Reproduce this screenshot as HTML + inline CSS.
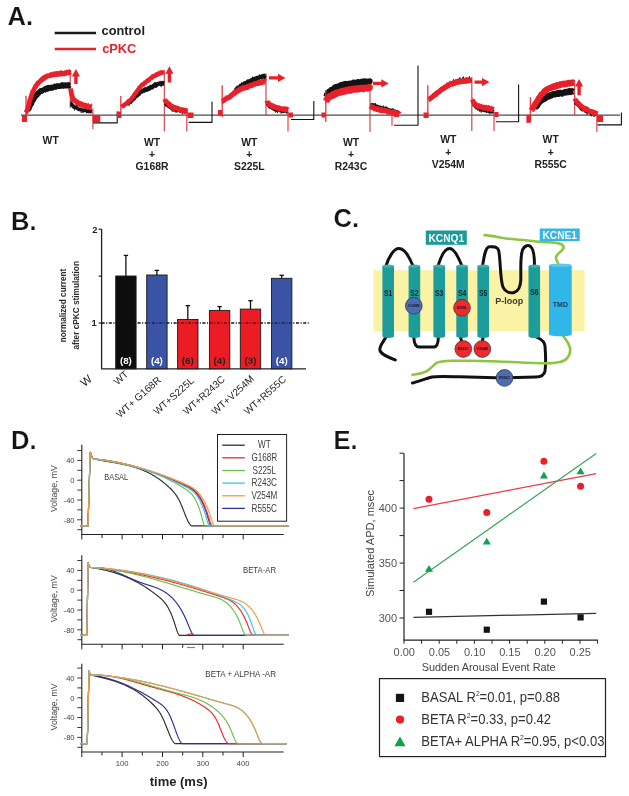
<!DOCTYPE html>
<html><head><meta charset="utf-8"><style>
html,body{margin:0;padding:0;background:#fff;width:629px;height:796px;overflow:hidden}
svg{display:block;filter:blur(0.3px)}
text{font-family:"Liberation Sans",sans-serif}
</style></head><body>
<svg width="629" height="796" viewBox="0 0 629 796">
<rect width="629" height="796" fill="#fff"/>
<g id="A">
<text x="7.6" y="25" font-size="25.5" font-weight="bold" fill="#141414" stroke="#fff" stroke-width="0.22">A.</text>
<line x1="54.7" y1="33" x2="96" y2="33" stroke="#1a1a1a" stroke-width="2.6"/>
<line x1="54.7" y1="49" x2="96" y2="49" stroke="#e8202a" stroke-width="2.6"/>
<text x="101.6" y="35.0" font-size="12.8" font-weight="bold" fill="#222">control</text>
<text x="102.2" y="53.0" font-size="12.8" font-weight="bold" fill="#e8202a">cPKC</text>
<line x1="21" y1="115.2" x2="620" y2="115.2" stroke="#4a4a4a" stroke-width="1.3"/>
<path d="M93,122.9 H117.2 V111.5" fill="none" stroke="#111" stroke-width="1.1"/>
<line x1="70.3" y1="70" x2="70.3" y2="108" stroke="#c0303a" stroke-width="1.3" opacity="0.8"/>
<path d="M28.6,108.6 L28.9,108.9 L29.2,108.1 L29.6,106.6 L30.1,106.0 L30.6,104.9 L31.2,104.1 L31.7,103.2 L32.3,101.3 L32.8,100.2 L33.3,100.2 L33.8,98.9 L34.3,98.5 L34.8,96.8 L35.3,96.6 L35.8,96.3 L36.3,95.1 L36.7,95.4 L37.2,94.9 L37.6,93.3 L38.1,92.9 L38.5,93.1 L39.0,93.1 L39.5,92.1 L39.9,91.5 L40.4,91.5 L40.9,90.7 L41.3,90.7 L41.8,90.8 L42.3,90.6 L42.7,90.1 L43.2,89.9 L43.7,89.7 L44.2,89.7 L44.6,89.3 L45.1,88.8 L45.6,89.6 L46.0,89.0 L46.5,89.0 L47.0,88.2 L47.5,89.0 L48.0,88.7 L48.6,87.6 L49.0,87.8 L49.4,88.1 L49.8,88.0 L50.3,88.2 L50.7,87.5 L51.2,87.9 L51.6,87.6 L52.1,87.1 L52.5,87.3 L53.0,87.6 L53.5,87.5 L54.0,87.0 L54.5,87.0 L55.0,86.2 L55.4,86.4 L55.9,87.0 L56.3,86.5 L56.8,86.1 L57.3,86.4 L57.7,86.5 L58.2,86.4 L58.7,86.0 L59.2,86.0 L59.7,86.0 L60.1,86.2 L60.6,85.8 L61.1,85.6 L61.6,85.7 L62.0,85.0 L62.5,85.0 L62.9,85.7 L63.4,86.0 L64.0,85.5 L64.5,85.2 L65.1,84.9 L65.6,85.3 L66.2,85.9 L66.7,85.6 L67.2,85.3 L67.7,85.7 L68.1,84.9 L68.5,85.2 L68.9,85.8 L69.2,85.3 L69.5,85.2" fill="none" stroke="#141414" stroke-width="5.3" stroke-linejoin="round"/>
<path d="M28.6,107.3 L28.8,108.6 L29.1,105.7 L29.5,109.5 L29.8,104.7 L30.3,106.1 L30.7,107.8 L31.2,103.3 L31.6,106.2 L32.1,103.7 L32.6,101.5 L33.0,101.2 L33.5,100.1 L33.9,97.9 L34.3,101.6 L34.8,96.8 L35.2,100.1 L35.7,98.6 L36.1,92.4 L36.5,93.5 L36.9,94.5 L37.3,96.3 L37.7,91.6 L38.2,94.2 L38.6,92.1 L39.0,94.5 L39.4,95.1 L39.9,93.7 L40.3,89.6 L40.7,93.2 L41.1,90.8 L41.6,93.3 L42.0,90.6 L42.4,93.3 L42.8,93.7 L43.3,92.4 L43.7,92.2 L44.1,92.0 L44.5,90.3 L44.9,87.3 L45.3,92.6 L45.7,88.9 L46.0,85.7 L46.4,88.4 L46.8,88.1 L47.3,86.5 L47.7,91.5 L48.1,85.6 L48.6,90.8 L49.0,88.3 L49.4,85.7 L49.8,86.8 L50.2,87.4 L50.6,85.0 L51.0,89.3 L51.4,88.5 L51.8,90.7 L52.3,89.5 L52.7,89.2 L53.1,90.5 L53.6,90.0 L54.1,87.9 L54.5,87.2 L55.0,87.0 L55.4,88.9 L55.8,89.6 L56.2,88.8 L56.6,88.8 L57.0,83.2 L57.4,85.8 L57.9,83.5 L58.3,86.8 L58.7,86.7 L59.2,86.5 L59.6,88.4 L60.0,84.0 L60.5,87.4 L60.9,86.4 L61.3,83.8 L61.7,88.9 L62.1,82.6 L62.5,85.3 L62.9,85.7 L63.4,86.1 L63.8,88.7 L64.3,85.7 L64.8,88.0 L65.3,83.9 L65.8,85.2 L66.2,82.9 L66.7,86.2 L67.1,84.7 L67.6,87.2 L68.0,82.6 L68.3,85.0 L68.7,88.3 L69.0,81.9 L69.3,86.3 L69.5,85.2" fill="none" stroke="#141414" stroke-width="0.75" opacity="0.9"/>
<path d="M70.9,104.0 L71.2,104.4 L71.6,103.8 L72.1,104.3 L72.7,105.8 L73.3,106.3 L73.9,106.7 L74.5,106.8 L74.9,107.4 L75.4,107.7 L75.9,107.9 L76.3,107.6 L76.8,108.2 L77.3,108.3 L77.8,108.9 L78.3,109.4 L78.8,109.6 L79.3,109.3 L79.8,109.3 L80.2,109.2 L80.7,109.1 L81.1,109.2 L81.5,109.9 L82.0,109.8 L82.5,110.0 L83.0,110.7 L83.5,110.4 L84.1,110.6 L84.5,110.3 L85.0,110.1 L85.4,110.5 L85.9,110.4 L86.5,110.9 L87.0,111.5 L87.6,111.2 L88.1,110.7 L88.6,111.6 L89.2,111.6 L89.6,111.6 L90.1,111.8 L90.5,111.7 L90.9,111.8 L91.2,111.3 L91.5,111.5" fill="none" stroke="#141414" stroke-width="3.2" stroke-linejoin="round"/>
<path d="M70.9,106.8 L71.2,100.7 L71.5,105.7 L71.9,104.5 L72.4,108.1 L72.9,105.0 L73.4,109.0 L74.0,104.3 L74.5,110.4 L74.9,106.7 L75.3,105.3 L75.7,106.7 L76.2,108.8 L76.6,105.0 L77.1,107.6 L77.5,105.2 L78.0,105.8 L78.4,106.6 L78.9,107.2 L79.3,107.7 L79.7,111.2 L80.1,108.9 L80.5,112.1 L80.9,112.5 L81.3,112.6 L81.7,113.0 L82.2,110.6 L82.6,111.4 L83.1,112.9 L83.6,110.7 L84.1,108.1 L84.5,110.7 L84.8,110.8 L85.3,108.5 L85.7,108.0 L86.2,108.7 L86.6,112.2 L87.1,113.1 L87.6,112.1 L88.1,110.6 L88.6,107.9 L89.0,107.8 L89.5,112.3 L89.9,111.5 L90.3,111.1 L90.7,109.2 L91.0,108.9 L91.3,109.3 L91.5,111.5" fill="none" stroke="#141414" stroke-width="0.75" opacity="0.9"/>
<path d="M25.8,112.7 L26.1,112.4 L26.5,111.3 L27.1,110.5 L27.6,109.3 L28.1,107.2 L28.6,105.5 L29.0,104.6 L29.4,101.9 L29.9,99.9 L30.5,98.8 L30.9,97.0 L31.3,96.2 L31.7,94.5 L32.2,93.4 L32.7,91.6 L33.2,91.0 L33.7,90.1 L34.3,88.6 L34.7,88.2 L35.1,87.4 L35.6,85.9 L36.1,86.1 L36.6,85.2 L37.1,84.2 L37.6,83.2 L38.1,83.6 L38.6,82.5 L39.1,82.3 L39.5,81.9 L40.0,81.3 L40.5,81.0 L41.0,80.0 L41.5,80.1 L41.9,79.3 L42.4,79.6 L42.9,79.2 L43.3,78.0 L43.8,77.8 L44.2,77.7 L44.6,78.3 L45.0,77.4 L45.5,77.3 L45.9,76.6 L46.3,76.6 L46.7,76.2 L47.1,75.9 L47.5,76.0 L48.0,75.8 L48.6,76.0 L49.0,75.6 L49.4,75.8 L49.8,75.6 L50.2,75.7 L50.6,75.2 L51.1,74.5 L51.5,75.3 L52.0,75.3 L52.5,75.2 L53.0,74.7 L53.5,74.8 L54.0,74.1 L54.5,74.8 L55.0,74.4 L55.4,74.0 L55.9,73.6 L56.3,74.5 L56.8,74.6 L57.2,73.5 L57.7,74.3 L58.2,73.8 L58.7,73.4 L59.1,73.5 L59.6,74.0 L60.1,74.1 L60.6,73.0 L61.1,73.7 L61.5,72.9 L62.0,73.7 L62.5,73.2 L62.9,73.8 L63.4,73.8 L63.9,73.2 L64.5,73.7 L65.0,72.8 L65.6,72.4 L66.1,73.0 L66.7,72.2 L67.2,72.3 L67.7,72.5 L68.2,72.7 L68.6,72.1 L69.0,71.9 L69.4,72.8 L69.7,72.1 L70.0,72.3" fill="none" stroke="#e8202a" stroke-width="4.699999999999999" stroke-linejoin="round"/>
<path d="M25.8,113.8 L26.1,115.0 L26.5,111.2 L27.1,111.8 L27.6,112.1 L28.1,107.8 L28.6,107.7 L29.0,105.8 L29.4,104.6 L29.9,97.0 L30.5,96.0 L30.9,100.5 L31.2,97.7 L31.6,93.3 L32.0,95.5 L32.4,90.5 L32.8,90.7 L33.3,90.2 L33.8,87.7 L34.3,86.1 L34.7,88.0 L35.0,88.4 L35.4,85.5 L35.8,87.3 L36.2,88.8 L36.6,82.0 L37.1,82.9 L37.5,81.1 L37.9,84.5 L38.4,82.2 L38.8,81.9 L39.2,80.1 L39.6,83.3 L40.0,82.8 L40.4,80.2 L40.9,82.4 L41.3,78.0 L41.8,78.4 L42.2,82.3 L42.6,77.1 L43.1,76.2 L43.5,75.2 L43.9,79.3 L44.3,80.1 L44.6,74.7 L45.0,77.4 L45.4,76.5 L45.8,75.8 L46.2,74.9 L46.5,75.7 L46.9,73.8 L47.2,78.9 L47.6,73.8 L48.1,75.9 L48.6,76.5 L48.9,76.5 L49.3,75.1 L49.7,75.4 L50.1,78.1 L50.5,72.8 L50.9,72.9 L51.3,73.5 L51.8,76.4 L52.2,74.2 L52.7,73.9 L53.1,71.7 L53.6,72.0 L54.0,75.5 L54.5,72.5 L55.0,74.0 L55.4,72.5 L55.8,72.9 L56.2,72.0 L56.6,76.9 L57.0,74.9 L57.4,73.9 L57.8,72.1 L58.3,76.2 L58.7,74.2 L59.1,71.3 L59.6,71.5 L60.0,76.7 L60.4,72.4 L60.8,73.0 L61.3,70.8 L61.7,76.0 L62.1,71.7 L62.5,73.8 L62.9,74.8 L63.4,73.5 L63.8,72.3 L64.3,71.5 L64.8,74.4 L65.3,71.3 L65.8,73.7 L66.2,75.9 L66.7,75.6 L67.2,73.9 L67.6,73.3 L68.1,70.3 L68.5,74.7 L68.8,75.3 L69.2,71.4 L69.5,69.4 L69.8,72.6 L70.0,72.3" fill="none" stroke="#e8202a" stroke-width="0.75" opacity="0.9"/>
<path d="M70.6,88.7 L70.9,90.4 L71.4,93.5 L72.0,95.6 L72.4,96.7 L72.8,98.1 L73.3,99.6 L74.0,100.4 L74.4,100.7 L74.8,100.4 L75.2,101.1 L75.7,101.1 L76.2,101.3 L76.7,101.6 L77.3,102.0 L77.8,103.2 L78.3,103.4 L78.8,103.6 L79.3,103.9 L79.8,103.4 L80.2,103.8 L80.7,104.4 L81.1,104.7 L81.6,105.1 L82.0,105.3 L82.5,104.5 L83.0,105.3 L83.5,105.5 L84.1,105.5 L84.5,105.2 L85.0,105.7 L85.5,105.3 L86.0,106.5 L86.5,106.5 L87.1,106.2 L87.6,106.0 L88.2,106.9 L88.8,106.6 L89.3,107.0 L89.8,107.1 L90.3,106.8 L90.7,106.7 L91.1,107.0 L91.4,106.9 L91.7,107.0" fill="none" stroke="#e8202a" stroke-width="4.8" stroke-linejoin="round"/>
<path d="M70.6,91.8 L70.9,88.5 L71.4,94.0 L72.0,95.9 L72.3,100.1 L72.6,97.0 L72.9,98.2 L73.4,99.8 L74.0,99.2 L74.3,103.1 L74.6,103.2 L75.0,102.4 L75.4,98.1 L75.8,104.8 L76.3,102.1 L76.7,102.7 L77.1,102.6 L77.6,102.7 L78.0,105.7 L78.5,101.5 L78.9,100.8 L79.3,106.9 L79.7,102.1 L80.2,102.5 L80.6,103.7 L81.0,107.1 L81.4,103.7 L81.8,101.4 L82.2,103.3 L82.6,103.2 L83.1,101.9 L83.6,108.0 L84.1,107.1 L84.4,103.1 L84.8,103.9 L85.2,109.0 L85.6,107.2 L86.1,105.6 L86.6,106.6 L87.0,109.4 L87.5,104.5 L88.0,107.2 L88.4,103.1 L88.9,106.4 L89.3,104.8 L89.8,105.6 L90.2,106.0 L90.5,106.3 L90.9,109.5 L91.2,106.0 L91.5,103.7 L91.7,107.0" fill="none" stroke="#e8202a" stroke-width="0.75" opacity="0.9"/>
<line x1="26.0" y1="95.8" x2="26.0" y2="122" stroke="#e8202a" stroke-width="1.4" opacity="0.85"/>
<line x1="92.9" y1="108.6" x2="92.9" y2="129" stroke="#e8202a" stroke-width="1.3" opacity="0.8"/>
<rect x="92.7" y="115.3" width="7.6" height="6.7" fill="#e8202a"/>
<rect x="22" y="115" width="5" height="7" fill="#e8202a"/>
<path d="M74.2,84.0 V76.5 H71.80000000000001 L75.9,69.0 L80.0,76.5 H77.60000000000001 V84.0 Z" fill="#e8202a"/>
<path d="M188.7,122.4 H212 V101.6" fill="none" stroke="#111" stroke-width="1.1"/>
<line x1="164.4" y1="70" x2="164.4" y2="131.4" stroke="#c0303a" stroke-width="1.3" opacity="0.8"/>
<path d="M128.0,102.7 L128.3,103.3 L128.6,102.1 L129.0,102.5 L129.5,101.4 L130.0,101.2 L130.5,101.7 L131.0,100.3 L131.6,100.4 L132.1,99.8 L132.7,99.3 L133.2,99.0 L133.7,98.2 L134.1,98.6 L134.6,97.2 L135.1,96.9 L135.6,96.1 L136.1,95.9 L136.5,95.6 L137.0,95.7 L137.4,94.6 L137.9,93.8 L138.3,93.5 L138.8,94.0 L139.3,92.5 L139.8,92.8 L140.2,92.2 L140.7,92.2 L141.2,91.6 L141.7,91.7 L142.2,91.2 L142.6,91.2 L143.1,91.2 L143.6,90.6 L144.1,89.8 L144.6,89.5 L145.0,90.4 L145.5,89.7 L146.0,89.2 L146.5,89.9 L147.0,89.3 L147.4,89.3 L147.9,89.3 L148.4,88.3 L148.9,88.2 L149.4,88.6 L149.8,87.5 L150.3,88.0 L150.8,86.9 L151.3,87.4 L151.8,87.1 L152.2,87.2 L152.7,86.8 L153.2,86.2 L153.7,85.6 L154.1,85.4 L154.6,85.6 L155.0,85.4 L155.5,84.7 L156.0,85.5 L156.4,84.8 L156.9,84.9 L157.4,84.1 L157.9,84.0 L158.4,83.6 L158.9,83.9 L159.4,83.7 L159.9,83.7 L160.5,83.6 L161.0,84.0 L161.6,84.0 L162.1,83.1 L162.6,83.3 L163.0,82.9 L163.3,83.4 L163.6,83.2" fill="none" stroke="#141414" stroke-width="4.1" stroke-linejoin="round"/>
<path d="M128.0,103.5 L128.2,100.8 L128.5,103.6 L128.9,105.4 L129.2,98.9 L129.6,101.4 L130.1,100.4 L130.5,99.6 L131.0,103.3 L131.5,103.5 L131.9,102.0 L132.4,99.1 L132.9,101.8 L133.3,96.2 L133.7,98.5 L134.1,98.0 L134.6,94.9 L135.0,97.7 L135.5,96.0 L135.9,95.5 L136.3,93.2 L136.7,96.6 L137.1,92.5 L137.5,91.4 L138.0,96.7 L138.4,92.5 L138.8,94.2 L139.2,94.6 L139.7,94.5 L140.1,95.3 L140.5,89.8 L141.0,91.5 L141.4,89.1 L141.9,92.9 L142.3,89.3 L142.7,89.3 L143.2,89.0 L143.6,92.0 L144.0,90.2 L144.4,92.4 L144.8,90.6 L145.2,90.4 L145.6,90.8 L146.0,88.4 L146.4,88.7 L146.8,87.8 L147.2,87.1 L147.6,91.7 L148.0,89.5 L148.4,88.3 L148.8,89.2 L149.3,86.0 L149.7,90.6 L150.1,87.7 L150.6,86.1 L151.0,88.6 L151.5,87.0 L151.9,88.2 L152.3,84.1 L152.8,89.5 L153.2,88.8 L153.6,83.5 L154.0,85.9 L154.5,82.5 L154.9,82.4 L155.3,83.3 L155.7,82.2 L156.1,88.0 L156.5,84.7 L157.0,85.0 L157.4,85.9 L157.9,82.8 L158.3,84.1 L158.7,85.5 L159.2,84.7 L159.6,82.6 L160.1,80.8 L160.6,86.4 L161.0,86.9 L161.5,86.8 L161.9,81.0 L162.4,81.4 L162.7,81.3 L163.1,85.6 L163.4,82.7 L163.6,83.2" fill="none" stroke="#141414" stroke-width="0.75" opacity="0.9"/>
<path d="M165.0,103.0 L165.3,103.1 L165.6,103.1 L166.0,104.2 L166.4,103.6 L166.9,104.6 L167.3,105.4 L167.9,104.9 L168.4,105.9 L169.0,106.4 L169.5,106.2 L170.1,107.0 L170.6,107.8 L171.2,107.8 L171.7,108.5 L172.2,108.1 L172.7,108.4 L173.1,108.5 L173.6,109.1 L174.1,109.8 L174.5,109.5 L175.0,109.9 L175.5,109.5 L176.0,110.1 L176.5,109.4 L176.9,109.7 L177.4,110.3 L177.9,110.4 L178.3,110.1 L178.8,109.8 L179.2,110.1 L179.7,110.2 L180.2,110.3 L180.7,111.1 L181.2,110.4 L181.7,111.3 L182.3,111.4 L182.8,110.5 L183.3,110.9 L183.8,111.1 L184.3,110.6 L184.8,111.2 L185.2,111.8 L185.6,110.9 L185.9,111.5 L186.2,111.0 L186.5,111.5" fill="none" stroke="#141414" stroke-width="3.2" stroke-linejoin="round"/>
<path d="M165.0,101.1 L165.2,106.1 L165.5,106.4 L165.8,100.4 L166.2,106.3 L166.6,105.8 L167.0,105.9 L167.4,101.7 L167.9,107.7 L168.4,105.0 L168.9,108.3 L169.3,106.8 L169.8,108.7 L170.3,108.9 L170.8,106.6 L171.3,109.1 L171.8,111.4 L172.2,111.2 L172.6,111.5 L173.0,106.2 L173.4,110.0 L173.9,111.6 L174.3,108.0 L174.7,106.4 L175.1,111.3 L175.6,110.1 L176.0,112.9 L176.4,108.2 L176.8,107.2 L177.2,110.6 L177.7,112.5 L178.1,111.2 L178.5,107.6 L178.9,109.2 L179.3,107.9 L179.7,109.9 L180.1,112.5 L180.6,110.3 L181.0,111.0 L181.5,109.0 L182.0,111.0 L182.4,114.3 L182.9,110.3 L183.3,109.8 L183.8,112.5 L184.2,113.8 L184.6,108.2 L185.0,112.3 L185.4,112.0 L185.7,112.1 L186.0,111.5 L186.3,112.7 L186.5,111.5" fill="none" stroke="#141414" stroke-width="0.75" opacity="0.9"/>
<path d="M121.7,106.8 L122.0,106.4 L122.4,106.4 L122.8,105.6 L123.3,106.0 L123.9,105.6 L124.5,105.0 L124.9,104.1 L125.3,104.2 L125.8,103.7 L126.3,103.2 L126.8,103.7 L127.3,103.3 L127.8,101.8 L128.3,102.3 L128.8,101.6 L129.3,100.9 L129.8,100.3 L130.3,100.2 L130.7,99.4 L131.2,99.1 L131.7,98.5 L132.2,97.3 L132.7,97.5 L133.1,97.1 L133.6,96.5 L134.1,95.4 L134.6,94.1 L135.0,93.4 L135.5,92.9 L136.0,93.1 L136.4,91.7 L136.9,91.0 L137.4,91.0 L137.9,89.6 L138.3,89.3 L138.8,88.5 L139.3,87.5 L139.8,87.6 L140.2,87.4 L140.7,86.1 L141.2,85.7 L141.7,85.5 L142.2,84.6 L142.6,84.7 L143.1,84.6 L143.6,84.0 L144.1,83.4 L144.6,83.4 L145.0,82.2 L145.5,82.3 L146.0,81.7 L146.5,81.6 L147.0,80.6 L147.4,81.0 L147.9,79.9 L148.4,79.6 L148.9,80.0 L149.4,79.8 L149.8,78.9 L150.3,78.5 L150.8,78.0 L151.3,77.7 L151.8,77.7 L152.2,76.9 L152.7,76.5 L153.2,76.6 L153.7,76.0 L154.1,76.3 L154.6,76.3 L155.0,76.0 L155.5,75.4 L155.9,75.0 L156.4,74.9 L156.9,74.2 L157.4,74.8 L157.9,74.1 L158.3,73.9 L158.8,73.4 L159.3,73.6 L159.8,73.5 L160.4,73.1 L160.9,73.4 L161.4,72.9 L161.9,72.2 L162.4,72.3 L162.8,72.6 L163.2,72.0 L163.5,71.9 L163.8,71.7" fill="none" stroke="#e8202a" stroke-width="4.1" stroke-linejoin="round"/>
<path d="M121.7,105.4 L122.0,107.0 L122.4,104.7 L122.8,108.1 L123.3,105.4 L123.9,104.1 L124.5,107.5 L124.8,106.5 L125.2,106.7 L125.6,105.2 L126.0,101.6 L126.4,102.7 L126.8,101.4 L127.2,104.8 L127.6,99.1 L128.1,104.1 L128.5,99.5 L128.9,100.1 L129.3,101.9 L129.7,101.7 L130.2,100.2 L130.6,100.0 L131.0,99.7 L131.5,99.3 L131.9,95.4 L132.4,96.2 L132.8,93.7 L133.2,96.9 L133.7,94.5 L134.1,93.5 L134.5,93.2 L135.0,97.1 L135.4,91.0 L135.8,95.6 L136.2,95.0 L136.7,89.6 L137.1,93.2 L137.5,88.2 L137.9,90.7 L138.4,86.6 L138.8,87.4 L139.2,88.0 L139.7,86.8 L140.1,89.3 L140.5,87.7 L141.0,83.1 L141.4,86.2 L141.9,82.6 L142.3,82.8 L142.7,83.8 L143.2,82.9 L143.6,84.2 L144.0,86.7 L144.4,85.0 L144.8,83.1 L145.2,84.7 L145.6,79.9 L146.0,83.3 L146.4,84.7 L146.8,84.2 L147.2,81.0 L147.6,81.2 L148.0,79.5 L148.4,79.6 L148.8,83.0 L149.3,76.9 L149.7,81.5 L150.1,76.9 L150.6,78.8 L151.0,78.4 L151.5,74.7 L151.9,77.4 L152.3,73.9 L152.8,80.0 L153.2,79.7 L153.6,77.0 L154.0,78.0 L154.5,77.6 L154.9,73.8 L155.3,72.6 L155.7,74.5 L156.1,74.6 L156.5,74.9 L157.0,75.9 L157.4,76.3 L157.9,74.7 L158.3,70.7 L158.7,72.8 L159.2,74.6 L159.7,76.1 L160.2,70.0 L160.7,74.6 L161.1,72.7 L161.6,71.5 L162.1,75.0 L162.5,70.8 L162.9,70.3 L163.3,72.3 L163.6,72.8 L163.8,71.7" fill="none" stroke="#e8202a" stroke-width="0.75" opacity="0.9"/>
<path d="M164.8,98.9 L165.1,99.8 L165.6,101.3 L166.5,102.0 L166.8,102.3 L167.2,102.8 L167.6,102.7 L168.0,103.5 L168.5,104.1 L169.0,104.7 L169.5,104.3 L170.0,105.0 L170.6,105.1 L171.1,106.4 L171.6,106.6 L172.2,106.2 L172.6,107.5 L173.1,107.7 L173.5,107.5 L174.0,107.7 L174.4,107.3 L174.9,107.4 L175.4,108.2 L175.9,107.8 L176.4,108.1 L176.9,108.3 L177.3,108.2 L177.8,108.9 L178.3,109.0 L178.8,109.6 L179.2,109.4 L179.7,109.7 L180.2,109.6 L180.7,110.0 L181.2,109.9 L181.7,109.8 L182.3,110.7 L182.8,110.9 L183.3,110.8 L183.8,110.7 L184.3,110.3 L184.8,110.3 L185.2,110.5 L185.6,110.3 L185.9,111.2 L186.2,110.8 L186.5,111.0" fill="none" stroke="#e8202a" stroke-width="4.8" stroke-linejoin="round"/>
<path d="M164.8,99.0 L165.0,99.9 L165.3,102.3 L165.8,99.8 L166.5,100.8 L166.8,103.6 L167.1,102.5 L167.4,102.0 L167.8,102.6 L168.2,102.5 L168.6,101.7 L169.0,105.3 L169.4,107.4 L169.9,106.4 L170.3,106.4 L170.8,104.7 L171.3,105.7 L171.7,104.0 L172.2,108.3 L172.6,105.5 L173.0,105.7 L173.4,110.6 L173.8,106.4 L174.2,110.9 L174.6,108.6 L175.0,109.8 L175.4,109.0 L175.9,106.1 L176.3,109.9 L176.8,107.0 L177.2,108.1 L177.6,106.4 L178.0,106.0 L178.5,108.2 L178.9,106.0 L179.3,108.6 L179.7,111.9 L180.1,113.0 L180.6,109.2 L181.0,107.2 L181.5,108.9 L182.0,107.1 L182.4,108.3 L182.9,111.1 L183.3,111.2 L183.8,107.3 L184.2,110.5 L184.6,110.1 L185.0,110.0 L185.4,108.3 L185.7,110.1 L186.0,108.2 L186.3,112.2 L186.5,111.0" fill="none" stroke="#e8202a" stroke-width="0.75" opacity="0.9"/>
<line x1="120.8" y1="96" x2="120.8" y2="118" stroke="#e8202a" stroke-width="1.4" opacity="0.85"/>
<line x1="186.8" y1="110" x2="186.8" y2="131.5" stroke="#e8202a" stroke-width="1.3" opacity="0.8"/>
<rect x="117" y="111.5" width="4" height="6.5" fill="#e8202a"/>
<rect x="187.5" y="112.5" width="6" height="5.5" fill="#e8202a"/>
<path d="M167.70000000000002,82.4 V73.7 H165.3 L169.4,66.2 L173.5,73.7 H171.1 V82.4 Z" fill="#e8202a"/>
<path d="M291,119.5 H313.8 V101" fill="none" stroke="#111" stroke-width="1.1"/>
<line x1="266" y1="73.5" x2="266" y2="115" stroke="#c0303a" stroke-width="1.3" opacity="0.8"/>
<path d="M236.0,90.6 L236.3,89.2 L236.6,89.7 L237.0,88.7 L237.4,89.3 L237.9,87.7 L238.4,88.3 L239.0,87.6 L239.6,87.3 L240.2,87.0 L240.8,85.7 L241.2,85.5 L241.6,85.7 L242.0,85.0 L242.5,84.7 L242.9,84.4 L243.4,84.9 L243.8,84.6 L244.3,84.2 L244.8,83.3 L245.3,83.9 L245.8,83.1 L246.3,82.5 L246.8,82.5 L247.3,82.2 L247.9,81.5 L248.4,81.9 L248.8,81.4 L249.2,81.5 L249.7,81.7 L250.1,81.2 L250.6,80.7 L251.0,81.1 L251.5,81.0 L252.0,80.2 L252.4,80.6 L252.9,79.3 L253.4,79.2 L253.9,79.1 L254.3,79.8 L254.8,79.4 L255.3,79.2 L255.7,78.5 L256.2,78.6 L256.6,78.9 L257.1,77.8 L257.5,77.7 L257.9,77.5 L258.4,77.8 L259.0,78.0 L259.5,77.5 L260.1,77.2 L260.6,77.1 L261.2,76.6 L261.7,77.3 L262.2,76.5 L262.7,76.2 L263.2,76.2 L263.7,76.7 L264.1,75.9 L264.5,76.5 L264.8,75.8 L265.1,75.8 L265.4,75.8" fill="none" stroke="#141414" stroke-width="4.1" stroke-linejoin="round"/>
<path d="M236.0,89.4 L236.2,88.4 L236.5,91.9 L236.8,88.9 L237.1,89.2 L237.5,89.0 L237.9,87.2 L238.4,88.8 L238.8,90.2 L239.3,84.2 L239.8,87.1 L240.3,84.7 L240.8,87.1 L241.2,86.6 L241.5,82.5 L241.9,82.7 L242.3,85.3 L242.7,87.3 L243.1,86.6 L243.5,86.6 L243.9,81.7 L244.3,82.9 L244.7,84.2 L245.2,82.5 L245.6,81.3 L246.1,85.8 L246.5,83.6 L247.0,81.8 L247.5,82.1 L247.9,83.4 L248.4,83.6 L248.8,83.5 L249.2,80.3 L249.6,84.5 L250.0,82.9 L250.4,79.4 L250.8,78.5 L251.2,80.1 L251.6,78.8 L252.1,82.8 L252.5,76.7 L252.9,82.0 L253.4,77.4 L253.8,81.6 L254.2,78.9 L254.7,76.7 L255.1,82.3 L255.5,78.3 L255.9,82.0 L256.3,77.4 L256.7,76.6 L257.1,78.6 L257.5,76.1 L257.9,78.5 L258.4,79.2 L258.9,78.6 L259.4,74.2 L259.8,78.5 L260.3,75.6 L260.8,76.7 L261.3,79.4 L261.8,79.3 L262.2,74.2 L262.7,73.8 L263.1,78.1 L263.5,75.8 L263.9,77.6 L264.3,77.1 L264.6,79.4 L264.9,78.4 L265.2,79.2 L265.4,75.8" fill="none" stroke="#141414" stroke-width="0.75" opacity="0.9"/>
<path d="M267.0,103.8 L267.2,104.2 L267.5,104.3 L267.8,104.6 L268.2,104.8 L268.6,105.5 L269.0,105.3 L269.4,106.1 L269.9,105.8 L270.4,106.5 L270.9,106.9 L271.4,107.0 L272.0,108.1 L272.6,107.9 L273.2,108.8 L273.8,109.3 L274.4,108.7 L274.8,109.6 L275.2,109.6 L275.6,109.6 L276.0,108.9 L276.5,109.6 L277.0,109.9 L277.5,109.6 L278.0,109.6 L278.5,109.8 L279.0,109.9 L279.5,110.6 L280.1,110.2 L280.6,110.3 L281.1,110.7 L281.7,111.1 L282.2,110.4 L282.7,110.2 L283.2,111.4 L283.7,111.3 L284.2,111.3 L284.7,111.1 L285.1,110.8 L285.5,110.8 L285.9,111.0 L286.3,111.3 L286.7,110.8 L287.0,111.6 L287.3,111.7 L287.5,111.5" fill="none" stroke="#141414" stroke-width="3.2" stroke-linejoin="round"/>
<path d="M267.0,101.1 L267.2,103.7 L267.5,102.6 L267.7,104.2 L268.0,103.2 L268.4,107.6 L268.7,105.8 L269.1,107.4 L269.5,108.9 L269.9,106.3 L270.3,106.5 L270.8,104.5 L271.2,109.3 L271.7,104.7 L272.2,107.0 L272.8,106.0 L273.3,110.1 L273.8,108.5 L274.4,109.0 L274.7,109.3 L275.1,111.6 L275.5,112.6 L275.9,108.6 L276.3,112.1 L276.7,111.1 L277.1,111.1 L277.6,113.1 L278.0,108.0 L278.5,108.8 L279.0,110.0 L279.5,108.9 L280.0,108.9 L280.4,108.4 L280.9,113.3 L281.4,113.8 L281.9,113.2 L282.4,112.7 L282.8,110.1 L283.3,109.6 L283.7,110.3 L284.2,107.7 L284.6,108.5 L285.0,110.9 L285.4,110.6 L285.8,112.3 L286.1,111.7 L286.5,108.6 L286.8,113.7 L287.0,110.9 L287.3,111.3 L287.5,111.5" fill="none" stroke="#141414" stroke-width="0.75" opacity="0.9"/>
<path d="M222.6,100.8 L222.9,101.0 L223.2,101.0 L223.6,100.0 L224.1,100.3 L224.6,100.0 L225.1,99.6 L225.7,98.7 L226.2,98.3 L226.8,98.4 L227.3,98.5 L227.9,97.6 L228.4,97.6 L228.9,97.1 L229.3,97.4 L229.9,97.2 L230.4,96.1 L230.9,96.4 L231.4,94.9 L231.8,95.4 L232.3,95.1 L232.7,93.9 L233.2,94.1 L233.6,93.6 L234.1,93.7 L234.6,92.5 L235.0,92.6 L235.5,92.7 L236.0,92.1 L236.4,91.4 L236.9,90.9 L237.4,91.6 L237.9,90.8 L238.3,91.2 L238.8,89.9 L239.3,90.4 L239.8,90.1 L240.2,90.0 L240.7,88.7 L241.2,88.9 L241.7,88.2 L242.2,88.8 L242.6,88.1 L243.1,88.6 L243.6,87.7 L244.1,88.1 L244.6,88.0 L245.0,87.1 L245.5,87.4 L246.0,87.7 L246.5,87.1 L247.0,86.8 L247.4,86.5 L247.9,87.0 L248.4,86.1 L248.9,86.5 L249.4,86.2 L249.8,86.0 L250.3,85.3 L250.8,85.7 L251.3,85.9 L251.8,84.9 L252.2,84.8 L252.7,85.3 L253.2,84.7 L253.7,84.2 L254.1,83.7 L254.5,84.4 L255.0,83.8 L255.4,83.8 L255.8,83.4 L256.3,83.7 L256.8,83.7 L257.3,83.0 L257.9,82.6 L258.3,83.6 L258.8,83.4 L259.2,82.2 L259.8,82.7 L260.3,82.8 L260.8,82.3 L261.4,82.6 L261.9,82.8 L262.5,82.2 L263.0,81.9 L263.5,81.5 L264.0,81.5 L264.4,81.3 L264.8,81.2 L265.1,81.2 L265.4,81.5" fill="none" stroke="#e8202a" stroke-width="4.699999999999999" stroke-linejoin="round"/>
<path d="M222.6,97.9 L222.8,102.5 L223.1,103.7 L223.5,99.7 L223.8,103.1 L224.3,99.4 L224.7,100.5 L225.2,102.3 L225.7,97.1 L226.1,95.7 L226.6,96.4 L227.1,95.2 L227.6,97.6 L228.1,95.2 L228.5,94.8 L228.9,95.9 L229.3,96.3 L229.8,99.2 L230.3,93.0 L230.7,97.0 L231.2,98.3 L231.6,96.8 L232.0,92.6 L232.4,92.2 L232.8,93.3 L233.3,90.5 L233.7,96.7 L234.1,95.0 L234.5,95.0 L235.0,93.6 L235.4,95.6 L235.8,91.3 L236.2,88.7 L236.7,90.6 L237.1,90.8 L237.5,93.1 L237.9,87.4 L238.4,93.0 L238.8,89.3 L239.2,86.8 L239.7,90.5 L240.1,92.1 L240.5,90.1 L241.0,90.7 L241.4,88.5 L241.9,88.0 L242.3,85.2 L242.7,90.8 L243.2,88.6 L243.6,85.4 L244.0,85.6 L244.4,87.9 L244.8,88.8 L245.2,90.4 L245.6,86.8 L246.0,87.5 L246.4,88.4 L246.8,84.0 L247.2,90.0 L247.6,85.9 L248.0,89.9 L248.4,89.1 L248.8,88.6 L249.3,83.7 L249.7,85.7 L250.1,85.7 L250.6,84.4 L251.0,85.3 L251.5,83.9 L251.9,85.7 L252.3,86.4 L252.8,86.0 L253.2,86.7 L253.6,86.4 L254.0,83.4 L254.4,85.2 L254.8,85.9 L255.2,81.0 L255.6,84.9 L256.0,83.4 L256.4,81.1 L256.9,82.0 L257.4,85.1 L257.9,84.2 L258.3,83.3 L258.7,85.7 L259.1,83.5 L259.5,79.4 L260.0,83.6 L260.5,82.6 L261.0,84.4 L261.5,83.1 L261.9,84.0 L262.4,79.1 L262.9,83.3 L263.4,80.0 L263.8,79.5 L264.2,83.5 L264.6,83.8 L264.9,84.7 L265.2,80.5 L265.4,81.5" fill="none" stroke="#e8202a" stroke-width="0.75" opacity="0.9"/>
<path d="M267.0,100.6 L267.2,101.8 L267.6,102.3 L268.5,103.1 L268.8,103.7 L269.2,104.0 L269.6,104.3 L270.0,104.5 L270.5,104.6 L270.9,104.9 L271.4,105.7 L272.0,105.5 L272.5,106.2 L273.0,106.7 L273.5,107.0 L273.9,107.3 L274.4,106.7 L274.9,106.9 L275.3,107.6 L275.8,107.6 L276.2,107.3 L276.7,108.0 L277.1,108.3 L277.5,108.4 L278.0,107.7 L278.5,107.9 L279.0,107.7 L279.5,109.0 L280.0,108.2 L280.4,108.9 L280.9,108.7 L281.4,108.9 L281.9,108.9 L282.5,109.4 L283.0,109.2 L283.6,108.9 L284.1,108.8 L284.6,109.3 L285.2,109.9 L285.6,109.1 L286.1,109.8 L286.5,109.8 L286.9,109.3 L287.2,109.4 L287.5,109.8" fill="none" stroke="#e8202a" stroke-width="4.8" stroke-linejoin="round"/>
<path d="M267.0,102.6 L267.2,104.6 L267.6,104.2 L268.5,106.3 L268.8,101.1 L269.1,104.5 L269.5,103.8 L269.9,102.9 L270.3,107.2 L270.7,103.9 L271.2,108.5 L271.7,104.6 L272.1,106.2 L272.6,108.0 L273.1,108.3 L273.5,103.5 L274.0,108.4 L274.4,104.3 L274.8,106.1 L275.2,104.6 L275.6,108.2 L276.0,105.5 L276.3,105.6 L276.7,108.0 L277.1,107.4 L277.5,108.2 L277.9,108.2 L278.3,109.5 L278.7,110.9 L279.1,111.5 L279.5,109.0 L280.0,109.4 L280.4,109.2 L280.8,107.6 L281.2,110.7 L281.7,106.3 L282.2,111.9 L282.6,108.8 L283.1,110.8 L283.6,110.5 L284.1,106.4 L284.6,108.8 L285.0,108.6 L285.5,106.9 L285.9,111.2 L286.3,109.0 L286.7,110.8 L287.0,106.6 L287.3,112.7 L287.5,109.8" fill="none" stroke="#e8202a" stroke-width="0.75" opacity="0.9"/>
<line x1="222.2" y1="85.3" x2="222.2" y2="117" stroke="#e8202a" stroke-width="1.4" opacity="0.85"/>
<line x1="288" y1="112" x2="288" y2="131.5" stroke="#e8202a" stroke-width="1.3" opacity="0.8"/>
<rect x="217.9" y="109.9" width="4.3" height="5.5" fill="#e8202a"/>
<rect x="288.5" y="112.5" width="4.5" height="5" fill="#e8202a"/>
<path d="M268.9,76.2 H278.0 V73.80000000000001 L285.5,77.9 L278.0,82.0 V79.60000000000001 H268.9 Z" fill="#e8202a"/>
<path d="M394,125.2 H418 V65.6" fill="none" stroke="#111" stroke-width="1.1"/>
<line x1="370" y1="78" x2="370" y2="132" stroke="#c0303a" stroke-width="1.3" opacity="0.8"/>
<path d="M326.5,96.5 L326.8,95.0 L327.3,94.1 L327.9,94.4 L328.5,92.6 L328.9,92.0 L329.3,92.2 L329.8,91.3 L330.3,91.5 L331.0,90.2 L331.4,90.8 L331.8,89.8 L332.2,89.8 L332.6,89.9 L333.1,89.3 L333.6,89.3 L334.1,88.8 L334.6,87.7 L335.0,88.4 L335.5,87.8 L336.0,87.3 L336.4,86.9 L336.8,87.5 L337.2,87.0 L337.6,87.2 L337.9,86.9 L338.3,86.9 L338.7,86.3 L339.2,86.3 L339.8,86.0 L340.4,85.4 L341.2,86.0 L341.5,85.2 L341.9,85.7 L342.2,85.8 L342.6,85.4 L343.0,84.7 L343.4,85.4 L343.8,85.1 L344.3,84.5 L344.7,84.2 L345.2,84.7 L345.6,84.0 L346.1,85.0 L346.6,84.4 L347.0,84.3 L347.5,84.1 L348.0,84.3 L348.5,84.6 L349.0,83.8 L349.5,83.7 L350.0,83.9 L350.5,83.5 L351.0,83.8 L351.5,83.6 L352.0,83.4 L352.5,83.6 L353.0,83.4 L353.5,82.8 L354.0,83.8 L354.4,83.0 L354.9,83.0 L355.4,82.9 L355.8,83.5 L356.3,83.4 L356.8,82.8 L357.3,82.6 L357.8,82.2 L358.4,83.1 L358.9,82.2 L359.4,82.6 L359.9,82.3 L360.4,82.2 L360.9,82.2 L361.5,81.9 L362.0,81.7 L362.5,82.2 L363.0,82.5 L363.4,82.3 L363.9,81.7 L364.4,82.2 L364.8,81.4 L365.2,81.8 L365.7,82.2 L366.1,82.3 L366.4,81.7 L366.8,82.1 L367.1,81.7 L367.4,81.7 L367.7,81.7 L368.0,82.2 L369.5,81.7 L369.6,81.4 L369.5,81.4" fill="none" stroke="#141414" stroke-width="6.1" stroke-linejoin="round"/>
<path d="M326.5,93.1 L326.8,96.2 L327.1,98.3 L327.6,93.2 L328.0,93.9 L328.5,92.1 L328.9,94.2 L329.2,93.4 L329.6,92.4 L330.0,94.6 L330.4,92.3 L331.0,89.4 L331.3,89.4 L331.7,90.9 L332.1,91.1 L332.5,87.6 L332.9,91.3 L333.3,88.6 L333.8,90.6 L334.2,85.7 L334.7,87.0 L335.1,84.7 L335.6,87.2 L336.0,85.8 L336.4,86.3 L336.8,85.2 L337.1,89.3 L337.4,87.7 L337.8,85.6 L338.1,86.4 L338.5,84.2 L338.9,89.2 L339.4,88.8 L339.9,86.3 L340.5,83.3 L341.2,88.6 L341.5,83.5 L341.8,82.3 L342.1,84.7 L342.4,84.4 L342.8,87.5 L343.1,82.7 L343.5,82.0 L343.8,84.5 L344.2,81.7 L344.6,85.9 L345.0,84.6 L345.4,87.2 L345.8,87.5 L346.2,82.7 L346.6,86.4 L347.0,84.3 L347.5,87.3 L347.9,81.3 L348.3,83.8 L348.8,87.3 L349.2,80.9 L349.7,82.5 L350.1,82.5 L350.5,82.8 L351.0,87.0 L351.4,81.5 L351.9,85.7 L352.3,81.9 L352.7,85.9 L353.2,80.9 L353.6,80.5 L354.0,86.5 L354.4,79.8 L354.8,84.1 L355.2,81.0 L355.6,83.5 L356.0,81.7 L356.5,83.7 L356.9,84.0 L357.4,84.5 L357.8,80.1 L358.3,84.9 L358.7,80.8 L359.2,83.2 L359.7,84.6 L360.1,84.3 L360.6,82.6 L361.0,82.3 L361.5,79.9 L361.9,84.8 L362.4,82.8 L362.8,84.0 L363.2,85.3 L363.7,83.4 L364.1,80.7 L364.5,81.8 L364.9,79.7 L365.3,80.4 L365.6,84.3 L366.0,83.0 L366.3,79.5 L366.6,81.9 L367.0,81.1 L367.2,83.8 L367.5,83.9 L367.8,80.6 L368.0,78.8 L369.5,79.3 L369.6,81.8 L369.5,81.4" fill="none" stroke="#141414" stroke-width="0.75" opacity="0.9"/>
<path d="M371.0,105.0 L371.3,105.2 L371.7,105.2 L372.2,104.5 L372.7,105.3 L373.2,105.3 L373.8,105.6 L374.4,105.4 L375.0,105.6 L375.4,106.1 L375.8,105.9 L376.2,106.3 L376.6,105.9 L377.0,106.1 L377.5,107.0 L377.9,106.7 L378.4,107.0 L379.0,107.4 L379.5,107.1 L380.2,107.0 L380.6,108.0 L381.0,107.8 L381.4,108.0 L381.8,108.1 L382.2,108.7 L382.7,108.1 L383.2,108.7 L383.7,108.4 L384.1,108.8 L384.6,109.1 L385.1,108.8 L385.6,108.7 L386.2,109.3 L386.7,109.8 L387.2,109.8 L387.7,109.8 L388.1,110.1 L388.6,109.7 L389.1,109.9 L389.6,110.2 L390.0,110.9 L390.5,110.3 L391.0,110.3 L391.6,110.4 L392.1,110.5 L392.7,110.9 L393.2,111.4 L393.8,111.8 L394.3,111.4 L394.9,111.5 L395.4,111.5 L395.9,111.7 L396.3,112.4 L396.8,112.2 L397.2,111.9 L397.6,111.8 L397.9,112.7 L398.2,112.7 L398.5,112.5" fill="none" stroke="#141414" stroke-width="3.2" stroke-linejoin="round"/>
<path d="M371.0,103.0 L371.2,104.6 L371.5,105.1 L371.9,104.6 L372.3,105.6 L372.7,105.1 L373.1,105.4 L373.6,103.5 L374.1,103.0 L374.5,104.2 L375.0,107.9 L375.4,102.9 L375.7,105.2 L376.1,105.8 L376.5,106.8 L376.8,106.1 L377.2,109.1 L377.6,109.7 L378.1,107.4 L378.5,105.0 L379.1,109.7 L379.6,109.7 L380.2,107.3 L380.5,109.6 L380.9,110.3 L381.2,110.9 L381.6,106.1 L382.0,106.1 L382.4,110.2 L382.8,106.7 L383.2,106.9 L383.6,105.5 L384.0,110.5 L384.5,107.0 L384.9,106.7 L385.3,109.9 L385.8,106.4 L386.2,111.3 L386.7,106.7 L387.1,112.9 L387.5,107.3 L388.0,107.5 L388.4,109.8 L388.8,112.0 L389.2,110.2 L389.6,111.8 L390.0,108.7 L390.4,113.1 L390.9,108.7 L391.4,110.2 L391.8,113.0 L392.3,110.4 L392.8,108.2 L393.2,112.8 L393.7,108.6 L394.2,110.9 L394.6,110.6 L395.1,111.7 L395.5,109.4 L395.9,114.8 L396.3,114.1 L396.7,112.4 L397.1,110.8 L397.4,111.5 L397.7,110.7 L398.0,111.8 L398.3,112.4 L398.5,112.5" fill="none" stroke="#141414" stroke-width="0.75" opacity="0.9"/>
<path d="M326.0,101.3 L326.3,100.8 L326.8,99.2 L327.4,99.3 L328.0,97.6 L328.4,97.8 L328.9,96.8 L329.3,97.3 L329.8,96.2 L330.4,96.6 L331.0,96.3 L331.4,96.1 L331.8,95.5 L332.2,95.8 L332.7,95.7 L333.1,94.4 L333.6,94.6 L334.1,94.9 L334.6,94.4 L335.1,93.8 L335.5,93.5 L336.0,94.0 L336.4,92.8 L336.8,93.5 L337.2,93.4 L337.6,92.5 L337.9,92.5 L338.3,92.4 L338.7,92.5 L339.2,92.1 L339.8,92.6 L340.4,92.5 L341.2,91.6 L341.5,92.2 L341.9,91.1 L342.2,91.1 L342.6,91.7 L343.0,91.7 L343.4,91.7 L343.8,91.8 L344.3,91.5 L344.7,90.7 L345.2,91.2 L345.6,91.3 L346.1,90.2 L346.6,90.6 L347.0,90.1 L347.5,89.9 L348.0,90.2 L348.5,90.4 L349.0,90.6 L349.5,89.5 L350.0,89.9 L350.5,90.4 L351.0,90.0 L351.5,89.6 L352.0,89.2 L352.5,89.6 L353.0,89.1 L353.5,89.4 L354.0,89.4 L354.4,89.0 L354.9,89.4 L355.4,88.9 L355.8,88.9 L356.3,89.3 L356.8,88.6 L357.3,88.4 L357.8,88.9 L358.4,88.6 L358.9,89.1 L359.4,88.3 L359.9,88.4 L360.4,88.0 L360.9,88.4 L361.5,88.2 L362.0,88.4 L362.5,88.7 L363.0,87.8 L363.4,88.9 L363.9,88.5 L364.4,88.6 L364.8,88.3 L365.2,88.3 L365.7,88.1 L366.1,88.0 L366.4,87.8 L366.8,87.9 L367.1,87.8 L367.4,87.8 L367.7,88.5 L368.0,88.4 L369.5,88.1 L369.6,87.3 L369.5,87.9" fill="none" stroke="#e8202a" stroke-width="6.5" stroke-linejoin="round"/>
<path d="M326.0,103.4 L326.3,100.7 L326.6,97.3 L327.0,96.7 L327.5,97.3 L328.0,100.6 L328.4,100.6 L328.7,96.4 L329.1,96.7 L329.5,96.5 L330.0,99.5 L330.5,95.9 L331.0,94.7 L331.3,95.8 L331.7,92.2 L332.1,95.5 L332.5,92.6 L332.9,97.1 L333.4,94.3 L333.8,97.6 L334.2,93.7 L334.7,92.5 L335.1,97.2 L335.6,96.2 L336.0,90.1 L336.4,96.6 L336.8,95.6 L337.1,95.9 L337.4,93.4 L337.8,94.4 L338.1,94.1 L338.5,91.4 L338.9,89.1 L339.4,93.6 L339.9,95.2 L340.5,89.3 L341.2,93.1 L341.5,91.7 L341.8,91.0 L342.1,92.9 L342.4,92.2 L342.8,93.3 L343.1,90.9 L343.5,91.0 L343.8,92.0 L344.2,89.2 L344.6,93.8 L345.0,87.9 L345.4,93.1 L345.8,88.2 L346.2,88.3 L346.6,94.0 L347.0,91.6 L347.5,88.9 L347.9,91.6 L348.3,88.9 L348.8,91.6 L349.2,88.8 L349.7,89.1 L350.1,87.2 L350.5,90.2 L351.0,87.5 L351.4,89.8 L351.9,88.9 L352.3,90.9 L352.7,87.5 L353.2,90.9 L353.6,86.5 L354.0,91.8 L354.4,86.6 L354.8,89.0 L355.2,86.5 L355.6,91.3 L356.0,87.5 L356.5,86.4 L356.9,90.2 L357.4,90.9 L357.8,89.6 L358.3,89.6 L358.7,89.9 L359.2,91.5 L359.7,87.2 L360.1,85.7 L360.6,91.6 L361.0,89.7 L361.5,89.8 L361.9,90.9 L362.4,86.3 L362.8,89.4 L363.2,88.3 L363.7,91.6 L364.1,89.3 L364.5,88.7 L364.9,90.8 L365.3,89.8 L365.6,88.2 L366.0,89.8 L366.3,86.5 L366.6,88.5 L367.0,87.6 L367.2,88.6 L367.5,90.2 L367.8,90.9 L368.0,90.1 L369.5,89.1 L369.6,90.5 L369.5,87.9" fill="none" stroke="#e8202a" stroke-width="0.75" opacity="0.9"/>
<path d="M371.0,106.4 L371.3,107.2 L371.6,107.3 L372.0,106.7 L372.4,107.8 L372.9,107.8 L373.5,107.4 L374.2,108.8 L375.0,108.2 L375.3,108.4 L375.7,108.6 L376.0,108.9 L376.4,108.5 L376.8,109.2 L377.2,109.5 L377.6,109.2 L378.1,109.7 L378.5,109.6 L379.0,109.9 L379.4,109.3 L379.9,109.6 L380.4,109.9 L380.9,109.5 L381.4,110.7 L381.9,110.4 L382.4,109.9 L382.9,110.6 L383.4,110.5 L384.0,110.3 L384.5,110.4 L384.9,110.8 L385.3,110.5 L385.8,111.2 L386.2,111.2 L386.7,110.8 L387.2,111.8 L387.7,110.9 L388.2,111.2 L388.7,112.1 L389.2,111.5 L389.8,111.8 L390.3,112.1 L390.8,112.0 L391.3,112.2 L391.8,112.3 L392.4,112.4 L392.9,112.0 L393.3,113.0 L393.8,112.5 L394.3,112.3 L394.7,112.8 L395.1,113.4 L395.5,113.2 L395.9,113.1 L396.3,113.2 L396.6,112.9 L396.9,113.5 L397.2,113.2 L398.5,113.1 L398.9,113.3 L398.9,113.3 L399.0,113.8" fill="none" stroke="#e8202a" stroke-width="4.8" stroke-linejoin="round"/>
<path d="M371.0,106.2 L371.2,106.2 L371.5,103.7 L371.7,108.8 L372.0,108.3 L372.4,108.5 L372.8,107.4 L373.3,109.0 L373.8,110.6 L374.4,109.6 L375.0,107.5 L375.3,111.3 L375.6,107.4 L375.9,106.0 L376.3,107.2 L376.6,109.0 L377.0,111.5 L377.4,108.1 L377.8,110.4 L378.2,107.8 L378.6,106.3 L379.0,112.8 L379.4,110.2 L379.9,109.5 L380.3,111.1 L380.7,107.5 L381.2,112.6 L381.7,108.8 L382.1,113.4 L382.6,108.1 L383.1,110.2 L383.5,109.3 L384.0,111.5 L384.5,107.8 L384.9,107.9 L385.3,109.8 L385.6,108.0 L386.1,113.3 L386.5,108.6 L386.9,110.0 L387.4,111.6 L387.8,108.9 L388.3,114.7 L388.7,110.3 L389.2,112.2 L389.7,109.9 L390.2,110.2 L390.6,113.0 L391.1,113.6 L391.6,114.3 L392.0,115.4 L392.5,115.4 L392.9,112.2 L393.4,109.4 L393.8,110.4 L394.2,115.4 L394.6,116.1 L395.0,113.3 L395.4,109.7 L395.7,111.5 L396.1,114.8 L396.4,111.1 L396.7,111.7 L397.0,112.9 L397.2,114.8 L398.5,115.4 L398.9,113.1 L398.9,112.9 L399.0,113.8" fill="none" stroke="#e8202a" stroke-width="0.75" opacity="0.9"/>
<line x1="325.8" y1="90" x2="325.8" y2="122" stroke="#e8202a" stroke-width="1.4" opacity="0.85"/>
<line x1="392" y1="112" x2="392" y2="125.7" stroke="#e8202a" stroke-width="1.3" opacity="0.8"/>
<rect x="321.5" y="112.5" width="4" height="5" fill="#e8202a"/>
<rect x="394" y="112" width="5" height="5" fill="#e8202a"/>
<path d="M373,81.7 H381.3 V79.30000000000001 L388.8,83.4 L381.3,87.5 V85.10000000000001 H373 Z" fill="#e8202a"/>
<path d="M496,121.7 H518.6 V84.5" fill="none" stroke="#111" stroke-width="1.1"/>
<line x1="471.8" y1="77" x2="471.8" y2="131" stroke="#c0303a" stroke-width="1.3" opacity="0.8"/>
<path d="M440.0,90.1 L440.2,89.7 L440.5,90.1 L440.9,89.2 L441.2,89.2 L441.6,88.8 L442.1,88.6 L442.5,89.0 L443.0,87.7 L443.5,87.8 L444.0,87.2 L444.5,87.0 L445.0,87.5 L445.5,86.3 L446.1,86.4 L446.6,85.8 L447.1,85.9 L447.6,85.2 L448.2,84.6 L448.6,84.6 L449.1,84.4 L449.6,84.6 L450.0,84.1 L450.5,83.4 L451.0,83.7 L451.5,83.0 L452.0,83.1 L452.4,82.5 L452.9,82.5 L453.4,82.8 L453.8,82.3 L454.3,82.4 L454.8,82.2 L455.2,81.9 L455.6,81.8 L456.1,81.3 L456.5,81.5 L456.9,81.5 L457.4,80.6 L457.8,81.4 L458.2,80.6 L458.7,80.2 L459.2,80.1 L459.7,80.2 L460.1,79.8 L460.6,80.1 L461.1,80.0 L461.5,80.2 L462.0,80.0 L462.4,80.4 L462.8,80.1 L463.3,79.6 L463.7,80.2 L464.1,79.9 L464.6,80.2 L465.0,79.9 L465.5,80.1 L466.0,79.1 L466.6,79.2 L467.1,80.0 L467.6,78.8 L468.2,79.8 L468.7,79.8 L469.2,78.9 L469.6,78.8 L470.0,79.7 L470.4,79.8 L470.7,79.7 L471.0,79.2" fill="none" stroke="#141414" stroke-width="2.7" stroke-linejoin="round"/>
<path d="M440.0,87.6 L440.2,88.8 L440.5,87.4 L440.7,87.8 L441.1,90.7 L441.4,86.8 L441.7,87.9 L442.1,86.6 L442.5,91.7 L442.9,88.1 L443.4,86.6 L443.8,87.0 L444.3,89.6 L444.7,86.2 L445.2,88.9 L445.6,85.7 L446.1,84.6 L446.6,88.7 L447.0,82.5 L447.5,88.2 L448.0,84.0 L448.4,86.5 L448.8,84.3 L449.2,81.5 L449.6,81.2 L450.0,81.3 L450.5,81.2 L450.9,81.4 L451.3,81.8 L451.8,81.2 L452.2,84.3 L452.6,82.5 L453.1,80.4 L453.5,79.2 L453.9,83.4 L454.3,82.4 L454.7,84.8 L455.1,79.4 L455.5,79.7 L455.9,84.5 L456.3,79.8 L456.7,84.2 L457.1,84.5 L457.4,81.2 L457.8,82.4 L458.2,78.5 L458.6,83.0 L459.1,81.4 L459.5,80.6 L459.9,77.1 L460.3,81.5 L460.7,80.5 L461.1,79.2 L461.5,82.9 L461.9,83.2 L462.3,81.7 L462.7,77.3 L463.1,83.1 L463.5,76.5 L463.9,81.2 L464.2,81.2 L464.6,79.0 L465.0,79.2 L465.4,77.7 L465.9,78.6 L466.3,77.7 L466.8,81.1 L467.3,79.8 L467.7,81.1 L468.2,80.9 L468.6,79.1 L469.1,79.6 L469.5,76.2 L469.9,78.3 L470.2,79.6 L470.5,79.2 L470.8,82.5 L471.0,79.2" fill="none" stroke="#141414" stroke-width="0.75" opacity="0.9"/>
<path d="M472.5,103.0 L472.8,103.0 L473.0,102.9 L473.4,104.0 L473.7,103.8 L474.1,104.2 L474.5,104.8 L475.0,105.5 L475.5,106.4 L476.0,106.2 L476.5,107.3 L477.0,107.7 L477.6,107.3 L478.2,107.5 L478.8,107.9 L479.5,109.1 L480.1,109.1 L480.5,109.7 L480.9,109.9 L481.3,109.6 L481.8,109.6 L482.2,109.2 L482.7,109.3 L483.2,110.4 L483.7,110.3 L484.3,110.6 L484.8,110.5 L485.4,110.7 L485.9,110.8 L486.5,111.2 L487.0,110.4 L487.5,110.9 L488.1,110.8 L488.6,111.5 L489.1,111.7 L489.6,111.0 L490.1,110.9 L490.6,111.2 L491.1,111.3 L491.5,111.9 L491.9,111.6 L492.3,112.1 L492.6,111.6 L493.0,111.9 L493.2,111.6 L493.5,112.0" fill="none" stroke="#141414" stroke-width="3.2" stroke-linejoin="round"/>
<path d="M472.5,101.4 L472.7,103.5 L473.0,104.8 L473.2,106.8 L473.5,103.0 L473.8,104.4 L474.1,103.7 L474.5,105.2 L474.9,107.6 L475.3,109.0 L475.7,108.9 L476.1,109.4 L476.5,103.7 L477.0,105.4 L477.5,110.5 L478.0,108.3 L478.5,105.7 L479.0,109.3 L479.6,111.7 L480.1,107.2 L480.4,108.1 L480.8,107.0 L481.2,112.6 L481.5,107.5 L481.9,108.0 L482.4,106.9 L482.8,107.2 L483.2,106.7 L483.7,106.7 L484.2,110.4 L484.6,109.0 L485.1,109.5 L485.6,111.1 L486.1,109.4 L486.6,112.4 L487.0,109.1 L487.5,110.9 L488.0,110.1 L488.5,112.7 L488.9,110.8 L489.4,109.7 L489.8,114.3 L490.2,113.3 L490.7,110.4 L491.1,112.7 L491.4,111.6 L491.8,108.6 L492.1,109.8 L492.5,112.9 L492.8,108.5 L493.0,108.8 L493.3,110.4 L493.5,112.0" fill="none" stroke="#141414" stroke-width="0.75" opacity="0.9"/>
<path d="M428.6,99.5 L428.9,99.4 L429.2,99.4 L429.6,99.4 L430.1,98.4 L430.6,97.9 L431.2,97.6 L431.7,97.8 L432.3,96.6 L432.8,96.8 L433.3,96.3 L433.8,95.2 L434.3,95.3 L434.8,94.8 L435.3,94.4 L435.8,94.7 L436.3,93.2 L436.8,92.7 L437.2,93.5 L437.7,92.5 L438.2,91.9 L438.6,91.7 L439.1,91.3 L439.6,91.7 L440.0,90.4 L440.5,90.1 L441.0,90.2 L441.4,89.8 L441.9,89.9 L442.4,89.5 L442.9,88.6 L443.3,88.1 L443.8,88.5 L444.3,88.4 L444.8,86.9 L445.2,87.5 L445.7,87.3 L446.2,86.8 L446.7,86.0 L447.2,86.4 L447.6,86.1 L448.1,85.2 L448.6,85.5 L449.1,84.7 L449.6,84.3 L450.0,84.5 L450.5,84.3 L451.0,84.1 L451.5,84.3 L452.0,84.3 L452.4,84.3 L452.9,84.1 L453.4,84.0 L453.9,83.6 L454.4,82.8 L454.8,82.5 L455.3,82.9 L455.8,82.6 L456.3,82.6 L456.8,81.8 L457.2,81.8 L457.7,82.5 L458.2,82.0 L458.7,82.0 L459.1,81.2 L459.5,81.5 L459.9,82.0 L460.3,81.6 L460.8,81.9 L461.2,80.9 L461.7,81.1 L462.3,81.4 L462.9,80.9 L463.3,81.3 L463.7,81.0 L464.2,80.4 L464.7,80.4 L465.2,81.4 L465.7,80.3 L466.2,80.4 L466.8,80.5 L467.3,80.9 L467.9,81.1 L468.4,80.6 L468.9,80.6 L469.4,80.9 L469.8,80.3 L470.3,80.4 L470.6,80.7 L470.9,80.7 L471.2,80.5" fill="none" stroke="#e8202a" stroke-width="4.699999999999999" stroke-linejoin="round"/>
<path d="M428.6,100.1 L428.8,99.6 L429.1,100.1 L429.5,98.6 L429.8,101.3 L430.3,96.4 L430.7,98.0 L431.2,99.7 L431.6,98.3 L432.1,99.9 L432.6,95.3 L433.0,95.4 L433.5,94.6 L433.9,93.1 L434.3,92.4 L434.7,95.0 L435.2,93.2 L435.6,94.8 L436.0,97.1 L436.4,97.0 L436.8,95.2 L437.2,91.9 L437.5,91.9 L437.9,95.1 L438.3,90.3 L438.7,94.0 L439.1,89.8 L439.5,90.8 L440.0,91.2 L440.4,93.7 L440.8,91.8 L441.2,92.2 L441.7,88.6 L442.1,88.3 L442.5,91.5 L442.9,89.3 L443.4,89.9 L443.8,85.4 L444.2,84.9 L444.6,87.1 L445.0,86.0 L445.4,85.5 L445.8,89.0 L446.2,89.5 L446.6,84.5 L447.0,83.4 L447.4,83.8 L447.8,83.6 L448.2,87.0 L448.6,84.5 L449.0,88.3 L449.5,81.6 L449.9,84.9 L450.3,82.0 L450.8,86.7 L451.2,83.4 L451.7,82.3 L452.1,84.4 L452.5,86.2 L453.0,80.3 L453.4,81.6 L453.8,86.0 L454.2,82.6 L454.6,80.2 L455.0,85.8 L455.4,85.8 L455.8,82.1 L456.2,80.4 L456.6,79.1 L457.0,83.9 L457.4,84.0 L457.8,83.6 L458.2,83.2 L458.6,80.8 L459.0,80.2 L459.4,82.1 L459.8,83.5 L460.1,81.2 L460.5,81.5 L460.9,80.5 L461.4,83.4 L461.8,84.2 L462.3,79.5 L462.9,84.1 L463.2,83.1 L463.6,80.3 L464.0,79.2 L464.5,82.1 L464.9,81.1 L465.4,81.4 L465.9,84.1 L466.4,84.0 L466.9,82.1 L467.3,80.8 L467.8,78.4 L468.3,77.8 L468.8,82.8 L469.2,78.9 L469.6,81.8 L470.0,79.2 L470.4,78.6 L470.7,81.8 L471.0,78.3 L471.2,80.5" fill="none" stroke="#e8202a" stroke-width="0.75" opacity="0.9"/>
<path d="M472.5,99.5 L472.8,100.4 L473.3,101.7 L474.0,103.5 L474.4,103.4 L474.8,104.0 L475.2,103.7 L475.7,104.6 L476.2,105.4 L476.8,105.4 L477.3,106.2 L477.9,106.5 L478.3,106.0 L478.7,105.8 L479.2,106.8 L479.6,106.2 L480.1,106.2 L480.6,107.2 L481.0,107.5 L481.5,107.6 L482.0,107.8 L482.5,107.0 L483.0,107.0 L483.4,107.1 L483.9,108.2 L484.4,107.3 L484.8,107.4 L485.3,107.3 L485.8,107.4 L486.3,107.5 L486.8,107.9 L487.2,107.7 L487.7,108.0 L488.2,108.8 L488.6,107.9 L489.0,108.8 L489.5,108.8 L490.1,108.7 L490.6,108.8 L491.1,109.2 L491.6,109.1 L492.1,108.8 L492.5,109.0 L492.9,109.0 L493.2,109.3 L493.5,109.5" fill="none" stroke="#e8202a" stroke-width="4.8" stroke-linejoin="round"/>
<path d="M472.5,97.6 L472.8,100.7 L473.3,101.9 L474.0,106.2 L474.3,105.5 L474.7,105.7 L475.1,105.3 L475.5,102.1 L476.0,107.6 L476.4,104.7 L476.9,106.0 L477.4,103.0 L477.9,104.7 L478.3,108.5 L478.7,103.8 L479.1,103.7 L479.5,105.4 L479.9,105.7 L480.3,106.8 L480.8,106.9 L481.2,104.9 L481.6,103.8 L482.1,106.3 L482.5,106.1 L483.0,107.8 L483.4,108.0 L483.8,109.1 L484.2,107.3 L484.6,107.0 L485.0,108.8 L485.4,110.7 L485.8,109.0 L486.2,104.8 L486.7,106.7 L487.1,111.3 L487.5,111.3 L487.9,106.8 L488.3,106.3 L488.6,105.0 L489.0,105.8 L489.5,105.6 L490.0,111.9 L490.5,111.8 L490.9,107.7 L491.4,105.7 L491.8,111.9 L492.3,110.0 L492.6,112.0 L493.0,108.0 L493.3,111.9 L493.5,109.5" fill="none" stroke="#e8202a" stroke-width="0.75" opacity="0.9"/>
<line x1="427.8" y1="85.3" x2="427.8" y2="116.8" stroke="#e8202a" stroke-width="1.4" opacity="0.85"/>
<line x1="494" y1="112" x2="494" y2="131" stroke="#e8202a" stroke-width="1.3" opacity="0.8"/>
<rect x="423.5" y="112.5" width="5" height="5.5" fill="#e8202a"/>
<rect x="494.5" y="112" width="4" height="5" fill="#e8202a"/>
<path d="M474.5,80.39999999999999 H482.0 V78.0 L489.5,82.1 L482.0,86.19999999999999 V83.8 H474.5 Z" fill="#e8202a"/>
<path d="M597.4,124.9 H621.4 V112.5" fill="none" stroke="#111" stroke-width="1.1"/>
<line x1="574.6" y1="80.8" x2="574.6" y2="115" stroke="#c0303a" stroke-width="1.3" opacity="0.8"/>
<path d="M536.4,106.0 L536.7,106.4 L537.1,105.8 L537.5,105.0 L538.1,104.2 L538.7,103.5 L539.3,101.8 L539.7,102.2 L540.1,101.3 L540.6,101.5 L541.1,100.7 L541.6,100.5 L542.1,100.1 L542.6,99.7 L543.1,99.7 L543.6,99.5 L544.1,98.4 L544.6,98.7 L545.0,98.5 L545.5,97.6 L546.0,97.1 L546.5,97.3 L546.9,97.4 L547.4,96.9 L547.9,96.2 L548.3,96.7 L548.8,96.0 L549.3,96.4 L549.8,95.4 L550.2,95.7 L550.7,95.2 L551.2,95.7 L551.7,94.5 L552.2,95.2 L552.6,94.5 L553.1,94.3 L553.6,93.9 L554.1,94.2 L554.6,94.6 L555.0,94.5 L555.5,94.4 L556.0,93.9 L556.5,93.4 L557.0,93.6 L557.4,93.7 L557.9,93.2 L558.4,94.0 L558.9,92.8 L559.4,93.0 L559.8,92.9 L560.3,92.8 L560.8,92.6 L561.3,92.8 L561.8,92.9 L562.2,93.6 L562.7,93.0 L563.2,93.0 L563.7,92.6 L564.1,92.3 L564.6,92.7 L565.1,92.8 L565.5,91.9 L566.0,92.5 L566.4,91.8 L566.9,92.3 L567.4,91.8 L567.9,91.5 L568.4,91.4 L568.9,92.1 L569.5,91.8 L570.0,91.2 L570.6,92.1 L571.2,91.4 L571.7,91.3 L572.2,91.0 L572.6,91.3 L573.0,91.6 L573.3,91.5" fill="none" stroke="#141414" stroke-width="5.8999999999999995" stroke-linejoin="round"/>
<path d="M536.4,108.2 L536.6,102.7 L537.0,107.7 L537.3,103.6 L537.8,100.9 L538.2,100.7 L538.8,103.0 L539.3,103.3 L539.6,104.3 L540.0,103.9 L540.4,98.7 L540.8,103.6 L541.2,98.0 L541.6,102.6 L542.0,99.8 L542.4,100.3 L542.9,101.2 L543.3,97.2 L543.7,95.9 L544.1,101.2 L544.5,96.1 L545.0,96.6 L545.4,95.0 L545.8,96.9 L546.2,96.0 L546.7,97.0 L547.1,100.0 L547.5,96.7 L547.9,96.1 L548.4,98.2 L548.8,97.5 L549.2,94.0 L549.6,98.2 L550.0,97.7 L550.4,93.8 L550.8,95.5 L551.2,96.2 L551.6,94.1 L552.0,96.0 L552.4,95.5 L552.8,94.1 L553.2,96.3 L553.6,92.0 L554.0,95.6 L554.5,96.0 L554.9,95.1 L555.3,96.6 L555.8,95.9 L556.2,93.4 L556.7,90.6 L557.1,90.9 L557.5,90.2 L558.0,91.3 L558.4,95.3 L558.8,96.2 L559.2,95.5 L559.6,96.1 L560.0,93.5 L560.4,95.3 L560.8,94.2 L561.2,96.3 L561.6,90.1 L562.0,95.1 L562.4,91.9 L562.8,91.2 L563.2,95.0 L563.6,92.9 L564.1,94.6 L564.5,91.5 L564.9,91.7 L565.3,93.9 L565.7,93.5 L566.1,92.4 L566.6,92.4 L567.0,93.6 L567.4,93.4 L567.9,93.3 L568.3,93.7 L568.7,88.7 L569.2,94.7 L569.7,90.4 L570.2,93.9 L570.7,90.5 L571.1,93.4 L571.6,89.9 L572.0,90.6 L572.4,89.7 L572.8,90.1 L573.1,90.2 L573.3,91.5" fill="none" stroke="#141414" stroke-width="0.75" opacity="0.9"/>
<path d="M575.0,102.2 L575.3,101.8 L575.6,102.7 L575.9,103.3 L576.3,103.7 L576.7,103.8 L577.1,104.4 L577.6,104.6 L578.1,105.3 L578.6,105.3 L579.1,106.5 L579.7,107.0 L580.2,107.1 L580.7,107.7 L581.2,108.5 L581.7,108.6 L582.2,109.6 L582.6,109.9 L583.1,110.0 L583.6,109.4 L584.0,109.6 L584.5,110.1 L585.0,110.4 L585.4,111.0 L585.9,111.4 L586.4,111.3 L586.9,111.5 L587.3,111.6 L587.8,111.2 L588.2,111.9 L588.7,111.7 L589.1,112.1 L589.6,111.8 L590.0,112.7 L590.5,113.2 L591.0,112.3 L591.6,113.1 L592.1,112.5 L592.7,113.1 L593.2,113.0 L593.7,113.9 L594.2,113.8 L594.6,114.1 L595.1,113.4 L595.5,114.1 L595.8,114.1 L596.1,114.0 L596.4,114.0" fill="none" stroke="#141414" stroke-width="3.2" stroke-linejoin="round"/>
<path d="M575.0,99.6 L575.2,100.1 L575.5,104.8 L575.8,103.1 L576.1,101.7 L576.5,102.4 L576.8,104.2 L577.2,103.2 L577.7,106.3 L578.1,102.7 L578.6,104.8 L579.0,104.7 L579.5,108.4 L580.0,109.4 L580.4,107.6 L580.9,110.6 L581.3,105.4 L581.8,109.9 L582.2,107.3 L582.6,107.1 L583.0,109.9 L583.4,106.9 L583.8,106.8 L584.2,108.7 L584.7,111.1 L585.1,111.7 L585.5,112.9 L585.9,109.8 L586.4,112.2 L586.8,114.6 L587.2,114.6 L587.6,109.7 L588.0,110.8 L588.4,109.9 L588.8,112.7 L589.2,112.1 L589.6,112.9 L590.0,111.1 L590.5,115.6 L591.0,110.1 L591.5,116.3 L592.0,115.4 L592.5,114.9 L593.0,114.2 L593.5,116.6 L593.9,113.3 L594.4,116.7 L594.8,116.7 L595.2,110.8 L595.6,114.1 L595.9,111.3 L596.2,115.4 L596.4,114.0" fill="none" stroke="#141414" stroke-width="0.75" opacity="0.9"/>
<path d="M531.7,110.2 L532.0,109.4 L532.4,109.2 L532.8,107.6 L533.3,107.5 L533.9,106.2 L534.5,105.4 L534.9,104.3 L535.3,103.8 L535.8,102.9 L536.3,102.2 L536.8,101.8 L537.3,100.7 L537.8,100.5 L538.3,99.3 L538.8,98.1 L539.3,97.8 L539.8,97.1 L540.3,96.0 L540.7,95.8 L541.2,94.5 L541.7,94.4 L542.2,94.0 L542.7,93.6 L543.1,93.4 L543.6,92.5 L544.1,91.3 L544.6,91.4 L545.0,90.8 L545.5,91.0 L546.0,90.8 L546.5,89.5 L546.9,90.0 L547.4,89.2 L547.9,88.7 L548.3,88.8 L548.8,88.5 L549.3,88.1 L549.8,87.9 L550.2,87.9 L550.7,88.0 L551.2,87.2 L551.7,87.3 L552.2,87.0 L552.6,87.4 L553.1,86.7 L553.6,87.1 L554.1,86.1 L554.6,86.9 L555.0,86.2 L555.5,86.6 L556.0,86.2 L556.5,86.1 L557.0,85.0 L557.4,85.7 L557.9,85.3 L558.4,85.6 L558.9,85.1 L559.4,84.7 L559.8,85.3 L560.3,85.3 L560.8,84.3 L561.3,84.1 L561.8,84.4 L562.2,84.5 L562.7,83.9 L563.2,84.3 L563.7,84.2 L564.1,84.4 L564.6,83.5 L565.0,83.4 L565.5,83.8 L566.0,84.0 L566.4,83.7 L566.9,83.8 L567.4,83.2 L567.9,82.8 L568.4,83.6 L568.8,83.5 L569.4,82.7 L569.9,82.7 L570.5,83.4 L571.0,83.3 L571.5,82.7 L572.0,82.7 L572.5,82.9 L572.9,82.4 L573.2,82.7 L573.5,82.9" fill="none" stroke="#e8202a" stroke-width="5.8999999999999995" stroke-linejoin="round"/>
<path d="M531.7,109.3 L532.0,107.4 L532.4,111.6 L532.8,109.0 L533.3,107.4 L533.9,107.6 L534.5,107.7 L534.9,106.0 L535.3,101.6 L535.7,106.7 L536.1,100.1 L536.5,99.5 L537.0,99.0 L537.5,99.8 L537.9,100.9 L538.4,96.6 L538.9,96.0 L539.3,97.5 L539.7,99.6 L540.1,93.6 L540.5,98.8 L540.9,93.8 L541.3,97.6 L541.7,92.6 L542.1,96.9 L542.5,96.9 L542.9,96.4 L543.3,93.7 L543.7,95.4 L544.1,93.8 L544.5,88.3 L545.0,91.1 L545.4,89.9 L545.8,89.7 L546.2,90.2 L546.7,89.8 L547.1,88.8 L547.5,86.9 L547.9,88.6 L548.4,87.5 L548.8,91.0 L549.2,85.1 L549.6,85.7 L550.0,88.4 L550.4,85.1 L550.8,86.3 L551.2,89.0 L551.6,90.7 L552.0,86.4 L552.4,84.0 L552.8,86.8 L553.2,86.0 L553.6,85.6 L554.0,87.5 L554.5,85.7 L554.9,85.3 L555.3,87.4 L555.8,86.1 L556.2,86.3 L556.7,84.5 L557.1,85.3 L557.5,86.2 L558.0,88.4 L558.4,87.1 L558.8,87.9 L559.2,87.1 L559.6,81.7 L560.0,83.5 L560.4,82.9 L560.8,84.3 L561.2,86.4 L561.6,85.9 L562.0,81.5 L562.4,81.3 L562.8,83.0 L563.2,81.0 L563.6,84.5 L564.0,82.0 L564.5,87.3 L564.9,85.0 L565.3,85.5 L565.7,83.3 L566.1,83.5 L566.6,81.1 L567.0,82.7 L567.4,86.7 L567.9,86.5 L568.3,84.9 L568.7,84.5 L569.1,80.8 L569.6,86.6 L570.1,85.9 L570.5,81.8 L571.0,83.9 L571.4,81.6 L571.9,85.7 L572.3,81.5 L572.7,85.6 L573.0,85.8 L573.3,80.8 L573.5,82.9" fill="none" stroke="#e8202a" stroke-width="0.75" opacity="0.9"/>
<path d="M575.0,98.7 L575.2,99.4 L575.6,100.0 L576.5,101.4 L576.8,101.9 L577.2,102.5 L577.6,102.5 L578.0,103.1 L578.5,103.4 L579.0,104.6 L579.5,104.6 L580.0,105.8 L580.5,105.3 L581.1,105.7 L581.6,106.7 L582.2,107.1 L582.6,107.8 L583.0,108.2 L583.5,108.0 L583.9,108.0 L584.4,108.8 L584.9,108.7 L585.3,108.7 L585.8,109.0 L586.3,108.8 L586.8,109.9 L587.3,109.3 L587.7,109.7 L588.2,110.4 L588.7,110.6 L589.1,110.8 L589.6,111.0 L590.0,111.4 L590.5,111.8 L591.0,112.0 L591.6,111.5 L592.1,111.7 L592.7,111.7 L593.2,112.2 L593.7,112.1 L594.2,113.2 L594.6,113.1 L595.1,112.7 L595.5,113.4 L595.8,113.5 L596.1,112.9 L596.4,113.5" fill="none" stroke="#e8202a" stroke-width="4.8" stroke-linejoin="round"/>
<path d="M575.0,96.2 L575.2,100.3 L575.6,103.7 L576.5,99.1 L576.8,104.2 L577.1,99.8 L577.4,102.0 L577.8,105.6 L578.1,102.0 L578.5,105.1 L579.0,101.4 L579.4,107.2 L579.8,105.0 L580.3,102.2 L580.8,103.6 L581.2,106.2 L581.7,108.8 L582.2,107.6 L582.6,110.7 L582.9,104.9 L583.3,107.3 L583.7,105.3 L584.1,110.7 L584.6,110.2 L585.0,112.1 L585.4,105.6 L585.8,111.8 L586.3,107.0 L586.7,107.7 L587.1,107.0 L587.6,108.9 L588.0,112.1 L588.4,109.3 L588.8,110.9 L589.2,112.2 L589.6,113.1 L590.0,111.4 L590.5,111.5 L591.0,110.7 L591.5,113.3 L592.0,111.6 L592.5,115.2 L593.0,115.1 L593.5,111.0 L593.9,115.9 L594.4,115.6 L594.8,113.3 L595.2,115.8 L595.6,111.9 L595.9,113.4 L596.2,114.2 L596.4,113.5" fill="none" stroke="#e8202a" stroke-width="0.75" opacity="0.9"/>
<line x1="530.4" y1="97.2" x2="530.4" y2="121.8" stroke="#e8202a" stroke-width="1.4" opacity="0.85"/>
<line x1="596.8" y1="112" x2="596.8" y2="132" stroke="#e8202a" stroke-width="1.3" opacity="0.8"/>
<rect x="526.4" y="114.8" width="4.3" height="8" fill="#e8202a"/>
<rect x="597" y="115" width="6" height="7" fill="#e8202a"/>
<path d="M577.4,95.3 V86.6 H575.0 L579.1,79.1 L583.2,86.6 H580.8000000000001 V95.3 Z" fill="#e8202a"/>
<text x="50.7" y="143.5" font-size="10.4" font-weight="bold" fill="#222" text-anchor="middle">WT</text>
<text x="152" y="145.6" font-size="10.4" font-weight="bold" fill="#222" text-anchor="middle">WT</text>
<text x="152" y="157.9" font-size="10.4" font-weight="bold" fill="#222" text-anchor="middle">+</text>
<text x="152" y="170.29999999999998" font-size="10.4" font-weight="bold" fill="#222" text-anchor="middle">G168R</text>
<text x="249.3" y="145.6" font-size="10.4" font-weight="bold" fill="#222" text-anchor="middle">WT</text>
<text x="249.3" y="157.9" font-size="10.4" font-weight="bold" fill="#222" text-anchor="middle">+</text>
<text x="249.3" y="170.29999999999998" font-size="10.4" font-weight="bold" fill="#222" text-anchor="middle">S225L</text>
<text x="351" y="145.6" font-size="10.4" font-weight="bold" fill="#222" text-anchor="middle">WT</text>
<text x="351" y="157.9" font-size="10.4" font-weight="bold" fill="#222" text-anchor="middle">+</text>
<text x="351" y="170.29999999999998" font-size="10.4" font-weight="bold" fill="#222" text-anchor="middle">R243C</text>
<text x="448.3" y="143.2" font-size="10.4" font-weight="bold" fill="#222" text-anchor="middle">WT</text>
<text x="448.3" y="155.5" font-size="10.4" font-weight="bold" fill="#222" text-anchor="middle">+</text>
<text x="448.3" y="167.89999999999998" font-size="10.4" font-weight="bold" fill="#222" text-anchor="middle">V254M</text>
<text x="550.7" y="143.4" font-size="10.4" font-weight="bold" fill="#222" text-anchor="middle">WT</text>
<text x="550.7" y="155.70000000000002" font-size="10.4" font-weight="bold" fill="#222" text-anchor="middle">+</text>
<text x="550.7" y="168.1" font-size="10.4" font-weight="bold" fill="#222" text-anchor="middle">R555C</text>
</g>
<g id="B">
<text x="11" y="230" font-size="25.5" font-weight="bold" fill="#141414" stroke="#fff" stroke-width="0.22">B.</text>
<line x1="101.6" y1="229.2" x2="101.6" y2="368.8" stroke="#222" stroke-width="1.3"/>
<line x1="101.0" y1="368.8" x2="306" y2="368.8" stroke="#222" stroke-width="1.3"/>
<line x1="98.6" y1="229.2" x2="101.6" y2="229.2" stroke="#222" stroke-width="1.2"/>
<line x1="98.6" y1="276.1" x2="101.6" y2="276.1" stroke="#222" stroke-width="1.2"/>
<line x1="98.6" y1="323.0" x2="101.6" y2="323.0" stroke="#222" stroke-width="1.2"/>
<text x="97.4" y="232.5" font-size="9.4" font-weight="bold" fill="#222" text-anchor="end">2</text>
<text x="96.6" y="326.4" font-size="9.4" font-weight="bold" fill="#222" text-anchor="end">1</text>
<line x1="101.6" y1="323.0" x2="308.6" y2="323.0" stroke="#222" stroke-width="1" stroke-dasharray="3,1.6,1,1.6"/>
<line x1="125.9" y1="255.4" x2="125.9" y2="276.0" stroke="#111" stroke-width="1.3"/>
<line x1="123.7" y1="255.4" x2="128.1" y2="255.4" stroke="#111" stroke-width="1.3"/>
<rect x="115.7" y="276.0" width="20.4" height="92.80000000000001" fill="#0d0d0d" stroke="#1a1a1a" stroke-width="0.9"/>
<text x="125.9" y="363.6" font-size="9.8" font-weight="bold" fill="#fff" text-anchor="middle">(8)</text>
<line x1="156.9" y1="270.4" x2="156.9" y2="275.0" stroke="#111" stroke-width="1.3"/>
<line x1="154.70000000000002" y1="270.4" x2="159.1" y2="270.4" stroke="#111" stroke-width="1.3"/>
<rect x="146.70000000000002" y="275.0" width="20.4" height="93.80000000000001" fill="#3a53a4" stroke="#1a1a1a" stroke-width="0.9"/>
<text x="156.9" y="363.6" font-size="9.8" font-weight="bold" fill="#fff" text-anchor="middle">(4)</text>
<line x1="187.8" y1="305.6" x2="187.8" y2="319.5" stroke="#111" stroke-width="1.3"/>
<line x1="185.60000000000002" y1="305.6" x2="190.0" y2="305.6" stroke="#111" stroke-width="1.3"/>
<rect x="177.60000000000002" y="319.5" width="20.4" height="49.30000000000001" fill="#ec1c24" stroke="#1a1a1a" stroke-width="0.9"/>
<text x="187.8" y="363.6" font-size="9.8" font-weight="bold" fill="#222" text-anchor="middle">(6)</text>
<line x1="219.6" y1="306.6" x2="219.6" y2="310.4" stroke="#111" stroke-width="1.3"/>
<line x1="217.4" y1="306.6" x2="221.79999999999998" y2="306.6" stroke="#111" stroke-width="1.3"/>
<rect x="209.4" y="310.4" width="20.4" height="58.400000000000034" fill="#ec1c24" stroke="#1a1a1a" stroke-width="0.9"/>
<text x="219.6" y="363.6" font-size="9.8" font-weight="bold" fill="#222" text-anchor="middle">(4)</text>
<line x1="250.5" y1="300.7" x2="250.5" y2="309.1" stroke="#111" stroke-width="1.3"/>
<line x1="248.3" y1="300.7" x2="252.7" y2="300.7" stroke="#111" stroke-width="1.3"/>
<rect x="240.3" y="309.1" width="20.4" height="59.69999999999999" fill="#ec1c24" stroke="#1a1a1a" stroke-width="0.9"/>
<text x="250.5" y="363.6" font-size="9.8" font-weight="bold" fill="#222" text-anchor="middle">(3)</text>
<line x1="281.7" y1="275.3" x2="281.7" y2="278.3" stroke="#111" stroke-width="1.3"/>
<line x1="279.5" y1="275.3" x2="283.9" y2="275.3" stroke="#111" stroke-width="1.3"/>
<rect x="271.5" y="278.3" width="20.4" height="90.5" fill="#3a53a4" stroke="#1a1a1a" stroke-width="0.9"/>
<text x="281.7" y="363.6" font-size="9.8" font-weight="bold" fill="#fff" text-anchor="middle">(4)</text>
<line x1="101.6" y1="323.0" x2="308.6" y2="323.0" stroke="#111" stroke-width="1" stroke-dasharray="3,1.6,1,1.6"/>
<g transform="translate(66,305.5) rotate(-90)"><text x="0" y="0" font-size="9.3" font-weight="bold" fill="#2a2a2a" text-anchor="middle" textLength="73.5" lengthAdjust="spacingAndGlyphs">normalized current</text></g>
<g transform="translate(79.2,305.3) rotate(-90)"><text x="0" y="0" font-size="9.3" font-weight="bold" fill="#2a2a2a" text-anchor="middle" textLength="88.5" lengthAdjust="spacingAndGlyphs">after cPKC stimulation</text></g>
<text transform="translate(117.6,385.6) rotate(-42)" font-size="10" fill="#222">WT</text>
<text transform="translate(120.1,418.2) rotate(-42)" font-size="10" fill="#222">WT+ G168R</text>
<text transform="translate(157.3,415.3) rotate(-42)" font-size="10" fill="#222">WT+S225L</text>
<text transform="translate(186.7,415.3) rotate(-42)" font-size="10" fill="#222">WT+R243C</text>
<text transform="translate(215.3,415.3) rotate(-42)" font-size="10" fill="#222">WT+V254M</text>
<text transform="translate(247.8,415.3) rotate(-42)" font-size="10" fill="#222">WT+R555C</text>
<text transform="translate(84.6,387.3) rotate(-40)" font-size="11.6" fill="#222">W</text>
</g>
<g id="C">
<text x="333.5" y="226.7" font-size="25.5" font-weight="bold" fill="#141414" stroke="#fff" stroke-width="0.22">C.</text>
<rect x="373.4" y="270.3" width="211.2" height="61.1" fill="#faf2a4"/>
<path d="M386,266 C389,256 394,248.6 399,248.6 C404,248.6 409,256 413,266" fill="none" stroke="#111" stroke-width="3" stroke-linecap="round"/>
<path d="M438,266 C441,256 445,248.6 449.7,248.6 C454,248.6 458,256 462,266" fill="none" stroke="#111" stroke-width="3" stroke-linecap="round"/>
<path d="M482.5,266 C484,258 485,247 489.5,246.8 C493,246.6 497,246 498.5,250 C500.5,256 500,280 503,287 C505,292 510,293.5 514,292.5 C519,291 520.5,287 520.8,280 C521,270 520,257 522.5,250 C524.5,245 529,244.5 531,247 C534,250 534.5,258 534.5,266" fill="none" stroke="#111" stroke-width="3" stroke-linecap="round"/>
<path d="M386,337 C384,341 380,345 379.8,349.5 C379.8,354 388,357 395.3,360" fill="none" stroke="#111" stroke-width="3" stroke-linecap="round"/>
<path d="M413.8,337 C414,342 415,347 419,347 L434,347 C437.5,347 438.2,343 438.4,337" fill="none" stroke="#111" stroke-width="3" stroke-linecap="round"/>
<path d="M460.5,337 L462.5,345" fill="none" stroke="#111" stroke-width="3" stroke-linecap="round"/>
<path d="M483,337 L482.3,343" fill="none" stroke="#111" stroke-width="3" stroke-linecap="round"/>
<path d="M534.5,336 C537,338 544.5,339 545,346 C545.7,355 545.7,366 545,371 C544,376 540,377 536,377 L504.5,377.9 L460,376.8 C445,376.3 436,376 432,377 C425,379 418,381.5 412.5,383" fill="none" stroke="#111" stroke-width="3" stroke-linecap="round"/>
<path d="M484.5,235.1 C495,236 503,238.5 511.2,239 C525,240 540,242 549,242.3 C556,242.6 563,243 563.5,247 C564,251 557,253 556,257 C555.5,259 557,261 558,263" fill="none" stroke="#8dc63f" stroke-width="2.6" stroke-linecap="round"/>
<path d="M562.8,335.5 C566,340 570.2,344 570.2,350 C570.2,356 566,361 560,362 C555,363 550,363.4 546.8,363.4 C520,362.5 490,360.8 470,360.7 L452,360.8 C442,361 438,362 436.3,363 C433,366 430,369 427.7,370.6 C424,373 418,374 412.5,374.8" fill="none" stroke="#8dc63f" stroke-width="2.6" stroke-linecap="round"/>
<path d="M382.4,266.1 V336.3 A5.8,1.7 0 0 0 394.0,336.3 V266.1 Z" fill="#1c9c9a"/><ellipse cx="388.2" cy="266.1" rx="5.8" ry="1.7" fill="#3fb1ad"/>
<path d="M408.6,266.1 V336.3 A5.8,1.7 0 0 0 420.20000000000005,336.3 V266.1 Z" fill="#1c9c9a"/><ellipse cx="414.40000000000003" cy="266.1" rx="5.8" ry="1.7" fill="#3fb1ad"/>
<path d="M433.4,266.1 V336.3 A5.8,1.7 0 0 0 445.0,336.3 V266.1 Z" fill="#1c9c9a"/><ellipse cx="439.2" cy="266.1" rx="5.8" ry="1.7" fill="#3fb1ad"/>
<path d="M456.3,266.1 V336.3 A5.8,1.7 0 0 0 467.90000000000003,336.3 V266.1 Z" fill="#1c9c9a"/><ellipse cx="462.1" cy="266.1" rx="5.8" ry="1.7" fill="#3fb1ad"/>
<path d="M477.4,266.1 V336.3 A5.8,1.7 0 0 0 489.0,336.3 V266.1 Z" fill="#1c9c9a"/><ellipse cx="483.2" cy="266.1" rx="5.8" ry="1.7" fill="#3fb1ad"/>
<path d="M528.5,266.1 V336.3 A5.8,1.7 0 0 0 540.1,336.3 V266.1 Z" fill="#1c9c9a"/><ellipse cx="534.3" cy="266.1" rx="5.8" ry="1.7" fill="#3fb1ad"/>
<path d="M549,265.2 V334.5 A11.35,1.7 0 0 0 571.7,334.5 V265.2 Z" fill="#30b7e8"/><ellipse cx="560.35" cy="265.2" rx="11.35" ry="1.7" fill="#5cc8ee"/>
<text x="388.2" y="296" font-size="8.8" font-weight="bold" fill="#0f2828" text-anchor="middle" textLength="8.2" lengthAdjust="spacingAndGlyphs">S1</text>
<text x="414.40000000000003" y="296" font-size="8.8" font-weight="bold" fill="#0f2828" text-anchor="middle" textLength="8.2" lengthAdjust="spacingAndGlyphs">S2</text>
<text x="439.2" y="296" font-size="8.8" font-weight="bold" fill="#0f2828" text-anchor="middle" textLength="8.2" lengthAdjust="spacingAndGlyphs">S3</text>
<text x="462.1" y="296" font-size="8.8" font-weight="bold" fill="#0f2828" text-anchor="middle" textLength="8.2" lengthAdjust="spacingAndGlyphs">S4</text>
<text x="483.2" y="295.7" font-size="8.8" font-weight="bold" fill="#0f2828" text-anchor="middle" textLength="8.2" lengthAdjust="spacingAndGlyphs">S5</text>
<text x="534.3" y="294.6" font-size="8.8" font-weight="bold" fill="#0f2828" text-anchor="middle" textLength="8.2" lengthAdjust="spacingAndGlyphs">S6</text>
<text x="509.3" y="303.5" font-size="9" font-weight="bold" fill="#3a3a2a" text-anchor="middle">P-loop</text>
<text x="560.4" y="307.2" font-size="7" font-weight="bold" fill="#1d3a55" text-anchor="middle">TMD</text>
<circle cx="413.8" cy="305.8" r="8.4" fill="#4a6cb5" stroke="#333" stroke-width="0.7"/>
<text x="413.8" y="307.1" font-size="3.6" font-weight="bold" fill="#2a1010" text-anchor="middle">G168R</text>
<circle cx="462" cy="307.8" r="8.4" fill="#ee2a2f" stroke="#333" stroke-width="0.7"/>
<text x="462" y="309.1" font-size="3.6" font-weight="bold" fill="#2a1010" text-anchor="middle">S225L</text>
<circle cx="463.3" cy="349" r="8.4" fill="#ee2a2f" stroke="#333" stroke-width="0.7"/>
<text x="463.3" y="350.3" font-size="3.6" font-weight="bold" fill="#2a1010" text-anchor="middle">R243C</text>
<circle cx="482.3" cy="349" r="8.4" fill="#ee2a2f" stroke="#333" stroke-width="0.7"/>
<text x="482.3" y="350.3" font-size="3.6" font-weight="bold" fill="#2a1010" text-anchor="middle">V254M</text>
<circle cx="504.5" cy="377.9" r="8.4" fill="#4a6cb5" stroke="#333" stroke-width="0.7"/>
<text x="504.5" y="379.2" font-size="3.6" font-weight="bold" fill="#2a1010" text-anchor="middle">R555C</text>
<rect x="425.8" y="230.5" width="41" height="14.3" fill="#1d9a98"/>
<text x="446.3" y="241.8" font-size="10.2" font-weight="bold" fill="#fff" text-anchor="middle">KCNQ1</text>
<rect x="539.7" y="228.5" width="40" height="12.6" fill="#35b6e6"/>
<text x="559.7" y="238.9" font-size="10.2" font-weight="bold" fill="#fff" text-anchor="middle">KCNE1</text>
</g>
<g id="D">
<text x="11" y="449.1" font-size="25.5" font-weight="bold" fill="#141414" stroke="#fff" stroke-width="0.22">D.</text>
<line x1="81.8" y1="444.8" x2="81.8" y2="534.5" stroke="#222" stroke-width="1.1"/>
<line x1="81.3" y1="534.5" x2="283.7" y2="534.5" stroke="#222" stroke-width="1.1"/>
<line x1="77.3" y1="450.5" x2="81.8" y2="450.5" stroke="#222" stroke-width="0.9"/>
<line x1="77.3" y1="460.4" x2="81.8" y2="460.4" stroke="#222" stroke-width="0.9"/>
<text x="74.6" y="463.1" font-size="7.6" fill="#444" text-anchor="end">40</text>
<line x1="77.3" y1="470.3" x2="81.8" y2="470.3" stroke="#222" stroke-width="0.9"/>
<line x1="77.3" y1="480.2" x2="81.8" y2="480.2" stroke="#222" stroke-width="0.9"/>
<text x="74.6" y="482.9" font-size="7.6" fill="#444" text-anchor="end">0</text>
<line x1="77.3" y1="490.1" x2="81.8" y2="490.1" stroke="#222" stroke-width="0.9"/>
<line x1="77.3" y1="500.0" x2="81.8" y2="500.0" stroke="#222" stroke-width="0.9"/>
<text x="74.6" y="502.7" font-size="7.6" fill="#444" text-anchor="end">-40</text>
<line x1="77.3" y1="509.9" x2="81.8" y2="509.9" stroke="#222" stroke-width="0.9"/>
<line x1="77.3" y1="519.8" x2="81.8" y2="519.8" stroke="#222" stroke-width="0.9"/>
<text x="74.6" y="522.5" font-size="7.6" fill="#444" text-anchor="end">-80</text>
<line x1="77.3" y1="529.7" x2="81.8" y2="529.7" stroke="#222" stroke-width="0.9"/>
<line x1="81.8" y1="534.5" x2="81.8" y2="539.5" stroke="#222" stroke-width="1"/>
<line x1="102.0" y1="534.5" x2="102.0" y2="538.0" stroke="#222" stroke-width="1"/>
<line x1="122.1" y1="534.5" x2="122.1" y2="539.5" stroke="#222" stroke-width="1"/>
<line x1="142.3" y1="534.5" x2="142.3" y2="538.0" stroke="#222" stroke-width="1"/>
<line x1="162.5" y1="534.5" x2="162.5" y2="539.5" stroke="#222" stroke-width="1"/>
<line x1="182.7" y1="534.5" x2="182.7" y2="538.0" stroke="#222" stroke-width="1"/>
<line x1="202.8" y1="534.5" x2="202.8" y2="539.5" stroke="#222" stroke-width="1"/>
<line x1="223.0" y1="534.5" x2="223.0" y2="538.0" stroke="#222" stroke-width="1"/>
<line x1="243.2" y1="534.5" x2="243.2" y2="539.5" stroke="#222" stroke-width="1"/>
<text transform="translate(56.6,488.6) rotate(-90)" font-size="9" fill="#444" text-anchor="middle" textLength="47" lengthAdjust="spacingAndGlyphs">Voltage, mV</text>
<path d="M80.5,525.90 L88.0,525.90 L88.6,505.90 L90.2,452.30 L92.2,457.70 L93.4,458.90 L93.9,458.99 L94.4,459.10 L94.9,459.21 L95.4,459.31 L95.9,459.41 L96.4,459.51 L96.9,459.61 L97.4,459.71 L97.9,459.81 L98.4,459.90 L98.9,460.00 L99.4,460.09 L99.9,460.18 L100.4,460.28 L100.9,460.37 L101.4,460.46 L101.9,460.55 L102.4,460.64 L102.9,460.72 L103.4,460.81 L103.9,460.90 L104.4,460.98 L104.9,461.07 L105.4,461.15 L105.9,461.24 L106.4,461.32 L106.9,461.41 L107.4,461.49 L107.9,461.58 L108.4,461.66 L108.9,461.75 L109.4,461.83 L109.9,461.91 L110.4,462.00 L110.9,462.08 L111.4,462.17 L111.9,462.25 L112.4,462.34 L112.9,462.42 L113.4,462.51 L113.9,462.60 L114.4,462.68 L114.9,462.77 L115.4,462.86 L115.9,462.95 L116.4,463.04 L116.9,463.13 L117.4,463.22 L117.9,463.31 L118.4,463.41 L118.9,463.50 L119.4,463.60 L119.9,463.69 L120.4,463.79 L120.9,463.89 L121.4,463.99 L121.9,464.09 L122.4,464.19 L122.9,464.30 L123.4,464.40 L123.9,464.51 L124.4,464.62 L124.9,464.73 L125.4,464.84 L125.9,464.96 L126.4,465.07 L126.9,465.19 L127.4,465.31 L127.9,465.43 L128.4,465.55 L128.9,465.68 L129.4,465.81 L129.9,465.94 L130.4,466.07 L130.9,466.20 L131.4,466.34 L131.9,466.48 L132.4,466.62 L132.9,466.77 L133.4,466.91 L133.9,467.06 L134.4,467.21 L134.9,467.37 L135.4,467.53 L135.9,467.69 L136.4,467.85 L136.9,468.02 L137.4,468.18 L137.9,468.36 L138.4,468.53 L138.9,468.71 L139.4,468.89 L139.9,469.07 L140.4,469.26 L140.9,469.45 L141.4,469.65 L141.9,469.85 L142.4,470.05 L142.9,470.25 L143.4,470.46 L143.9,470.67 L144.4,470.89 L144.9,471.11 L145.4,471.33 L145.9,471.56 L146.4,471.79 L146.9,472.02 L147.4,472.26 L147.9,472.51 L148.4,472.75 L148.9,473.01 L149.4,473.26 L149.9,473.52 L150.4,473.79 L150.9,474.05 L151.4,474.33 L151.9,474.60 L152.4,474.89 L152.9,475.17 L153.4,475.46 L153.9,475.76 L154.4,476.06 L154.9,476.37 L155.4,476.68 L155.9,476.99 L156.4,477.31 L156.9,477.64 L157.4,477.97 L157.9,478.30 L158.4,478.65 L158.9,478.99 L159.4,479.34 L159.9,479.70 L160.4,480.06 L160.9,480.43 L161.4,480.80 L161.9,481.18 L162.4,481.56 L162.9,481.95 L163.4,482.35 L163.9,482.75 L164.4,483.16 L164.9,483.57 L165.4,483.99 L165.9,484.41 L166.4,484.84 L166.9,485.28 L167.4,485.72 L167.9,486.17 L168.4,486.63 L168.9,487.09 L169.4,487.56 L169.9,488.03 L170.4,488.51 L170.9,489.00 L171.4,489.50 L171.9,490.01 L172.4,490.54 L172.9,491.08 L173.4,491.65 L173.9,492.23 L174.4,492.84 L174.9,493.48 L175.4,494.14 L175.9,494.84 L176.4,495.56 L176.9,496.33 L177.4,497.13 L177.9,497.97 L178.4,498.85 L178.9,499.78 L179.4,500.75 L179.9,501.77 L180.4,502.85 L180.9,503.97 L181.4,505.14 L181.9,506.34 L182.4,507.57 L182.9,508.83 L183.4,510.10 L183.9,511.38 L184.4,512.66 L184.9,513.93 L185.4,515.19 L185.9,516.42 L186.4,517.63 L186.9,518.80 L187.4,519.91 L187.9,520.97 L188.4,521.96 L188.9,522.87 L189.4,523.68 L189.9,524.40 L190.4,525.00 L190.9,525.48 L191.4,525.83 L191.9,525.90 L289.0,525.90" fill="none" stroke="#2d2d2d" stroke-width="1.15" stroke-linejoin="round"/>
<path d="M80.5,525.90 L88.0,525.90 L88.6,505.90 L90.2,452.30 L92.2,457.70 L93.4,458.90 L93.9,458.95 L94.4,459.00 L94.9,459.04 L95.4,459.09 L95.9,459.15 L96.4,459.20 L96.9,459.25 L97.4,459.31 L97.9,459.36 L98.4,459.42 L98.9,459.48 L99.4,459.54 L99.9,459.60 L100.4,459.66 L100.9,459.72 L101.4,459.78 L101.9,459.85 L102.4,459.92 L102.9,459.98 L103.4,460.05 L103.9,460.12 L104.4,460.19 L104.9,460.26 L105.4,460.34 L105.9,460.41 L106.4,460.49 L106.9,460.56 L107.4,460.64 L107.9,460.72 L108.4,460.80 L108.9,460.88 L109.4,460.96 L109.9,461.05 L110.4,461.13 L110.9,461.22 L111.4,461.30 L111.9,461.39 L112.4,461.48 L112.9,461.57 L113.4,461.66 L113.9,461.75 L114.4,461.85 L114.9,461.94 L115.4,462.04 L115.9,462.13 L116.4,462.23 L116.9,462.33 L117.4,462.43 L117.9,462.53 L118.4,462.63 L118.9,462.74 L119.4,462.84 L119.9,462.95 L120.4,463.05 L120.9,463.16 L121.4,463.27 L121.9,463.38 L122.4,463.49 L122.9,463.60 L123.4,463.72 L123.9,463.83 L124.4,463.94 L124.9,464.06 L125.4,464.18 L125.9,464.30 L126.4,464.42 L126.9,464.54 L127.4,464.66 L127.9,464.78 L128.4,464.91 L128.9,465.03 L129.4,465.16 L129.9,465.28 L130.4,465.41 L130.9,465.54 L131.4,465.67 L131.9,465.80 L132.4,465.93 L132.9,466.07 L133.4,466.20 L133.9,466.34 L134.4,466.47 L134.9,466.61 L135.4,466.75 L135.9,466.89 L136.4,467.03 L136.9,467.17 L137.4,467.32 L137.9,467.46 L138.4,467.60 L138.9,467.75 L139.4,467.90 L139.9,468.05 L140.4,468.19 L140.9,468.34 L141.4,468.50 L141.9,468.65 L142.4,468.80 L142.9,468.95 L143.4,469.11 L143.9,469.27 L144.4,469.42 L144.9,469.58 L145.4,469.74 L145.9,469.90 L146.4,470.06 L146.9,470.22 L147.4,470.39 L147.9,470.55 L148.4,470.72 L148.9,470.88 L149.4,471.05 L149.9,471.22 L150.4,471.39 L150.9,471.56 L151.4,471.73 L151.9,471.90 L152.4,472.07 L152.9,472.25 L153.4,472.42 L153.9,472.60 L154.4,472.78 L154.9,472.95 L155.4,473.13 L155.9,473.31 L156.4,473.49 L156.9,473.68 L157.4,473.86 L157.9,474.04 L158.4,474.23 L158.9,474.41 L159.4,474.60 L159.9,474.79 L160.4,474.98 L160.9,475.17 L161.4,475.36 L161.9,475.55 L162.4,475.74 L162.9,475.94 L163.4,476.13 L163.9,476.33 L164.4,476.52 L164.9,476.72 L165.4,476.92 L165.9,477.12 L166.4,477.32 L166.9,477.52 L167.4,477.72 L167.9,477.92 L168.4,478.13 L168.9,478.33 L169.4,478.54 L169.9,478.75 L170.4,478.95 L170.9,479.16 L171.4,479.37 L171.9,479.58 L172.4,479.79 L172.9,480.01 L173.4,480.22 L173.9,480.43 L174.4,480.65 L174.9,480.86 L175.4,481.08 L175.9,481.30 L176.4,481.52 L176.9,481.74 L177.4,481.96 L177.9,482.18 L178.4,482.40 L178.9,482.63 L179.4,482.85 L179.9,483.08 L180.4,483.30 L180.9,483.53 L181.4,483.76 L181.9,483.98 L182.4,484.21 L182.9,484.44 L183.4,484.68 L183.9,484.91 L184.4,485.14 L184.9,485.38 L185.4,485.61 L185.9,485.85 L186.4,486.08 L186.9,486.32 L187.4,486.57 L187.9,486.81 L188.4,487.07 L188.9,487.33 L189.4,487.60 L189.9,487.89 L190.4,488.18 L190.9,488.49 L191.4,488.82 L191.9,489.16 L192.4,489.52 L192.9,489.90 L193.4,490.30 L193.9,490.72 L194.4,491.17 L194.9,491.64 L195.4,492.14 L195.9,492.67 L196.4,493.23 L196.9,493.81 L197.4,494.44 L197.9,495.09 L198.4,495.78 L198.9,496.51 L199.4,497.27 L199.9,498.08 L200.4,498.93 L200.9,499.82 L201.4,500.75 L201.9,501.73 L202.4,502.76 L202.9,503.83 L203.4,504.96 L203.9,506.13 L204.4,507.36 L204.9,508.64 L205.4,509.98 L205.9,511.38 L206.4,512.83 L206.9,514.35 L207.4,515.92 L207.9,517.56 L208.4,519.24 L208.9,520.90 L209.4,522.44 L209.9,523.81 L210.4,524.92 L210.9,525.70 L211.4,525.90 L211.7,525.90 L289.0,525.90" fill="none" stroke="#2e3192" stroke-width="1.15" stroke-linejoin="round"/>
<path d="M80.5,525.90 L88.0,525.90 L88.6,505.90 L90.2,452.30 L92.2,457.70 L93.4,458.90 L93.9,458.95 L94.4,458.99 L94.9,459.03 L95.4,459.07 L95.9,459.12 L96.4,459.17 L96.9,459.22 L97.4,459.27 L97.9,459.32 L98.4,459.37 L98.9,459.42 L99.4,459.48 L99.9,459.53 L100.4,459.59 L100.9,459.65 L101.4,459.71 L101.9,459.77 L102.4,459.84 L102.9,459.90 L103.4,459.97 L103.9,460.03 L104.4,460.10 L104.9,460.17 L105.4,460.24 L105.9,460.32 L106.4,460.39 L106.9,460.46 L107.4,460.54 L107.9,460.62 L108.4,460.70 L108.9,460.78 L109.4,460.86 L109.9,460.94 L110.4,461.02 L110.9,461.11 L111.4,461.19 L111.9,461.28 L112.4,461.37 L112.9,461.46 L113.4,461.55 L113.9,461.64 L114.4,461.74 L114.9,461.83 L115.4,461.93 L115.9,462.02 L116.4,462.12 L116.9,462.22 L117.4,462.32 L117.9,462.42 L118.4,462.53 L118.9,462.63 L119.4,462.74 L119.9,462.84 L120.4,462.95 L120.9,463.06 L121.4,463.17 L121.9,463.28 L122.4,463.39 L122.9,463.51 L123.4,463.62 L123.9,463.74 L124.4,463.85 L124.9,463.97 L125.4,464.09 L125.9,464.21 L126.4,464.33 L126.9,464.45 L127.4,464.58 L127.9,464.70 L128.4,464.83 L128.9,464.95 L129.4,465.08 L129.9,465.21 L130.4,465.34 L130.9,465.47 L131.4,465.60 L131.9,465.74 L132.4,465.87 L132.9,466.00 L133.4,466.14 L133.9,466.28 L134.4,466.42 L134.9,466.56 L135.4,466.70 L135.9,466.84 L136.4,466.98 L136.9,467.12 L137.4,467.27 L137.9,467.41 L138.4,467.56 L138.9,467.71 L139.4,467.85 L139.9,468.00 L140.4,468.15 L140.9,468.31 L141.4,468.46 L141.9,468.61 L142.4,468.76 L142.9,468.92 L143.4,469.08 L143.9,469.23 L144.4,469.39 L144.9,469.55 L145.4,469.71 L145.9,469.87 L146.4,470.03 L146.9,470.19 L147.4,470.36 L147.9,470.52 L148.4,470.69 L148.9,470.85 L149.4,471.02 L149.9,471.19 L150.4,471.36 L150.9,471.53 L151.4,471.70 L151.9,471.87 L152.4,472.04 L152.9,472.22 L153.4,472.39 L153.9,472.57 L154.4,472.74 L154.9,472.92 L155.4,473.10 L155.9,473.27 L156.4,473.45 L156.9,473.63 L157.4,473.82 L157.9,474.00 L158.4,474.18 L158.9,474.36 L159.4,474.55 L159.9,474.73 L160.4,474.92 L160.9,475.11 L161.4,475.29 L161.9,475.48 L162.4,475.67 L162.9,475.86 L163.4,476.05 L163.9,476.24 L164.4,476.43 L164.9,476.63 L165.4,476.82 L165.9,477.02 L166.4,477.21 L166.9,477.41 L167.4,477.60 L167.9,477.80 L168.4,478.00 L168.9,478.20 L169.4,478.40 L169.9,478.60 L170.4,478.80 L170.9,479.00 L171.4,479.20 L171.9,479.41 L172.4,479.61 L172.9,479.82 L173.4,480.02 L173.9,480.23 L174.4,480.43 L174.9,480.64 L175.4,480.85 L175.9,481.06 L176.4,481.27 L176.9,481.48 L177.4,481.69 L177.9,481.90 L178.4,482.11 L178.9,482.32 L179.4,482.54 L179.9,482.75 L180.4,482.96 L180.9,483.18 L181.4,483.40 L181.9,483.61 L182.4,483.83 L182.9,484.05 L183.4,484.26 L183.9,484.48 L184.4,484.70 L184.9,484.92 L185.4,485.14 L185.9,485.36 L186.4,485.59 L186.9,485.81 L187.4,486.04 L187.9,486.27 L188.4,486.51 L188.9,486.75 L189.4,487.01 L189.9,487.27 L190.4,487.55 L190.9,487.83 L191.4,488.14 L191.9,488.46 L192.4,488.79 L192.9,489.14 L193.4,489.52 L193.9,489.91 L194.4,490.33 L194.9,490.77 L195.4,491.24 L195.9,491.73 L196.4,492.25 L196.9,492.80 L197.4,493.38 L197.9,493.99 L198.4,494.64 L198.9,495.32 L199.4,496.03 L199.9,496.79 L200.4,497.58 L200.9,498.41 L201.4,499.29 L201.9,500.20 L202.4,501.17 L202.9,502.17 L203.4,503.23 L203.9,504.33 L204.4,505.48 L204.9,506.69 L205.4,507.94 L205.9,509.25 L206.4,510.62 L206.9,512.04 L207.4,513.52 L207.9,515.06 L208.4,516.66 L208.9,518.32 L209.4,519.99 L209.9,521.61 L210.4,523.08 L210.9,524.35 L211.4,525.31 L211.9,525.90 L212.4,525.90 L212.5,525.90 L289.0,525.90" fill="none" stroke="#ee2a2c" stroke-width="1.15" stroke-linejoin="round"/>
<path d="M80.5,525.90 L88.0,525.90 L88.6,505.90 L90.2,452.30 L92.2,457.70 L93.4,458.90 L93.9,458.97 L94.4,459.04 L94.9,459.12 L95.4,459.20 L95.9,459.28 L96.4,459.35 L96.9,459.43 L97.4,459.51 L97.9,459.59 L98.4,459.67 L98.9,459.74 L99.4,459.82 L99.9,459.90 L100.4,459.98 L100.9,460.06 L101.4,460.14 L101.9,460.22 L102.4,460.30 L102.9,460.39 L103.4,460.47 L103.9,460.55 L104.4,460.63 L104.9,460.71 L105.4,460.80 L105.9,460.88 L106.4,460.97 L106.9,461.05 L107.4,461.14 L107.9,461.22 L108.4,461.31 L108.9,461.39 L109.4,461.48 L109.9,461.57 L110.4,461.66 L110.9,461.75 L111.4,461.84 L111.9,461.93 L112.4,462.02 L112.9,462.11 L113.4,462.20 L113.9,462.29 L114.4,462.39 L114.9,462.48 L115.4,462.58 L115.9,462.67 L116.4,462.77 L116.9,462.86 L117.4,462.96 L117.9,463.06 L118.4,463.16 L118.9,463.26 L119.4,463.36 L119.9,463.46 L120.4,463.56 L120.9,463.67 L121.4,463.77 L121.9,463.88 L122.4,463.98 L122.9,464.09 L123.4,464.20 L123.9,464.31 L124.4,464.42 L124.9,464.53 L125.4,464.64 L125.9,464.75 L126.4,464.87 L126.9,464.98 L127.4,465.10 L127.9,465.21 L128.4,465.33 L128.9,465.45 L129.4,465.57 L129.9,465.69 L130.4,465.81 L130.9,465.94 L131.4,466.06 L131.9,466.19 L132.4,466.31 L132.9,466.44 L133.4,466.57 L133.9,466.70 L134.4,466.83 L134.9,466.96 L135.4,467.10 L135.9,467.23 L136.4,467.37 L136.9,467.51 L137.4,467.65 L137.9,467.79 L138.4,467.93 L138.9,468.07 L139.4,468.22 L139.9,468.36 L140.4,468.51 L140.9,468.66 L141.4,468.81 L141.9,468.96 L142.4,469.11 L142.9,469.27 L143.4,469.42 L143.9,469.58 L144.4,469.74 L144.9,469.90 L145.4,470.06 L145.9,470.22 L146.4,470.39 L146.9,470.56 L147.4,470.72 L147.9,470.89 L148.4,471.06 L148.9,471.24 L149.4,471.41 L149.9,471.59 L150.4,471.77 L150.9,471.94 L151.4,472.13 L151.9,472.31 L152.4,472.49 L152.9,472.68 L153.4,472.87 L153.9,473.06 L154.4,473.25 L154.9,473.44 L155.4,473.64 L155.9,473.83 L156.4,474.03 L156.9,474.23 L157.4,474.43 L157.9,474.64 L158.4,474.84 L158.9,475.05 L159.4,475.26 L159.9,475.47 L160.4,475.69 L160.9,475.90 L161.4,476.12 L161.9,476.34 L162.4,476.56 L162.9,476.79 L163.4,477.01 L163.9,477.24 L164.4,477.47 L164.9,477.70 L165.4,477.93 L165.9,478.17 L166.4,478.41 L166.9,478.65 L167.4,478.89 L167.9,479.13 L168.4,479.38 L168.9,479.63 L169.4,479.88 L169.9,480.13 L170.4,480.39 L170.9,480.64 L171.4,480.90 L171.9,481.16 L172.4,481.43 L172.9,481.69 L173.4,481.96 L173.9,482.23 L174.4,482.51 L174.9,482.78 L175.4,483.06 L175.9,483.34 L176.4,483.62 L176.9,483.91 L177.4,484.19 L177.9,484.48 L178.4,484.77 L178.9,485.07 L179.4,485.37 L179.9,485.66 L180.4,485.97 L180.9,486.27 L181.4,486.58 L181.9,486.89 L182.4,487.20 L182.9,487.51 L183.4,487.83 L183.9,488.15 L184.4,488.47 L184.9,488.80 L185.4,489.12 L185.9,489.45 L186.4,489.79 L186.9,490.12 L187.4,490.47 L187.9,490.83 L188.4,491.20 L188.9,491.59 L189.4,492.00 L189.9,492.44 L190.4,492.90 L190.9,493.39 L191.4,493.91 L191.9,494.47 L192.4,495.06 L192.9,495.70 L193.4,496.38 L193.9,497.11 L194.4,497.89 L194.9,498.72 L195.4,499.61 L195.9,500.55 L196.4,501.56 L196.9,502.63 L197.4,503.77 L197.9,504.98 L198.4,506.27 L198.9,507.63 L199.4,509.07 L199.9,510.60 L200.4,512.21 L200.9,513.90 L201.4,515.69 L201.9,517.56 L202.4,519.44 L202.9,521.24 L203.4,522.88 L203.9,524.28 L204.4,525.33 L204.9,525.90 L205.4,525.90 L289.0,525.90" fill="none" stroke="#6dbf4b" stroke-width="1.15" stroke-linejoin="round"/>
<path d="M80.5,525.90 L88.0,525.90 L88.6,505.90 L90.2,452.30 L92.2,457.70 L93.4,458.90 L93.9,458.95 L94.4,459.00 L94.9,459.04 L95.4,459.09 L95.9,459.14 L96.4,459.20 L96.9,459.25 L97.4,459.30 L97.9,459.36 L98.4,459.41 L98.9,459.47 L99.4,459.53 L99.9,459.59 L100.4,459.65 L100.9,459.71 L101.4,459.78 L101.9,459.84 L102.4,459.91 L102.9,459.98 L103.4,460.05 L103.9,460.12 L104.4,460.19 L104.9,460.26 L105.4,460.33 L105.9,460.41 L106.4,460.48 L106.9,460.56 L107.4,460.64 L107.9,460.72 L108.4,460.80 L108.9,460.88 L109.4,460.97 L109.9,461.05 L110.4,461.14 L110.9,461.22 L111.4,461.31 L111.9,461.40 L112.4,461.49 L112.9,461.58 L113.4,461.68 L113.9,461.77 L114.4,461.86 L114.9,461.96 L115.4,462.06 L115.9,462.16 L116.4,462.26 L116.9,462.36 L117.4,462.46 L117.9,462.56 L118.4,462.67 L118.9,462.77 L119.4,462.88 L119.9,462.99 L120.4,463.10 L120.9,463.21 L121.4,463.32 L121.9,463.43 L122.4,463.55 L122.9,463.66 L123.4,463.78 L123.9,463.90 L124.4,464.02 L124.9,464.14 L125.4,464.26 L125.9,464.38 L126.4,464.50 L126.9,464.63 L127.4,464.75 L127.9,464.88 L128.4,465.01 L128.9,465.14 L129.4,465.27 L129.9,465.40 L130.4,465.53 L130.9,465.66 L131.4,465.80 L131.9,465.93 L132.4,466.07 L132.9,466.21 L133.4,466.35 L133.9,466.49 L134.4,466.63 L134.9,466.77 L135.4,466.92 L135.9,467.06 L136.4,467.21 L136.9,467.35 L137.4,467.50 L137.9,467.65 L138.4,467.80 L138.9,467.95 L139.4,468.11 L139.9,468.26 L140.4,468.41 L140.9,468.57 L141.4,468.73 L141.9,468.89 L142.4,469.05 L142.9,469.21 L143.4,469.37 L143.9,469.53 L144.4,469.69 L144.9,469.86 L145.4,470.02 L145.9,470.19 L146.4,470.36 L146.9,470.53 L147.4,470.70 L147.9,470.87 L148.4,471.04 L148.9,471.22 L149.4,471.39 L149.9,471.57 L150.4,471.74 L150.9,471.92 L151.4,472.10 L151.9,472.28 L152.4,472.46 L152.9,472.64 L153.4,472.83 L153.9,473.01 L154.4,473.20 L154.9,473.38 L155.4,473.57 L155.9,473.76 L156.4,473.95 L156.9,474.14 L157.4,474.33 L157.9,474.52 L158.4,474.72 L158.9,474.91 L159.4,475.11 L159.9,475.30 L160.4,475.50 L160.9,475.70 L161.4,475.90 L161.9,476.10 L162.4,476.30 L162.9,476.51 L163.4,476.71 L163.9,476.92 L164.4,477.12 L164.9,477.33 L165.4,477.54 L165.9,477.75 L166.4,477.96 L166.9,478.17 L167.4,478.38 L167.9,478.60 L168.4,478.81 L168.9,479.03 L169.4,479.24 L169.9,479.46 L170.4,479.68 L170.9,479.90 L171.4,480.12 L171.9,480.34 L172.4,480.57 L172.9,480.79 L173.4,481.01 L173.9,481.24 L174.4,481.47 L174.9,481.69 L175.4,481.92 L175.9,482.15 L176.4,482.38 L176.9,482.62 L177.4,482.85 L177.9,483.08 L178.4,483.32 L178.9,483.55 L179.4,483.79 L179.9,484.03 L180.4,484.27 L180.9,484.51 L181.4,484.75 L181.9,484.99 L182.4,485.23 L182.9,485.47 L183.4,485.72 L183.9,485.96 L184.4,486.21 L184.9,486.46 L185.4,486.71 L185.9,486.96 L186.4,487.21 L186.9,487.46 L187.4,487.72 L187.9,487.98 L188.4,488.26 L188.9,488.54 L189.4,488.83 L189.9,489.14 L190.4,489.46 L190.9,489.80 L191.4,490.16 L191.9,490.53 L192.4,490.93 L192.9,491.36 L193.4,491.81 L193.9,492.28 L194.4,492.79 L194.9,493.32 L195.4,493.89 L195.9,494.50 L196.4,495.14 L196.9,495.81 L197.4,496.53 L197.9,497.29 L198.4,498.09 L198.9,498.94 L199.4,499.83 L199.9,500.78 L200.4,501.77 L200.9,502.81 L201.4,503.91 L201.9,505.06 L202.4,506.27 L202.9,507.54 L203.4,508.88 L203.9,510.27 L204.4,511.73 L204.9,513.25 L205.4,514.84 L205.9,516.50 L206.4,518.21 L206.9,519.92 L207.4,521.54 L207.9,523.02 L208.4,524.29 L208.9,525.28 L209.4,525.90 L209.9,525.90 L210.2,525.90 L289.0,525.90" fill="none" stroke="#3fc0ee" stroke-width="1.15" stroke-linejoin="round"/>
<path d="M80.5,525.90 L88.0,525.90 L88.6,505.90 L90.2,452.30 L92.2,457.70 L93.4,458.90 L93.9,458.95 L94.4,459.00 L94.9,459.05 L95.4,459.10 L95.9,459.15 L96.4,459.21 L96.9,459.26 L97.4,459.31 L97.9,459.37 L98.4,459.43 L98.9,459.49 L99.4,459.55 L99.9,459.61 L100.4,459.67 L100.9,459.73 L101.4,459.79 L101.9,459.86 L102.4,459.93 L102.9,459.99 L103.4,460.06 L103.9,460.13 L104.4,460.20 L104.9,460.27 L105.4,460.34 L105.9,460.41 L106.4,460.49 L106.9,460.56 L107.4,460.64 L107.9,460.71 L108.4,460.79 L108.9,460.87 L109.4,460.95 L109.9,461.03 L110.4,461.11 L110.9,461.19 L111.4,461.28 L111.9,461.36 L112.4,461.45 L112.9,461.53 L113.4,461.62 L113.9,461.71 L114.4,461.80 L114.9,461.89 L115.4,461.98 L115.9,462.08 L116.4,462.17 L116.9,462.26 L117.4,462.36 L117.9,462.46 L118.4,462.55 L118.9,462.65 L119.4,462.75 L119.9,462.85 L120.4,462.95 L120.9,463.06 L121.4,463.16 L121.9,463.26 L122.4,463.37 L122.9,463.47 L123.4,463.58 L123.9,463.69 L124.4,463.80 L124.9,463.91 L125.4,464.02 L125.9,464.13 L126.4,464.25 L126.9,464.36 L127.4,464.48 L127.9,464.59 L128.4,464.71 L128.9,464.83 L129.4,464.95 L129.9,465.07 L130.4,465.19 L130.9,465.31 L131.4,465.43 L131.9,465.55 L132.4,465.68 L132.9,465.81 L133.4,465.93 L133.9,466.06 L134.4,466.19 L134.9,466.32 L135.4,466.45 L135.9,466.58 L136.4,466.71 L136.9,466.85 L137.4,466.98 L137.9,467.11 L138.4,467.25 L138.9,467.39 L139.4,467.53 L139.9,467.66 L140.4,467.80 L140.9,467.95 L141.4,468.09 L141.9,468.23 L142.4,468.37 L142.9,468.52 L143.4,468.66 L143.9,468.81 L144.4,468.96 L144.9,469.11 L145.4,469.26 L145.9,469.41 L146.4,469.56 L146.9,469.71 L147.4,469.86 L147.9,470.02 L148.4,470.17 L148.9,470.33 L149.4,470.49 L149.9,470.64 L150.4,470.80 L150.9,470.96 L151.4,471.12 L151.9,471.28 L152.4,471.45 L152.9,471.61 L153.4,471.77 L153.9,471.94 L154.4,472.10 L154.9,472.27 L155.4,472.44 L155.9,472.61 L156.4,472.78 L156.9,472.95 L157.4,473.12 L157.9,473.29 L158.4,473.47 L158.9,473.64 L159.4,473.82 L159.9,473.99 L160.4,474.17 L160.9,474.35 L161.4,474.53 L161.9,474.71 L162.4,474.89 L162.9,475.07 L163.4,475.25 L163.9,475.44 L164.4,475.62 L164.9,475.80 L165.4,475.99 L165.9,476.18 L166.4,476.37 L166.9,476.56 L167.4,476.74 L167.9,476.94 L168.4,477.13 L168.9,477.32 L169.4,477.51 L169.9,477.71 L170.4,477.90 L170.9,478.10 L171.4,478.30 L171.9,478.49 L172.4,478.69 L172.9,478.89 L173.4,479.09 L173.9,479.29 L174.4,479.50 L174.9,479.70 L175.4,479.90 L175.9,480.11 L176.4,480.31 L176.9,480.52 L177.4,480.73 L177.9,480.94 L178.4,481.15 L178.9,481.36 L179.4,481.57 L179.9,481.78 L180.4,481.99 L180.9,482.21 L181.4,482.42 L181.9,482.64 L182.4,482.85 L182.9,483.07 L183.4,483.29 L183.9,483.51 L184.4,483.73 L184.9,483.95 L185.4,484.17 L185.9,484.39 L186.4,484.62 L186.9,484.84 L187.4,485.07 L187.9,485.30 L188.4,485.54 L188.9,485.78 L189.4,486.03 L189.9,486.29 L190.4,486.55 L190.9,486.83 L191.4,487.11 L191.9,487.41 L192.4,487.72 L192.9,488.04 L193.4,488.38 L193.9,488.73 L194.4,489.10 L194.9,489.49 L195.4,489.89 L195.9,490.32 L196.4,490.76 L196.9,491.23 L197.4,491.72 L197.9,492.23 L198.4,492.77 L198.9,493.33 L199.4,493.92 L199.9,494.53 L200.4,495.17 L200.9,495.84 L201.4,496.55 L201.9,497.28 L202.4,498.04 L202.9,498.84 L203.4,499.67 L203.9,500.54 L204.4,501.44 L204.9,502.38 L205.4,503.36 L205.9,504.38 L206.4,505.45 L206.9,506.57 L207.4,507.73 L207.9,508.95 L208.4,510.23 L208.9,511.56 L209.4,512.96 L209.9,514.41 L210.4,515.94 L210.9,517.50 L211.4,519.06 L211.9,520.56 L212.4,521.97 L212.9,523.24 L213.4,524.33 L213.9,525.19 L214.4,525.77 L214.9,525.90 L215.4,525.90 L215.7,525.90 L289.0,525.90" fill="none" stroke="#f39a45" stroke-width="1.15" stroke-linejoin="round"/>
<text x="104.3" y="479.7" font-size="9" fill="#3a3a3a" textLength="23.8" lengthAdjust="spacingAndGlyphs">BASAL</text>
<line x1="81.8" y1="555.2" x2="81.8" y2="644.3" stroke="#222" stroke-width="1.1"/>
<line x1="81.3" y1="644.3" x2="283.7" y2="644.3" stroke="#222" stroke-width="1.1"/>
<line x1="77.3" y1="560.5" x2="81.8" y2="560.5" stroke="#222" stroke-width="0.9"/>
<line x1="77.3" y1="570.4" x2="81.8" y2="570.4" stroke="#222" stroke-width="0.9"/>
<text x="74.6" y="573.1" font-size="7.6" fill="#444" text-anchor="end">40</text>
<line x1="77.3" y1="580.3" x2="81.8" y2="580.3" stroke="#222" stroke-width="0.9"/>
<line x1="77.3" y1="590.2" x2="81.8" y2="590.2" stroke="#222" stroke-width="0.9"/>
<text x="74.6" y="592.9" font-size="7.6" fill="#444" text-anchor="end">0</text>
<line x1="77.3" y1="600.1" x2="81.8" y2="600.1" stroke="#222" stroke-width="0.9"/>
<line x1="77.3" y1="610.0" x2="81.8" y2="610.0" stroke="#222" stroke-width="0.9"/>
<text x="74.6" y="612.7" font-size="7.6" fill="#444" text-anchor="end">-40</text>
<line x1="77.3" y1="619.9" x2="81.8" y2="619.9" stroke="#222" stroke-width="0.9"/>
<line x1="77.3" y1="629.8" x2="81.8" y2="629.8" stroke="#222" stroke-width="0.9"/>
<text x="74.6" y="632.5" font-size="7.6" fill="#444" text-anchor="end">-80</text>
<line x1="77.3" y1="639.7" x2="81.8" y2="639.7" stroke="#222" stroke-width="0.9"/>
<line x1="81.8" y1="644.3" x2="81.8" y2="649.3" stroke="#222" stroke-width="1"/>
<line x1="102.0" y1="644.3" x2="102.0" y2="647.8" stroke="#222" stroke-width="1"/>
<line x1="122.1" y1="644.3" x2="122.1" y2="649.3" stroke="#222" stroke-width="1"/>
<line x1="142.3" y1="644.3" x2="142.3" y2="647.8" stroke="#222" stroke-width="1"/>
<line x1="162.5" y1="644.3" x2="162.5" y2="649.3" stroke="#222" stroke-width="1"/>
<line x1="182.7" y1="644.3" x2="182.7" y2="647.8" stroke="#222" stroke-width="1"/>
<line x1="202.8" y1="644.3" x2="202.8" y2="649.3" stroke="#222" stroke-width="1"/>
<line x1="223.0" y1="644.3" x2="223.0" y2="647.8" stroke="#222" stroke-width="1"/>
<line x1="243.2" y1="644.3" x2="243.2" y2="649.3" stroke="#222" stroke-width="1"/>
<text transform="translate(56.6,598.8) rotate(-90)" font-size="9" fill="#444" text-anchor="middle" textLength="47" lengthAdjust="spacingAndGlyphs">Voltage, mV</text>
<path d="M80.5,635.40 L86.6,635.40 L87.2,615.40 L88.1,563.10 L89.5,566.30 L90.7,567.50 L91.2,567.55 L91.7,567.62 L92.2,567.70 L92.7,567.77 L93.2,567.85 L93.7,567.93 L94.2,568.01 L94.7,568.09 L95.2,568.18 L95.7,568.26 L96.2,568.35 L96.7,568.44 L97.2,568.53 L97.7,568.62 L98.2,568.71 L98.7,568.81 L99.2,568.90 L99.7,569.00 L100.2,569.10 L100.7,569.20 L101.2,569.31 L101.7,569.41 L102.2,569.52 L102.7,569.63 L103.2,569.74 L103.7,569.85 L104.2,569.96 L104.7,570.08 L105.2,570.19 L105.7,570.31 L106.2,570.44 L106.7,570.56 L107.2,570.68 L107.7,570.81 L108.2,570.94 L108.7,571.07 L109.2,571.20 L109.7,571.34 L110.2,571.47 L110.7,571.61 L111.2,571.75 L111.7,571.89 L112.2,572.04 L112.7,572.18 L113.2,572.33 L113.7,572.48 L114.2,572.64 L114.7,572.79 L115.2,572.95 L115.7,573.11 L116.2,573.27 L116.7,573.43 L117.2,573.60 L117.7,573.77 L118.2,573.94 L118.7,574.11 L119.2,574.29 L119.7,574.47 L120.2,574.65 L120.7,574.83 L121.2,575.01 L121.7,575.20 L122.2,575.39 L122.7,575.58 L123.2,575.77 L123.7,575.97 L124.2,576.17 L124.7,576.37 L125.2,576.57 L125.7,576.78 L126.2,576.99 L126.7,577.20 L127.2,577.41 L127.7,577.63 L128.2,577.85 L128.7,578.07 L129.2,578.30 L129.7,578.52 L130.2,578.75 L130.7,578.99 L131.2,579.22 L131.7,579.46 L132.2,579.70 L132.7,579.94 L133.2,580.19 L133.7,580.44 L134.2,580.69 L134.7,580.94 L135.2,581.20 L135.7,581.46 L136.2,581.72 L136.7,581.99 L137.2,582.25 L137.7,582.53 L138.2,582.80 L138.7,583.08 L139.2,583.36 L139.7,583.64 L140.2,583.93 L140.7,584.22 L141.2,584.51 L141.7,584.80 L142.2,585.10 L142.7,585.40 L143.2,585.71 L143.7,586.01 L144.2,586.32 L144.7,586.64 L145.2,586.96 L145.7,587.28 L146.2,587.60 L146.7,587.92 L147.2,588.25 L147.7,588.59 L148.2,588.92 L148.7,589.26 L149.2,589.60 L149.7,589.95 L150.2,590.30 L150.7,590.65 L151.2,591.01 L151.7,591.37 L152.2,591.73 L152.7,592.10 L153.2,592.46 L153.7,592.84 L154.2,593.21 L154.7,593.59 L155.2,593.98 L155.7,594.36 L156.2,594.75 L156.7,595.15 L157.2,595.54 L157.7,595.94 L158.2,596.35 L158.7,596.76 L159.2,597.17 L159.7,597.59 L160.2,598.02 L160.7,598.47 L161.2,598.92 L161.7,599.39 L162.2,599.88 L162.7,600.39 L163.2,600.92 L163.7,601.47 L164.2,602.05 L164.7,602.66 L165.2,603.29 L165.7,603.96 L166.2,604.66 L166.7,605.40 L167.2,606.17 L167.7,606.98 L168.2,607.83 L168.7,608.73 L169.2,609.67 L169.7,610.66 L170.2,611.70 L170.7,612.79 L171.2,613.93 L171.7,615.13 L172.2,616.39 L172.7,617.70 L173.2,619.08 L173.7,620.51 L174.2,622.02 L174.7,623.59 L175.2,625.21 L175.7,626.84 L176.2,628.44 L176.7,629.97 L177.2,631.38 L177.7,632.64 L178.2,633.70 L178.7,634.53 L179.2,635.13 L179.7,635.40 L180.2,635.40 L180.7,635.40 L181.2,635.40 L181.4,635.40 L289.0,635.40" fill="none" stroke="#2d2d2d" stroke-width="1.15" stroke-linejoin="round"/>
<path d="M80.5,635.40 L86.6,635.40 L87.2,615.40 L88.1,563.10 L89.5,566.30 L90.7,567.50 L91.2,567.45 L91.7,567.45 L92.2,567.45 L92.7,567.45 L93.2,567.45 L93.7,567.45 L94.2,567.45 L94.7,567.45 L95.2,567.45 L95.7,567.45 L96.2,567.45 L96.7,567.45 L97.2,567.45 L97.7,567.45 L98.2,567.45 L98.7,567.45 L99.2,567.47 L99.7,567.52 L100.2,567.59 L100.7,567.65 L101.2,567.73 L101.7,567.81 L102.2,567.90 L102.7,567.99 L103.2,568.08 L103.7,568.18 L104.2,568.29 L104.7,568.40 L105.2,568.52 L105.7,568.64 L106.2,568.77 L106.7,568.90 L107.2,569.03 L107.7,569.17 L108.2,569.32 L108.7,569.46 L109.2,569.61 L109.7,569.77 L110.2,569.93 L110.7,570.09 L111.2,570.26 L111.7,570.43 L112.2,570.60 L112.7,570.78 L113.2,570.96 L113.7,571.14 L114.2,571.33 L114.7,571.52 L115.2,571.71 L115.7,571.90 L116.2,572.10 L116.7,572.30 L117.2,572.50 L117.7,572.70 L118.2,572.91 L118.7,573.11 L119.2,573.32 L119.7,573.53 L120.2,573.75 L120.7,573.96 L121.2,574.18 L121.7,574.39 L122.2,574.61 L122.7,574.83 L123.2,575.05 L123.7,575.27 L124.2,575.49 L124.7,575.72 L125.2,575.94 L125.7,576.16 L126.2,576.39 L126.7,576.61 L127.2,576.83 L127.7,577.06 L128.2,577.28 L128.7,577.51 L129.2,577.73 L129.7,577.95 L130.2,578.18 L130.7,578.40 L131.2,578.62 L131.7,578.84 L132.2,579.06 L132.7,579.28 L133.2,579.50 L133.7,579.71 L134.2,579.93 L134.7,580.14 L135.2,580.35 L135.7,580.56 L136.2,580.77 L136.7,580.98 L137.2,581.18 L137.7,581.39 L138.2,581.59 L138.7,581.78 L139.2,581.98 L139.7,582.17 L140.2,582.36 L140.7,582.55 L141.2,582.73 L141.7,582.91 L142.2,583.09 L142.7,583.27 L143.2,583.44 L143.7,583.61 L144.2,583.78 L144.7,583.94 L145.2,584.10 L145.7,584.26 L146.2,584.42 L146.7,584.58 L147.2,584.73 L147.7,584.89 L148.2,585.04 L148.7,585.20 L149.2,585.35 L149.7,585.51 L150.2,585.67 L150.7,585.83 L151.2,585.99 L151.7,586.15 L152.2,586.31 L152.7,586.48 L153.2,586.64 L153.7,586.82 L154.2,586.99 L154.7,587.17 L155.2,587.35 L155.7,587.54 L156.2,587.73 L156.7,587.92 L157.2,588.12 L157.7,588.33 L158.2,588.54 L158.7,588.76 L159.2,588.98 L159.7,589.21 L160.2,589.45 L160.7,589.69 L161.2,589.94 L161.7,590.20 L162.2,590.47 L162.7,590.75 L163.2,591.03 L163.7,591.32 L164.2,591.63 L164.7,591.94 L165.2,592.26 L165.7,592.59 L166.2,592.93 L166.7,593.29 L167.2,593.65 L167.7,594.03 L168.2,594.41 L168.7,594.81 L169.2,595.22 L169.7,595.64 L170.2,596.08 L170.7,596.53 L171.2,596.99 L171.7,597.47 L172.2,597.96 L172.7,598.47 L173.2,598.99 L173.7,599.53 L174.2,600.09 L174.7,600.66 L175.2,601.25 L175.7,601.86 L176.2,602.49 L176.7,603.14 L177.2,603.81 L177.7,604.50 L178.2,605.21 L178.7,605.94 L179.2,606.69 L179.7,607.47 L180.2,608.27 L180.7,609.10 L181.2,609.95 L181.7,610.83 L182.2,611.73 L182.7,612.66 L183.2,613.61 L183.7,614.60 L184.2,615.61 L184.7,616.65 L185.2,617.71 L185.7,618.81 L186.2,619.94 L186.7,621.10 L187.2,622.29 L187.7,623.50 L188.2,624.72 L188.7,625.95 L189.2,627.15 L189.7,628.34 L190.2,629.49 L190.7,630.59 L191.2,631.63 L191.7,632.60 L192.2,633.48 L192.7,634.28 L193.2,634.96 L193.7,635.40 L289.0,635.40" fill="none" stroke="#2e3192" stroke-width="1.15" stroke-linejoin="round"/>
<path d="M80.5,635.40 L86.6,635.40 L87.2,615.40 L88.1,563.10 L89.5,566.30 L90.7,567.50 L91.2,567.53 L91.7,567.56 L92.2,567.61 L92.7,567.65 L93.2,567.69 L93.7,567.73 L94.2,567.77 L94.7,567.82 L95.2,567.86 L95.7,567.90 L96.2,567.95 L96.7,568.00 L97.2,568.04 L97.7,568.09 L98.2,568.14 L98.7,568.19 L99.2,568.24 L99.7,568.29 L100.2,568.34 L100.7,568.39 L101.2,568.44 L101.7,568.50 L102.2,568.55 L102.7,568.61 L103.2,568.66 L103.7,568.72 L104.2,568.77 L104.7,568.83 L105.2,568.89 L105.7,568.95 L106.2,569.01 L106.7,569.06 L107.2,569.13 L107.7,569.19 L108.2,569.25 L108.7,569.31 L109.2,569.37 L109.7,569.44 L110.2,569.50 L110.7,569.57 L111.2,569.63 L111.7,569.70 L112.2,569.77 L112.7,569.83 L113.2,569.90 L113.7,569.97 L114.2,570.04 L114.7,570.11 L115.2,570.18 L115.7,570.25 L116.2,570.32 L116.7,570.40 L117.2,570.47 L117.7,570.54 L118.2,570.62 L118.7,570.69 L119.2,570.77 L119.7,570.84 L120.2,570.92 L120.7,571.00 L121.2,571.08 L121.7,571.16 L122.2,571.23 L122.7,571.31 L123.2,571.40 L123.7,571.48 L124.2,571.56 L124.7,571.64 L125.2,571.72 L125.7,571.81 L126.2,571.89 L126.7,571.98 L127.2,572.06 L127.7,572.15 L128.2,572.23 L128.7,572.32 L129.2,572.41 L129.7,572.50 L130.2,572.59 L130.7,572.68 L131.2,572.77 L131.7,572.86 L132.2,572.95 L132.7,573.04 L133.2,573.13 L133.7,573.22 L134.2,573.32 L134.7,573.41 L135.2,573.51 L135.7,573.60 L136.2,573.70 L136.7,573.79 L137.2,573.89 L137.7,573.99 L138.2,574.09 L138.7,574.19 L139.2,574.28 L139.7,574.38 L140.2,574.48 L140.7,574.58 L141.2,574.69 L141.7,574.79 L142.2,574.89 L142.7,574.99 L143.2,575.10 L143.7,575.20 L144.2,575.31 L144.7,575.41 L145.2,575.52 L145.7,575.62 L146.2,575.73 L146.7,575.84 L147.2,575.95 L147.7,576.05 L148.2,576.16 L148.7,576.27 L149.2,576.38 L149.7,576.49 L150.2,576.60 L150.7,576.71 L151.2,576.83 L151.7,576.94 L152.2,577.05 L152.7,577.17 L153.2,577.28 L153.7,577.39 L154.2,577.51 L154.7,577.63 L155.2,577.74 L155.7,577.86 L156.2,577.98 L156.7,578.09 L157.2,578.21 L157.7,578.33 L158.2,578.45 L158.7,578.57 L159.2,578.69 L159.7,578.81 L160.2,578.93 L160.7,579.05 L161.2,579.17 L161.7,579.30 L162.2,579.42 L162.7,579.54 L163.2,579.67 L163.7,579.79 L164.2,579.92 L164.7,580.04 L165.2,580.17 L165.7,580.30 L166.2,580.42 L166.7,580.55 L167.2,580.68 L167.7,580.81 L168.2,580.93 L168.7,581.06 L169.2,581.19 L169.7,581.32 L170.2,581.45 L170.7,581.59 L171.2,581.72 L171.7,581.85 L172.2,581.98 L172.7,582.11 L173.2,582.25 L173.7,582.38 L174.2,582.52 L174.7,582.65 L175.2,582.79 L175.7,582.92 L176.2,583.06 L176.7,583.19 L177.2,583.33 L177.7,583.47 L178.2,583.61 L178.7,583.74 L179.2,583.88 L179.7,584.02 L180.2,584.16 L180.7,584.30 L181.2,584.44 L181.7,584.58 L182.2,584.72 L182.7,584.87 L183.2,585.01 L183.7,585.15 L184.2,585.29 L184.7,585.44 L185.2,585.58 L185.7,585.72 L186.2,585.87 L186.7,586.01 L187.2,586.16 L187.7,586.30 L188.2,586.45 L188.7,586.60 L189.2,586.74 L189.7,586.89 L190.2,587.04 L190.7,587.19 L191.2,587.34 L191.7,587.48 L192.2,587.63 L192.7,587.78 L193.2,587.93 L193.7,588.08 L194.2,588.24 L194.7,588.39 L195.2,588.54 L195.7,588.69 L196.2,588.84 L196.7,589.00 L197.2,589.15 L197.7,589.30 L198.2,589.46 L198.7,589.61 L199.2,589.77 L199.7,589.92 L200.2,590.08 L200.7,590.23 L201.2,590.39 L201.7,590.54 L202.2,590.70 L202.7,590.86 L203.2,591.02 L203.7,591.17 L204.2,591.33 L204.7,591.49 L205.2,591.65 L205.7,591.81 L206.2,591.97 L206.7,592.13 L207.2,592.29 L207.7,592.45 L208.2,592.61 L208.7,592.77 L209.2,592.93 L209.7,593.10 L210.2,593.26 L210.7,593.42 L211.2,593.58 L211.7,593.75 L212.2,593.91 L212.7,594.08 L213.2,594.24 L213.7,594.41 L214.2,594.57 L214.7,594.74 L215.2,594.90 L215.7,595.07 L216.2,595.23 L216.7,595.40 L217.2,595.57 L217.7,595.73 L218.2,595.90 L218.7,596.07 L219.2,596.24 L219.7,596.41 L220.2,596.58 L220.7,596.75 L221.2,596.91 L221.7,597.08 L222.2,597.25 L222.7,597.42 L223.2,597.60 L223.7,597.77 L224.2,597.95 L224.7,598.12 L225.2,598.31 L225.7,598.50 L226.2,598.69 L226.7,598.89 L227.2,599.10 L227.7,599.32 L228.2,599.55 L228.7,599.79 L229.2,600.04 L229.7,600.30 L230.2,600.57 L230.7,600.86 L231.2,601.16 L231.7,601.48 L232.2,601.81 L232.7,602.16 L233.2,602.53 L233.7,602.92 L234.2,603.32 L234.7,603.75 L235.2,604.20 L235.7,604.67 L236.2,605.16 L236.7,605.68 L237.2,606.22 L237.7,606.79 L238.2,607.39 L238.7,608.01 L239.2,608.66 L239.7,609.33 L240.2,610.04 L240.7,610.78 L241.2,611.55 L241.7,612.35 L242.2,613.19 L242.7,614.05 L243.2,614.96 L243.7,615.90 L244.2,616.87 L244.7,617.89 L245.2,618.94 L245.7,620.03 L246.2,621.16 L246.7,622.33 L247.2,623.54 L247.7,624.80 L248.2,626.10 L248.7,627.42 L249.2,628.74 L249.7,630.02 L250.2,631.23 L250.7,632.36 L251.2,633.35 L251.7,634.19 L252.2,634.84 L252.7,635.28 L253.2,635.40 L253.7,635.40 L254.2,635.40 L254.6,635.40 L289.0,635.40" fill="none" stroke="#ee2a2c" stroke-width="1.15" stroke-linejoin="round"/>
<path d="M80.5,635.40 L86.6,635.40 L87.2,615.40 L88.1,563.10 L89.5,566.30 L90.7,567.50 L91.2,567.54 L91.7,567.57 L92.2,567.59 L92.7,567.62 L93.2,567.65 L93.7,567.68 L94.2,567.72 L94.7,567.75 L95.2,567.78 L95.7,567.82 L96.2,567.86 L96.7,567.90 L97.2,567.94 L97.7,567.98 L98.2,568.02 L98.7,568.07 L99.2,568.11 L99.7,568.16 L100.2,568.21 L100.7,568.26 L101.2,568.31 L101.7,568.36 L102.2,568.41 L102.7,568.47 L103.2,568.52 L103.7,568.58 L104.2,568.64 L104.7,568.70 L105.2,568.76 L105.7,568.82 L106.2,568.88 L106.7,568.95 L107.2,569.01 L107.7,569.08 L108.2,569.14 L108.7,569.21 L109.2,569.28 L109.7,569.35 L110.2,569.43 L110.7,569.50 L111.2,569.57 L111.7,569.65 L112.2,569.73 L112.7,569.80 L113.2,569.88 L113.7,569.96 L114.2,570.04 L114.7,570.12 L115.2,570.21 L115.7,570.29 L116.2,570.38 L116.7,570.46 L117.2,570.55 L117.7,570.64 L118.2,570.72 L118.7,570.81 L119.2,570.91 L119.7,571.00 L120.2,571.09 L120.7,571.18 L121.2,571.28 L121.7,571.37 L122.2,571.47 L122.7,571.57 L123.2,571.67 L123.7,571.77 L124.2,571.87 L124.7,571.97 L125.2,572.07 L125.7,572.17 L126.2,572.28 L126.7,572.38 L127.2,572.49 L127.7,572.59 L128.2,572.70 L128.7,572.81 L129.2,572.92 L129.7,573.03 L130.2,573.14 L130.7,573.25 L131.2,573.36 L131.7,573.47 L132.2,573.59 L132.7,573.70 L133.2,573.82 L133.7,573.93 L134.2,574.05 L134.7,574.17 L135.2,574.29 L135.7,574.40 L136.2,574.52 L136.7,574.64 L137.2,574.76 L137.7,574.89 L138.2,575.01 L138.7,575.13 L139.2,575.26 L139.7,575.38 L140.2,575.51 L140.7,575.63 L141.2,575.76 L141.7,575.88 L142.2,576.01 L142.7,576.14 L143.2,576.27 L143.7,576.40 L144.2,576.53 L144.7,576.66 L145.2,576.79 L145.7,576.92 L146.2,577.05 L146.7,577.19 L147.2,577.32 L147.7,577.45 L148.2,577.59 L148.7,577.72 L149.2,577.86 L149.7,577.99 L150.2,578.13 L150.7,578.27 L151.2,578.40 L151.7,578.54 L152.2,578.68 L152.7,578.82 L153.2,578.96 L153.7,579.10 L154.2,579.24 L154.7,579.38 L155.2,579.52 L155.7,579.66 L156.2,579.80 L156.7,579.95 L157.2,580.09 L157.7,580.23 L158.2,580.37 L158.7,580.52 L159.2,580.66 L159.7,580.81 L160.2,580.95 L160.7,581.10 L161.2,581.24 L161.7,581.39 L162.2,581.53 L162.7,581.68 L163.2,581.83 L163.7,581.97 L164.2,582.12 L164.7,582.27 L165.2,582.41 L165.7,582.56 L166.2,582.71 L166.7,582.86 L167.2,583.01 L167.7,583.16 L168.2,583.31 L168.7,583.45 L169.2,583.60 L169.7,583.75 L170.2,583.90 L170.7,584.05 L171.2,584.20 L171.7,584.35 L172.2,584.50 L172.7,584.66 L173.2,584.81 L173.7,584.96 L174.2,585.11 L174.7,585.26 L175.2,585.41 L175.7,585.56 L176.2,585.71 L176.7,585.86 L177.2,586.02 L177.7,586.17 L178.2,586.32 L178.7,586.47 L179.2,586.62 L179.7,586.77 L180.2,586.93 L180.7,587.08 L181.2,587.23 L181.7,587.38 L182.2,587.53 L182.7,587.69 L183.2,587.84 L183.7,587.99 L184.2,588.14 L184.7,588.29 L185.2,588.45 L185.7,588.60 L186.2,588.75 L186.7,588.90 L187.2,589.05 L187.7,589.20 L188.2,589.35 L188.7,589.51 L189.2,589.66 L189.7,589.81 L190.2,589.96 L190.7,590.11 L191.2,590.26 L191.7,590.41 L192.2,590.56 L192.7,590.71 L193.2,590.86 L193.7,591.01 L194.2,591.16 L194.7,591.31 L195.2,591.46 L195.7,591.61 L196.2,591.75 L196.7,591.90 L197.2,592.05 L197.7,592.20 L198.2,592.35 L198.7,592.49 L199.2,592.64 L199.7,592.79 L200.2,592.93 L200.7,593.08 L201.2,593.23 L201.7,593.37 L202.2,593.52 L202.7,593.66 L203.2,593.81 L203.7,593.95 L204.2,594.09 L204.7,594.24 L205.2,594.38 L205.7,594.52 L206.2,594.67 L206.7,594.81 L207.2,594.95 L207.7,595.09 L208.2,595.23 L208.7,595.37 L209.2,595.51 L209.7,595.65 L210.2,595.79 L210.7,595.93 L211.2,596.07 L211.7,596.21 L212.2,596.35 L212.7,596.48 L213.2,596.63 L213.7,596.77 L214.2,596.91 L214.7,597.06 L215.2,597.21 L215.7,597.37 L216.2,597.53 L216.7,597.70 L217.2,597.87 L217.7,598.05 L218.2,598.23 L218.7,598.43 L219.2,598.63 L219.7,598.84 L220.2,599.06 L220.7,599.29 L221.2,599.53 L221.7,599.78 L222.2,600.05 L222.7,600.32 L223.2,600.61 L223.7,600.92 L224.2,601.23 L224.7,601.56 L225.2,601.91 L225.7,602.27 L226.2,602.65 L226.7,603.05 L227.2,603.46 L227.7,603.89 L228.2,604.34 L228.7,604.81 L229.2,605.30 L229.7,605.81 L230.2,606.34 L230.7,606.89 L231.2,607.47 L231.7,608.07 L232.2,608.69 L232.7,609.34 L233.2,610.01 L233.7,610.72 L234.2,611.46 L234.7,612.23 L235.2,613.04 L235.7,613.88 L236.2,614.77 L236.7,615.69 L237.2,616.66 L237.7,617.67 L238.2,618.73 L238.7,619.83 L239.2,620.99 L239.7,622.19 L240.2,623.45 L240.7,624.76 L241.2,626.10 L241.7,627.44 L242.2,628.76 L242.7,630.04 L243.2,631.25 L243.7,632.38 L244.2,633.40 L244.7,634.28 L245.2,635.00 L245.7,635.40 L289.0,635.40" fill="none" stroke="#6dbf4b" stroke-width="1.15" stroke-linejoin="round"/>
<path d="M80.5,635.40 L86.6,635.40 L87.2,615.40 L88.1,563.10 L89.5,566.30 L90.7,567.50 L91.2,567.51 L91.7,567.53 L92.2,567.56 L92.7,567.59 L93.2,567.62 L93.7,567.65 L94.2,567.68 L94.7,567.71 L95.2,567.74 L95.7,567.78 L96.2,567.81 L96.7,567.84 L97.2,567.88 L97.7,567.91 L98.2,567.95 L98.7,567.98 L99.2,568.02 L99.7,568.06 L100.2,568.10 L100.7,568.14 L101.2,568.18 L101.7,568.22 L102.2,568.26 L102.7,568.30 L103.2,568.34 L103.7,568.38 L104.2,568.43 L104.7,568.47 L105.2,568.51 L105.7,568.56 L106.2,568.61 L106.7,568.65 L107.2,568.70 L107.7,568.75 L108.2,568.79 L108.7,568.84 L109.2,568.89 L109.7,568.94 L110.2,568.99 L110.7,569.05 L111.2,569.10 L111.7,569.15 L112.2,569.20 L112.7,569.26 L113.2,569.31 L113.7,569.37 L114.2,569.43 L114.7,569.48 L115.2,569.54 L115.7,569.60 L116.2,569.66 L116.7,569.71 L117.2,569.77 L117.7,569.84 L118.2,569.90 L118.7,569.96 L119.2,570.02 L119.7,570.08 L120.2,570.15 L120.7,570.21 L121.2,570.28 L121.7,570.34 L122.2,570.41 L122.7,570.47 L123.2,570.54 L123.7,570.61 L124.2,570.68 L124.7,570.75 L125.2,570.82 L125.7,570.89 L126.2,570.96 L126.7,571.03 L127.2,571.11 L127.7,571.18 L128.2,571.25 L128.7,571.33 L129.2,571.40 L129.7,571.48 L130.2,571.55 L130.7,571.63 L131.2,571.71 L131.7,571.79 L132.2,571.87 L132.7,571.95 L133.2,572.03 L133.7,572.11 L134.2,572.19 L134.7,572.27 L135.2,572.35 L135.7,572.44 L136.2,572.52 L136.7,572.60 L137.2,572.69 L137.7,572.78 L138.2,572.86 L138.7,572.95 L139.2,573.04 L139.7,573.13 L140.2,573.22 L140.7,573.31 L141.2,573.40 L141.7,573.49 L142.2,573.58 L142.7,573.67 L143.2,573.76 L143.7,573.86 L144.2,573.95 L144.7,574.05 L145.2,574.14 L145.7,574.24 L146.2,574.33 L146.7,574.43 L147.2,574.53 L147.7,574.63 L148.2,574.73 L148.7,574.83 L149.2,574.93 L149.7,575.03 L150.2,575.13 L150.7,575.23 L151.2,575.34 L151.7,575.44 L152.2,575.55 L152.7,575.65 L153.2,575.76 L153.7,575.86 L154.2,575.97 L154.7,576.08 L155.2,576.18 L155.7,576.29 L156.2,576.40 L156.7,576.51 L157.2,576.62 L157.7,576.74 L158.2,576.85 L158.7,576.96 L159.2,577.07 L159.7,577.19 L160.2,577.30 L160.7,577.42 L161.2,577.53 L161.7,577.65 L162.2,577.77 L162.7,577.88 L163.2,578.00 L163.7,578.12 L164.2,578.24 L164.7,578.36 L165.2,578.48 L165.7,578.60 L166.2,578.73 L166.7,578.85 L167.2,578.97 L167.7,579.10 L168.2,579.22 L168.7,579.35 L169.2,579.47 L169.7,579.60 L170.2,579.73 L170.7,579.85 L171.2,579.98 L171.7,580.11 L172.2,580.24 L172.7,580.37 L173.2,580.50 L173.7,580.63 L174.2,580.77 L174.7,580.90 L175.2,581.03 L175.7,581.17 L176.2,581.30 L176.7,581.44 L177.2,581.57 L177.7,581.71 L178.2,581.85 L178.7,581.99 L179.2,582.13 L179.7,582.26 L180.2,582.40 L180.7,582.55 L181.2,582.69 L181.7,582.83 L182.2,582.97 L182.7,583.11 L183.2,583.26 L183.7,583.40 L184.2,583.55 L184.7,583.69 L185.2,583.84 L185.7,583.99 L186.2,584.13 L186.7,584.28 L187.2,584.43 L187.7,584.58 L188.2,584.73 L188.7,584.88 L189.2,585.03 L189.7,585.19 L190.2,585.34 L190.7,585.49 L191.2,585.64 L191.7,585.80 L192.2,585.95 L192.7,586.11 L193.2,586.27 L193.7,586.42 L194.2,586.58 L194.7,586.74 L195.2,586.90 L195.7,587.06 L196.2,587.22 L196.7,587.38 L197.2,587.54 L197.7,587.70 L198.2,587.87 L198.7,588.03 L199.2,588.19 L199.7,588.36 L200.2,588.52 L200.7,588.69 L201.2,588.86 L201.7,589.02 L202.2,589.19 L202.7,589.36 L203.2,589.53 L203.7,589.70 L204.2,589.87 L204.7,590.04 L205.2,590.21 L205.7,590.39 L206.2,590.56 L206.7,590.73 L207.2,590.91 L207.7,591.08 L208.2,591.26 L208.7,591.43 L209.2,591.61 L209.7,591.79 L210.2,591.96 L210.7,592.14 L211.2,592.32 L211.7,592.50 L212.2,592.68 L212.7,592.86 L213.2,593.05 L213.7,593.23 L214.2,593.41 L214.7,593.60 L215.2,593.78 L215.7,593.97 L216.2,594.15 L216.7,594.34 L217.2,594.52 L217.7,594.71 L218.2,594.90 L218.7,595.09 L219.2,595.28 L219.7,595.47 L220.2,595.66 L220.7,595.85 L221.2,596.04 L221.7,596.24 L222.2,596.43 L222.7,596.62 L223.2,596.82 L223.7,597.01 L224.2,597.21 L224.7,597.40 L225.2,597.60 L225.7,597.80 L226.2,598.00 L226.7,598.20 L227.2,598.40 L227.7,598.60 L228.2,598.80 L228.7,599.00 L229.2,599.20 L229.7,599.40 L230.2,599.61 L230.7,599.81 L231.2,600.02 L231.7,600.22 L232.2,600.43 L232.7,600.63 L233.2,600.84 L233.7,601.05 L234.2,601.26 L234.7,601.47 L235.2,601.69 L235.7,601.92 L236.2,602.15 L236.7,602.40 L237.2,602.66 L237.7,602.93 L238.2,603.22 L238.7,603.53 L239.2,603.86 L239.7,604.21 L240.2,604.58 L240.7,604.98 L241.2,605.41 L241.7,605.87 L242.2,606.35 L242.7,606.88 L243.2,607.43 L243.7,608.02 L244.2,608.66 L244.7,609.33 L245.2,610.04 L245.7,610.80 L246.2,611.60 L246.7,612.46 L247.2,613.36 L247.7,614.31 L248.2,615.32 L248.7,616.38 L249.2,617.50 L249.7,618.68 L250.2,619.92 L250.7,621.22 L251.2,622.58 L251.7,624.01 L252.2,625.47 L252.7,626.94 L253.2,628.39 L253.7,629.79 L254.2,631.11 L254.7,632.32 L255.2,633.39 L255.7,634.29 L256.2,635.00 L256.7,635.40 L256.8,635.40 L289.0,635.40" fill="none" stroke="#3fc0ee" stroke-width="1.15" stroke-linejoin="round"/>
<path d="M80.5,635.40 L86.6,635.40 L87.2,615.40 L88.1,563.10 L89.5,566.30 L90.7,567.50 L91.2,567.47 L91.7,567.48 L92.2,567.49 L92.7,567.51 L93.2,567.52 L93.7,567.54 L94.2,567.56 L94.7,567.58 L95.2,567.60 L95.7,567.62 L96.2,567.64 L96.7,567.67 L97.2,567.69 L97.7,567.72 L98.2,567.74 L98.7,567.77 L99.2,567.80 L99.7,567.83 L100.2,567.86 L100.7,567.89 L101.2,567.93 L101.7,567.96 L102.2,568.00 L102.7,568.03 L103.2,568.07 L103.7,568.11 L104.2,568.15 L104.7,568.19 L105.2,568.23 L105.7,568.27 L106.2,568.32 L106.7,568.36 L107.2,568.41 L107.7,568.45 L108.2,568.50 L108.7,568.55 L109.2,568.60 L109.7,568.65 L110.2,568.70 L110.7,568.75 L111.2,568.81 L111.7,568.86 L112.2,568.92 L112.7,568.97 L113.2,569.03 L113.7,569.09 L114.2,569.15 L114.7,569.21 L115.2,569.27 L115.7,569.33 L116.2,569.39 L116.7,569.46 L117.2,569.52 L117.7,569.59 L118.2,569.65 L118.7,569.72 L119.2,569.79 L119.7,569.86 L120.2,569.93 L120.7,570.00 L121.2,570.07 L121.7,570.14 L122.2,570.22 L122.7,570.29 L123.2,570.36 L123.7,570.44 L124.2,570.52 L124.7,570.60 L125.2,570.67 L125.7,570.75 L126.2,570.83 L126.7,570.91 L127.2,571.00 L127.7,571.08 L128.2,571.16 L128.7,571.24 L129.2,571.33 L129.7,571.42 L130.2,571.50 L130.7,571.59 L131.2,571.68 L131.7,571.77 L132.2,571.85 L132.7,571.94 L133.2,572.04 L133.7,572.13 L134.2,572.22 L134.7,572.31 L135.2,572.41 L135.7,572.50 L136.2,572.60 L136.7,572.69 L137.2,572.79 L137.7,572.89 L138.2,572.98 L138.7,573.08 L139.2,573.18 L139.7,573.28 L140.2,573.38 L140.7,573.49 L141.2,573.59 L141.7,573.69 L142.2,573.79 L142.7,573.90 L143.2,574.00 L143.7,574.11 L144.2,574.21 L144.7,574.32 L145.2,574.43 L145.7,574.54 L146.2,574.65 L146.7,574.75 L147.2,574.86 L147.7,574.97 L148.2,575.09 L148.7,575.20 L149.2,575.31 L149.7,575.42 L150.2,575.54 L150.7,575.65 L151.2,575.76 L151.7,575.88 L152.2,576.00 L152.7,576.11 L153.2,576.23 L153.7,576.35 L154.2,576.46 L154.7,576.58 L155.2,576.70 L155.7,576.82 L156.2,576.94 L156.7,577.06 L157.2,577.18 L157.7,577.30 L158.2,577.43 L158.7,577.55 L159.2,577.67 L159.7,577.79 L160.2,577.92 L160.7,578.04 L161.2,578.17 L161.7,578.29 L162.2,578.42 L162.7,578.55 L163.2,578.67 L163.7,578.80 L164.2,578.93 L164.7,579.06 L165.2,579.18 L165.7,579.31 L166.2,579.44 L166.7,579.57 L167.2,579.70 L167.7,579.83 L168.2,579.96 L168.7,580.10 L169.2,580.23 L169.7,580.36 L170.2,580.49 L170.7,580.63 L171.2,580.76 L171.7,580.89 L172.2,581.03 L172.7,581.16 L173.2,581.30 L173.7,581.43 L174.2,581.57 L174.7,581.70 L175.2,581.84 L175.7,581.98 L176.2,582.11 L176.7,582.25 L177.2,582.39 L177.7,582.53 L178.2,582.66 L178.7,582.80 L179.2,582.94 L179.7,583.08 L180.2,583.22 L180.7,583.36 L181.2,583.50 L181.7,583.64 L182.2,583.78 L182.7,583.92 L183.2,584.06 L183.7,584.20 L184.2,584.35 L184.7,584.49 L185.2,584.63 L185.7,584.77 L186.2,584.91 L186.7,585.06 L187.2,585.20 L187.7,585.34 L188.2,585.49 L188.7,585.63 L189.2,585.77 L189.7,585.92 L190.2,586.06 L190.7,586.21 L191.2,586.35 L191.7,586.49 L192.2,586.64 L192.7,586.78 L193.2,586.93 L193.7,587.08 L194.2,587.22 L194.7,587.37 L195.2,587.51 L195.7,587.66 L196.2,587.80 L196.7,587.95 L197.2,588.10 L197.7,588.24 L198.2,588.39 L198.7,588.54 L199.2,588.68 L199.7,588.83 L200.2,588.98 L200.7,589.12 L201.2,589.27 L201.7,589.42 L202.2,589.57 L202.7,589.71 L203.2,589.86 L203.7,590.01 L204.2,590.15 L204.7,590.30 L205.2,590.45 L205.7,590.60 L206.2,590.75 L206.7,590.89 L207.2,591.04 L207.7,591.19 L208.2,591.34 L208.7,591.48 L209.2,591.63 L209.7,591.78 L210.2,591.93 L210.7,592.08 L211.2,592.22 L211.7,592.37 L212.2,592.52 L212.7,592.67 L213.2,592.81 L213.7,592.96 L214.2,593.11 L214.7,593.26 L215.2,593.40 L215.7,593.55 L216.2,593.70 L216.7,593.85 L217.2,593.99 L217.7,594.14 L218.2,594.29 L218.7,594.44 L219.2,594.58 L219.7,594.73 L220.2,594.88 L220.7,595.02 L221.2,595.17 L221.7,595.32 L222.2,595.46 L222.7,595.61 L223.2,595.75 L223.7,595.90 L224.2,596.05 L224.7,596.19 L225.2,596.34 L225.7,596.48 L226.2,596.63 L226.7,596.77 L227.2,596.92 L227.7,597.06 L228.2,597.21 L228.7,597.35 L229.2,597.49 L229.7,597.64 L230.2,597.78 L230.7,597.92 L231.2,598.07 L231.7,598.21 L232.2,598.35 L232.7,598.50 L233.2,598.64 L233.7,598.78 L234.2,598.92 L234.7,599.07 L235.2,599.21 L235.7,599.36 L236.2,599.51 L236.7,599.66 L237.2,599.82 L237.7,599.98 L238.2,600.15 L238.7,600.33 L239.2,600.51 L239.7,600.70 L240.2,600.90 L240.7,601.11 L241.2,601.33 L241.7,601.56 L242.2,601.80 L242.7,602.05 L243.2,602.32 L243.7,602.60 L244.2,602.89 L244.7,603.20 L245.2,603.53 L245.7,603.87 L246.2,604.23 L246.7,604.60 L247.2,605.00 L247.7,605.41 L248.2,605.84 L248.7,606.30 L249.2,606.77 L249.7,607.27 L250.2,607.79 L250.7,608.33 L251.2,608.90 L251.7,609.49 L252.2,610.11 L252.7,610.76 L253.2,611.43 L253.7,612.12 L254.2,612.85 L254.7,613.61 L255.2,614.40 L255.7,615.23 L256.2,616.09 L256.7,616.98 L257.2,617.92 L257.7,618.90 L258.2,619.92 L258.7,620.98 L259.2,622.09 L259.7,623.25 L260.2,624.46 L260.7,625.71 L261.2,626.98 L261.7,628.25 L262.2,629.50 L262.7,630.69 L263.2,631.82 L263.7,632.84 L264.2,633.74 L264.7,634.50 L265.2,635.09 L265.7,635.40 L289.0,635.40" fill="none" stroke="#f39a45" stroke-width="1.15" stroke-linejoin="round"/>
<text x="243" y="572.9" font-size="9" fill="#3a3a3a" textLength="33" lengthAdjust="spacingAndGlyphs">BETA-AR</text>
<line x1="81.8" y1="663.7" x2="81.8" y2="752.0" stroke="#222" stroke-width="1.1"/>
<line x1="81.3" y1="752.0" x2="283.7" y2="752.0" stroke="#222" stroke-width="1.1"/>
<line x1="77.3" y1="668.1" x2="81.8" y2="668.1" stroke="#222" stroke-width="0.9"/>
<line x1="77.3" y1="678.0" x2="81.8" y2="678.0" stroke="#222" stroke-width="0.9"/>
<text x="74.6" y="680.7" font-size="7.6" fill="#444" text-anchor="end">40</text>
<line x1="77.3" y1="687.9" x2="81.8" y2="687.9" stroke="#222" stroke-width="0.9"/>
<line x1="77.3" y1="697.8" x2="81.8" y2="697.8" stroke="#222" stroke-width="0.9"/>
<text x="74.6" y="700.5" font-size="7.6" fill="#444" text-anchor="end">0</text>
<line x1="77.3" y1="707.7" x2="81.8" y2="707.7" stroke="#222" stroke-width="0.9"/>
<line x1="77.3" y1="717.6" x2="81.8" y2="717.6" stroke="#222" stroke-width="0.9"/>
<text x="74.6" y="720.3" font-size="7.6" fill="#444" text-anchor="end">-40</text>
<line x1="77.3" y1="727.5" x2="81.8" y2="727.5" stroke="#222" stroke-width="0.9"/>
<line x1="77.3" y1="737.4" x2="81.8" y2="737.4" stroke="#222" stroke-width="0.9"/>
<text x="74.6" y="740.1" font-size="7.6" fill="#444" text-anchor="end">-80</text>
<line x1="77.3" y1="747.3" x2="81.8" y2="747.3" stroke="#222" stroke-width="0.9"/>
<line x1="81.8" y1="752.0" x2="81.8" y2="757.0" stroke="#222" stroke-width="1"/>
<line x1="102.0" y1="752.0" x2="102.0" y2="755.5" stroke="#222" stroke-width="1"/>
<line x1="122.1" y1="752.0" x2="122.1" y2="757.0" stroke="#222" stroke-width="1"/>
<line x1="142.3" y1="752.0" x2="142.3" y2="755.5" stroke="#222" stroke-width="1"/>
<line x1="162.5" y1="752.0" x2="162.5" y2="757.0" stroke="#222" stroke-width="1"/>
<line x1="182.7" y1="752.0" x2="182.7" y2="755.5" stroke="#222" stroke-width="1"/>
<line x1="202.8" y1="752.0" x2="202.8" y2="757.0" stroke="#222" stroke-width="1"/>
<line x1="223.0" y1="752.0" x2="223.0" y2="755.5" stroke="#222" stroke-width="1"/>
<line x1="243.2" y1="752.0" x2="243.2" y2="757.0" stroke="#222" stroke-width="1"/>
<text transform="translate(56.6,706.9) rotate(-90)" font-size="9" fill="#444" text-anchor="middle" textLength="47" lengthAdjust="spacingAndGlyphs">Voltage, mV</text>
<path d="M80.5,743.60 L87.2,743.60 L87.8,723.60 L89.0,671.10 L90.0,673.90 L91.2,675.10 L91.7,675.19 L92.2,675.31 L92.7,675.43 L93.2,675.55 L93.7,675.66 L94.2,675.78 L94.7,675.90 L95.2,676.02 L95.7,676.14 L96.2,676.26 L96.7,676.38 L97.2,676.50 L97.7,676.62 L98.2,676.74 L98.7,676.86 L99.2,676.98 L99.7,677.10 L100.2,677.22 L100.7,677.34 L101.2,677.47 L101.7,677.59 L102.2,677.71 L102.7,677.84 L103.2,677.96 L103.7,678.09 L104.2,678.22 L104.7,678.35 L105.2,678.48 L105.7,678.61 L106.2,678.74 L106.7,678.88 L107.2,679.01 L107.7,679.15 L108.2,679.29 L108.7,679.43 L109.2,679.57 L109.7,679.71 L110.2,679.85 L110.7,680.00 L111.2,680.15 L111.7,680.30 L112.2,680.45 L112.7,680.60 L113.2,680.76 L113.7,680.92 L114.2,681.07 L114.7,681.24 L115.2,681.40 L115.7,681.57 L116.2,681.74 L116.7,681.91 L117.2,682.08 L117.7,682.26 L118.2,682.44 L118.7,682.62 L119.2,682.80 L119.7,682.99 L120.2,683.18 L120.7,683.37 L121.2,683.57 L121.7,683.76 L122.2,683.97 L122.7,684.17 L123.2,684.38 L123.7,684.59 L124.2,684.80 L124.7,685.02 L125.2,685.24 L125.7,685.47 L126.2,685.69 L126.7,685.92 L127.2,686.16 L127.7,686.40 L128.2,686.64 L128.7,686.89 L129.2,687.14 L129.7,687.39 L130.2,687.65 L130.7,687.91 L131.2,688.17 L131.7,688.44 L132.2,688.72 L132.7,689.00 L133.2,689.28 L133.7,689.57 L134.2,689.86 L134.7,690.15 L135.2,690.45 L135.7,690.76 L136.2,691.07 L136.7,691.38 L137.2,691.70 L137.7,692.02 L138.2,692.35 L138.7,692.68 L139.2,693.02 L139.7,693.36 L140.2,693.71 L140.7,694.07 L141.2,694.42 L141.7,694.79 L142.2,695.16 L142.7,695.53 L143.2,695.91 L143.7,696.30 L144.2,696.69 L144.7,697.08 L145.2,697.49 L145.7,697.89 L146.2,698.31 L146.7,698.73 L147.2,699.15 L147.7,699.58 L148.2,700.02 L148.7,700.46 L149.2,700.91 L149.7,701.37 L150.2,701.83 L150.7,702.29 L151.2,702.77 L151.7,703.25 L152.2,703.74 L152.7,704.23 L153.2,704.73 L153.7,705.23 L154.2,705.75 L154.7,706.27 L155.2,706.80 L155.7,707.34 L156.2,707.90 L156.7,708.48 L157.2,709.08 L157.7,709.71 L158.2,710.36 L158.7,711.04 L159.2,711.76 L159.7,712.51 L160.2,713.30 L160.7,714.13 L161.2,715.01 L161.7,715.94 L162.2,716.92 L162.7,717.94 L163.2,719.02 L163.7,720.15 L164.2,721.31 L164.7,722.50 L165.2,723.72 L165.7,724.96 L166.2,726.22 L166.7,727.48 L167.2,728.75 L167.7,730.02 L168.2,731.28 L168.7,732.53 L169.2,733.76 L169.7,734.96 L170.2,736.12 L170.7,737.24 L171.2,738.29 L171.7,739.29 L172.2,740.20 L172.7,741.04 L173.2,741.77 L173.7,742.40 L174.2,742.92 L174.7,743.31 L175.2,743.57 L175.7,743.60 L286.5,743.60" fill="none" stroke="#2d2d2d" stroke-width="1.15" stroke-linejoin="round"/>
<path d="M80.5,743.60 L87.2,743.60 L87.8,723.60 L89.0,671.10 L90.0,673.90 L91.2,675.10 L91.7,675.14 L92.2,675.21 L92.7,675.28 L93.2,675.34 L93.7,675.42 L94.2,675.49 L94.7,675.57 L95.2,675.64 L95.7,675.73 L96.2,675.81 L96.7,675.89 L97.2,675.98 L97.7,676.07 L98.2,676.17 L98.7,676.26 L99.2,676.36 L99.7,676.46 L100.2,676.56 L100.7,676.67 L101.2,676.78 L101.7,676.89 L102.2,677.00 L102.7,677.11 L103.2,677.23 L103.7,677.35 L104.2,677.47 L104.7,677.59 L105.2,677.72 L105.7,677.85 L106.2,677.98 L106.7,678.11 L107.2,678.25 L107.7,678.38 L108.2,678.52 L108.7,678.66 L109.2,678.81 L109.7,678.95 L110.2,679.10 L110.7,679.25 L111.2,679.41 L111.7,679.56 L112.2,679.72 L112.7,679.88 L113.2,680.04 L113.7,680.20 L114.2,680.37 L114.7,680.54 L115.2,680.71 L115.7,680.88 L116.2,681.05 L116.7,681.23 L117.2,681.41 L117.7,681.59 L118.2,681.77 L118.7,681.96 L119.2,682.14 L119.7,682.33 L120.2,682.52 L120.7,682.72 L121.2,682.91 L121.7,683.11 L122.2,683.31 L122.7,683.51 L123.2,683.71 L123.7,683.91 L124.2,684.12 L124.7,684.33 L125.2,684.54 L125.7,684.75 L126.2,684.97 L126.7,685.19 L127.2,685.40 L127.7,685.62 L128.2,685.85 L128.7,686.07 L129.2,686.30 L129.7,686.53 L130.2,686.76 L130.7,686.99 L131.2,687.22 L131.7,687.46 L132.2,687.69 L132.7,687.93 L133.2,688.17 L133.7,688.42 L134.2,688.66 L134.7,688.91 L135.2,689.16 L135.7,689.41 L136.2,689.66 L136.7,689.91 L137.2,690.17 L137.7,690.43 L138.2,690.68 L138.7,690.95 L139.2,691.21 L139.7,691.47 L140.2,691.74 L140.7,692.01 L141.2,692.28 L141.7,692.55 L142.2,692.82 L142.7,693.09 L143.2,693.37 L143.7,693.65 L144.2,693.93 L144.7,694.21 L145.2,694.49 L145.7,694.78 L146.2,695.06 L146.7,695.35 L147.2,695.64 L147.7,695.93 L148.2,696.22 L148.7,696.51 L149.2,696.81 L149.7,697.11 L150.2,697.41 L150.7,697.71 L151.2,698.01 L151.7,698.31 L152.2,698.62 L152.7,698.92 L153.2,699.23 L153.7,699.54 L154.2,699.85 L154.7,700.16 L155.2,700.48 L155.7,700.79 L156.2,701.11 L156.7,701.43 L157.2,701.75 L157.7,702.07 L158.2,702.39 L158.7,702.71 L159.2,703.04 L159.7,703.38 L160.2,703.72 L160.7,704.08 L161.2,704.45 L161.7,704.83 L162.2,705.24 L162.7,705.67 L163.2,706.12 L163.7,706.60 L164.2,707.10 L164.7,707.64 L165.2,708.22 L165.7,708.83 L166.2,709.48 L166.7,710.17 L167.2,710.91 L167.7,711.70 L168.2,712.53 L168.7,713.42 L169.2,714.36 L169.7,715.36 L170.2,716.42 L170.7,717.55 L171.2,718.73 L171.7,719.96 L172.2,721.24 L172.7,722.55 L173.2,723.90 L173.7,725.27 L174.2,726.65 L174.7,728.04 L175.2,729.43 L175.7,730.82 L176.2,732.19 L176.7,733.54 L177.2,734.86 L177.7,736.13 L178.2,737.35 L178.7,738.50 L179.2,739.57 L179.7,740.55 L180.2,741.44 L180.7,742.21 L181.2,742.86 L181.7,743.37 L182.2,743.60 L286.5,743.60" fill="none" stroke="#2e3192" stroke-width="1.15" stroke-linejoin="round"/>
<path d="M80.5,743.60 L87.2,743.60 L87.8,723.60 L89.0,671.10 L90.0,673.90 L91.2,675.10 L91.7,675.08 L92.2,675.08 L92.7,675.08 L93.2,675.08 L93.7,675.08 L94.2,675.08 L94.7,675.08 L95.2,675.08 L95.7,675.08 L96.2,675.08 L96.7,675.08 L97.2,675.08 L97.7,675.08 L98.2,675.08 L98.7,675.08 L99.2,675.08 L99.7,675.09 L100.2,675.12 L100.7,675.15 L101.2,675.18 L101.7,675.22 L102.2,675.25 L102.7,675.29 L103.2,675.34 L103.7,675.38 L104.2,675.43 L104.7,675.48 L105.2,675.54 L105.7,675.59 L106.2,675.65 L106.7,675.71 L107.2,675.78 L107.7,675.84 L108.2,675.91 L108.7,675.98 L109.2,676.06 L109.7,676.13 L110.2,676.21 L110.7,676.29 L111.2,676.37 L111.7,676.45 L112.2,676.54 L112.7,676.63 L113.2,676.72 L113.7,676.81 L114.2,676.91 L114.7,677.00 L115.2,677.10 L115.7,677.20 L116.2,677.30 L116.7,677.40 L117.2,677.51 L117.7,677.62 L118.2,677.72 L118.7,677.83 L119.2,677.94 L119.7,678.06 L120.2,678.17 L120.7,678.29 L121.2,678.41 L121.7,678.53 L122.2,678.65 L122.7,678.77 L123.2,678.89 L123.7,679.01 L124.2,679.14 L124.7,679.27 L125.2,679.39 L125.7,679.52 L126.2,679.65 L126.7,679.79 L127.2,679.92 L127.7,680.05 L128.2,680.19 L128.7,680.32 L129.2,680.46 L129.7,680.59 L130.2,680.73 L130.7,680.87 L131.2,681.01 L131.7,681.15 L132.2,681.29 L132.7,681.43 L133.2,681.57 L133.7,681.72 L134.2,681.86 L134.7,682.00 L135.2,682.15 L135.7,682.29 L136.2,682.44 L136.7,682.58 L137.2,682.73 L137.7,682.87 L138.2,683.02 L138.7,683.17 L139.2,683.31 L139.7,683.46 L140.2,683.61 L140.7,683.75 L141.2,683.90 L141.7,684.05 L142.2,684.20 L142.7,684.34 L143.2,684.49 L143.7,684.64 L144.2,684.78 L144.7,684.93 L145.2,685.08 L145.7,685.22 L146.2,685.37 L146.7,685.51 L147.2,685.66 L147.7,685.80 L148.2,685.95 L148.7,686.09 L149.2,686.24 L149.7,686.38 L150.2,686.52 L150.7,686.66 L151.2,686.80 L151.7,686.94 L152.2,687.08 L152.7,687.22 L153.2,687.36 L153.7,687.50 L154.2,687.64 L154.7,687.77 L155.2,687.91 L155.7,688.04 L156.2,688.18 L156.7,688.31 L157.2,688.45 L157.7,688.58 L158.2,688.72 L158.7,688.85 L159.2,688.99 L159.7,689.12 L160.2,689.25 L160.7,689.39 L161.2,689.52 L161.7,689.66 L162.2,689.79 L162.7,689.92 L163.2,690.06 L163.7,690.20 L164.2,690.33 L164.7,690.47 L165.2,690.60 L165.7,690.74 L166.2,690.88 L166.7,691.02 L167.2,691.16 L167.7,691.30 L168.2,691.44 L168.7,691.58 L169.2,691.72 L169.7,691.86 L170.2,692.01 L170.7,692.15 L171.2,692.30 L171.7,692.45 L172.2,692.60 L172.7,692.75 L173.2,692.90 L173.7,693.05 L174.2,693.21 L174.7,693.36 L175.2,693.52 L175.7,693.68 L176.2,693.84 L176.7,694.00 L177.2,694.16 L177.7,694.33 L178.2,694.49 L178.7,694.66 L179.2,694.83 L179.7,695.01 L180.2,695.18 L180.7,695.36 L181.2,695.54 L181.7,695.72 L182.2,695.90 L182.7,696.08 L183.2,696.27 L183.7,696.46 L184.2,696.65 L184.7,696.85 L185.2,697.05 L185.7,697.24 L186.2,697.45 L186.7,697.65 L187.2,697.86 L187.7,698.07 L188.2,698.28 L188.7,698.50 L189.2,698.72 L189.7,698.94 L190.2,699.16 L190.7,699.39 L191.2,699.62 L191.7,699.85 L192.2,700.09 L192.7,700.33 L193.2,700.57 L193.7,700.82 L194.2,701.07 L194.7,701.32 L195.2,701.58 L195.7,701.84 L196.2,702.11 L196.7,702.37 L197.2,702.65 L197.7,702.92 L198.2,703.20 L198.7,703.48 L199.2,703.77 L199.7,704.06 L200.2,704.35 L200.7,704.65 L201.2,704.95 L201.7,705.26 L202.2,705.57 L202.7,705.88 L203.2,706.20 L203.7,706.53 L204.2,706.85 L204.7,707.19 L205.2,707.52 L205.7,707.86 L206.2,708.21 L206.7,708.56 L207.2,708.92 L207.7,709.29 L208.2,709.67 L208.7,710.06 L209.2,710.47 L209.7,710.91 L210.2,711.36 L210.7,711.84 L211.2,712.35 L211.7,712.88 L212.2,713.45 L212.7,714.05 L213.2,714.68 L213.7,715.36 L214.2,716.08 L214.7,716.84 L215.2,717.65 L215.7,718.50 L216.2,719.41 L216.7,720.37 L217.2,721.39 L217.7,722.47 L218.2,723.59 L218.7,724.76 L219.2,725.97 L219.7,727.20 L220.2,728.44 L220.7,729.70 L221.2,730.95 L221.7,732.19 L222.2,733.42 L222.7,734.62 L223.2,735.78 L223.7,736.90 L224.2,737.97 L224.7,738.97 L225.2,739.90 L225.7,740.75 L226.2,741.51 L226.7,742.16 L227.2,742.71 L227.7,743.14 L228.2,743.44 L228.7,743.60 L229.2,743.60 L229.6,743.60 L286.5,743.60" fill="none" stroke="#ee2a2c" stroke-width="1.15" stroke-linejoin="round"/>
<path d="M80.5,743.60 L87.2,743.60 L87.8,723.60 L89.0,671.10 L90.0,673.90 L91.2,675.10 L91.7,675.10 L92.2,675.10 L92.7,675.10 L93.2,675.10 L93.7,675.10 L94.2,675.10 L94.7,675.10 L95.2,675.10 L95.7,675.10 L96.2,675.10 L96.7,675.10 L97.2,675.10 L97.7,675.11 L98.2,675.12 L98.7,675.14 L99.2,675.16 L99.7,675.19 L100.2,675.21 L100.7,675.24 L101.2,675.27 L101.7,675.30 L102.2,675.33 L102.7,675.37 L103.2,675.41 L103.7,675.45 L104.2,675.49 L104.7,675.54 L105.2,675.58 L105.7,675.63 L106.2,675.68 L106.7,675.74 L107.2,675.79 L107.7,675.85 L108.2,675.90 L108.7,675.96 L109.2,676.03 L109.7,676.09 L110.2,676.16 L110.7,676.22 L111.2,676.29 L111.7,676.36 L112.2,676.44 L112.7,676.51 L113.2,676.59 L113.7,676.67 L114.2,676.75 L114.7,676.83 L115.2,676.91 L115.7,676.99 L116.2,677.08 L116.7,677.17 L117.2,677.26 L117.7,677.35 L118.2,677.44 L118.7,677.53 L119.2,677.63 L119.7,677.72 L120.2,677.82 L120.7,677.92 L121.2,678.02 L121.7,678.12 L122.2,678.23 L122.7,678.33 L123.2,678.44 L123.7,678.54 L124.2,678.65 L124.7,678.76 L125.2,678.87 L125.7,678.98 L126.2,679.10 L126.7,679.21 L127.2,679.33 L127.7,679.44 L128.2,679.56 L128.7,679.68 L129.2,679.80 L129.7,679.92 L130.2,680.04 L130.7,680.17 L131.2,680.29 L131.7,680.41 L132.2,680.54 L132.7,680.67 L133.2,680.79 L133.7,680.92 L134.2,681.05 L134.7,681.18 L135.2,681.31 L135.7,681.44 L136.2,681.58 L136.7,681.71 L137.2,681.84 L137.7,681.98 L138.2,682.11 L138.7,682.25 L139.2,682.38 L139.7,682.52 L140.2,682.66 L140.7,682.80 L141.2,682.94 L141.7,683.08 L142.2,683.22 L142.7,683.36 L143.2,683.50 L143.7,683.64 L144.2,683.78 L144.7,683.92 L145.2,684.06 L145.7,684.21 L146.2,684.35 L146.7,684.49 L147.2,684.64 L147.7,684.78 L148.2,684.93 L148.7,685.07 L149.2,685.22 L149.7,685.36 L150.2,685.51 L150.7,685.65 L151.2,685.80 L151.7,685.94 L152.2,686.09 L152.7,686.24 L153.2,686.38 L153.7,686.53 L154.2,686.68 L154.7,686.82 L155.2,686.97 L155.7,687.11 L156.2,687.26 L156.7,687.41 L157.2,687.55 L157.7,687.70 L158.2,687.84 L158.7,687.99 L159.2,688.13 L159.7,688.28 L160.2,688.42 L160.7,688.57 L161.2,688.71 L161.7,688.86 L162.2,689.00 L162.7,689.15 L163.2,689.29 L163.7,689.43 L164.2,689.57 L164.7,689.72 L165.2,689.86 L165.7,690.00 L166.2,690.14 L166.7,690.28 L167.2,690.42 L167.7,690.56 L168.2,690.70 L168.7,690.84 L169.2,690.97 L169.7,691.11 L170.2,691.25 L170.7,691.38 L171.2,691.52 L171.7,691.65 L172.2,691.79 L172.7,691.92 L173.2,692.05 L173.7,692.18 L174.2,692.31 L174.7,692.44 L175.2,692.57 L175.7,692.70 L176.2,692.83 L176.7,692.96 L177.2,693.08 L177.7,693.21 L178.2,693.33 L178.7,693.46 L179.2,693.59 L179.7,693.71 L180.2,693.84 L180.7,693.96 L181.2,694.09 L181.7,694.22 L182.2,694.34 L182.7,694.47 L183.2,694.60 L183.7,694.73 L184.2,694.86 L184.7,694.99 L185.2,695.12 L185.7,695.26 L186.2,695.39 L186.7,695.53 L187.2,695.67 L187.7,695.81 L188.2,695.95 L188.7,696.10 L189.2,696.24 L189.7,696.39 L190.2,696.54 L190.7,696.69 L191.2,696.85 L191.7,697.00 L192.2,697.16 L192.7,697.33 L193.2,697.49 L193.7,697.66 L194.2,697.83 L194.7,698.01 L195.2,698.19 L195.7,698.37 L196.2,698.55 L196.7,698.74 L197.2,698.93 L197.7,699.13 L198.2,699.33 L198.7,699.53 L199.2,699.74 L199.7,699.95 L200.2,700.16 L200.7,700.38 L201.2,700.61 L201.7,700.84 L202.2,701.07 L202.7,701.31 L203.2,701.56 L203.7,701.80 L204.2,702.06 L204.7,702.32 L205.2,702.58 L205.7,702.85 L206.2,703.13 L206.7,703.41 L207.2,703.69 L207.7,703.99 L208.2,704.28 L208.7,704.59 L209.2,704.90 L209.7,705.21 L210.2,705.54 L210.7,705.87 L211.2,706.20 L211.7,706.55 L212.2,706.90 L212.7,707.25 L213.2,707.61 L213.7,707.98 L214.2,708.36 L214.7,708.75 L215.2,709.14 L215.7,709.54 L216.2,709.95 L216.7,710.36 L217.2,710.78 L217.7,711.21 L218.2,711.65 L218.7,712.10 L219.2,712.56 L219.7,713.04 L220.2,713.53 L220.7,714.03 L221.2,714.55 L221.7,715.10 L222.2,715.66 L222.7,716.24 L223.2,716.84 L223.7,717.47 L224.2,718.13 L224.7,718.81 L225.2,719.52 L225.7,720.25 L226.2,721.02 L226.7,721.83 L227.2,722.66 L227.7,723.53 L228.2,724.44 L228.7,725.38 L229.2,726.37 L229.7,727.39 L230.2,728.46 L230.7,729.56 L231.2,730.72 L231.7,731.92 L232.2,733.16 L232.7,734.43 L233.2,735.70 L233.7,736.95 L234.2,738.15 L234.7,739.29 L235.2,740.35 L235.7,741.29 L236.2,742.11 L236.7,742.76 L237.2,743.24 L237.7,743.52 L237.9,743.60 L286.5,743.60" fill="none" stroke="#6dbf4b" stroke-width="1.15" stroke-linejoin="round"/>
<path d="M80.5,743.60 L87.2,743.60 L87.8,723.60 L89.0,671.10 L90.0,673.90 L91.2,675.10 L91.7,675.08 L92.2,675.09 L92.7,675.10 L93.2,675.12 L93.7,675.13 L94.2,675.15 L94.7,675.17 L95.2,675.19 L95.7,675.21 L96.2,675.23 L96.7,675.25 L97.2,675.27 L97.7,675.30 L98.2,675.32 L98.7,675.35 L99.2,675.38 L99.7,675.40 L100.2,675.43 L100.7,675.46 L101.2,675.50 L101.7,675.53 L102.2,675.56 L102.7,675.60 L103.2,675.64 L103.7,675.67 L104.2,675.71 L104.7,675.75 L105.2,675.79 L105.7,675.83 L106.2,675.88 L106.7,675.92 L107.2,675.96 L107.7,676.01 L108.2,676.06 L108.7,676.10 L109.2,676.15 L109.7,676.20 L110.2,676.25 L110.7,676.30 L111.2,676.36 L111.7,676.41 L112.2,676.47 L112.7,676.52 L113.2,676.58 L113.7,676.64 L114.2,676.69 L114.7,676.75 L115.2,676.81 L115.7,676.87 L116.2,676.94 L116.7,677.00 L117.2,677.06 L117.7,677.13 L118.2,677.20 L118.7,677.26 L119.2,677.33 L119.7,677.40 L120.2,677.47 L120.7,677.54 L121.2,677.61 L121.7,677.68 L122.2,677.76 L122.7,677.83 L123.2,677.90 L123.7,677.98 L124.2,678.06 L124.7,678.13 L125.2,678.21 L125.7,678.29 L126.2,678.37 L126.7,678.45 L127.2,678.53 L127.7,678.61 L128.2,678.70 L128.7,678.78 L129.2,678.87 L129.7,678.95 L130.2,679.04 L130.7,679.12 L131.2,679.21 L131.7,679.30 L132.2,679.39 L132.7,679.48 L133.2,679.57 L133.7,679.66 L134.2,679.76 L134.7,679.85 L135.2,679.94 L135.7,680.04 L136.2,680.13 L136.7,680.23 L137.2,680.32 L137.7,680.42 L138.2,680.52 L138.7,680.62 L139.2,680.72 L139.7,680.82 L140.2,680.92 L140.7,681.02 L141.2,681.12 L141.7,681.23 L142.2,681.33 L142.7,681.43 L143.2,681.54 L143.7,681.64 L144.2,681.75 L144.7,681.86 L145.2,681.96 L145.7,682.07 L146.2,682.18 L146.7,682.29 L147.2,682.40 L147.7,682.51 L148.2,682.62 L148.7,682.73 L149.2,682.84 L149.7,682.96 L150.2,683.07 L150.7,683.18 L151.2,683.30 L151.7,683.41 L152.2,683.53 L152.7,683.65 L153.2,683.76 L153.7,683.88 L154.2,684.00 L154.7,684.12 L155.2,684.23 L155.7,684.35 L156.2,684.47 L156.7,684.59 L157.2,684.72 L157.7,684.84 L158.2,684.96 L158.7,685.08 L159.2,685.20 L159.7,685.33 L160.2,685.45 L160.7,685.57 L161.2,685.70 L161.7,685.82 L162.2,685.95 L162.7,686.08 L163.2,686.20 L163.7,686.33 L164.2,686.46 L164.7,686.58 L165.2,686.71 L165.7,686.84 L166.2,686.97 L166.7,687.10 L167.2,687.23 L167.7,687.36 L168.2,687.49 L168.7,687.62 L169.2,687.75 L169.7,687.88 L170.2,688.02 L170.7,688.15 L171.2,688.28 L171.7,688.42 L172.2,688.55 L172.7,688.68 L173.2,688.82 L173.7,688.95 L174.2,689.09 L174.7,689.22 L175.2,689.36 L175.7,689.49 L176.2,689.63 L176.7,689.76 L177.2,689.90 L177.7,690.04 L178.2,690.18 L178.7,690.31 L179.2,690.45 L179.7,690.59 L180.2,690.73 L180.7,690.87 L181.2,691.00 L181.7,691.14 L182.2,691.28 L182.7,691.42 L183.2,691.56 L183.7,691.70 L184.2,691.84 L184.7,691.98 L185.2,692.12 L185.7,692.26 L186.2,692.41 L186.7,692.55 L187.2,692.69 L187.7,692.83 L188.2,692.97 L188.7,693.11 L189.2,693.26 L189.7,693.40 L190.2,693.54 L190.7,693.68 L191.2,693.83 L191.7,693.97 L192.2,694.11 L192.7,694.25 L193.2,694.40 L193.7,694.54 L194.2,694.68 L194.7,694.83 L195.2,694.97 L195.7,695.12 L196.2,695.26 L196.7,695.40 L197.2,695.55 L197.7,695.69 L198.2,695.84 L198.7,695.98 L199.2,696.12 L199.7,696.27 L200.2,696.41 L200.7,696.56 L201.2,696.70 L201.7,696.85 L202.2,696.99 L202.7,697.14 L203.2,697.28 L203.7,697.42 L204.2,697.57 L204.7,697.71 L205.2,697.86 L205.7,698.00 L206.2,698.15 L206.7,698.29 L207.2,698.44 L207.7,698.58 L208.2,698.73 L208.7,698.87 L209.2,699.02 L209.7,699.16 L210.2,699.30 L210.7,699.45 L211.2,699.59 L211.7,699.74 L212.2,699.88 L212.7,700.03 L213.2,700.17 L213.7,700.31 L214.2,700.46 L214.7,700.60 L215.2,700.74 L215.7,700.89 L216.2,701.03 L216.7,701.17 L217.2,701.32 L217.7,701.46 L218.2,701.60 L218.7,701.75 L219.2,701.89 L219.7,702.03 L220.2,702.17 L220.7,702.31 L221.2,702.46 L221.7,702.60 L222.2,702.74 L222.7,702.88 L223.2,703.02 L223.7,703.16 L224.2,703.30 L224.7,703.44 L225.2,703.58 L225.7,703.72 L226.2,703.86 L226.7,704.00 L227.2,704.14 L227.7,704.28 L228.2,704.42 L228.7,704.56 L229.2,704.70 L229.7,704.84 L230.2,704.98 L230.7,705.12 L231.2,705.27 L231.7,705.42 L232.2,705.58 L232.7,705.74 L233.2,705.90 L233.7,706.08 L234.2,706.26 L234.7,706.44 L235.2,706.64 L235.7,706.85 L236.2,707.06 L236.7,707.29 L237.2,707.53 L237.7,707.78 L238.2,708.05 L238.7,708.33 L239.2,708.62 L239.7,708.93 L240.2,709.25 L240.7,709.60 L241.2,709.95 L241.7,710.33 L242.2,710.73 L242.7,711.14 L243.2,711.58 L243.7,712.03 L244.2,712.51 L244.7,713.01 L245.2,713.54 L245.7,714.09 L246.2,714.66 L246.7,715.26 L247.2,715.88 L247.7,716.53 L248.2,717.21 L248.7,717.91 L249.2,718.65 L249.7,719.41 L250.2,720.21 L250.7,721.04 L251.2,721.89 L251.7,722.78 L252.2,723.71 L252.7,724.67 L253.2,725.66 L253.7,726.69 L254.2,727.75 L254.7,728.85 L255.2,729.99 L255.7,731.16 L256.2,732.38 L256.7,733.60 L257.2,734.84 L257.7,736.05 L258.2,737.24 L258.7,738.37 L259.2,739.44 L259.7,740.43 L260.2,741.32 L260.7,742.09 L261.2,742.73 L261.7,743.22 L262.2,743.55 L262.7,743.60 L263.0,743.60 L286.5,743.60" fill="none" stroke="#3fc0ee" stroke-width="1.15" stroke-linejoin="round"/>
<path d="M80.5,743.60 L87.2,743.60 L87.8,723.60 L89.0,671.10 L90.0,673.90 L91.2,675.10 L91.7,675.08 L92.2,675.09 L92.7,675.10 L93.2,675.12 L93.7,675.13 L94.2,675.15 L94.7,675.17 L95.2,675.19 L95.7,675.21 L96.2,675.23 L96.7,675.25 L97.2,675.27 L97.7,675.30 L98.2,675.32 L98.7,675.35 L99.2,675.38 L99.7,675.40 L100.2,675.43 L100.7,675.46 L101.2,675.50 L101.7,675.53 L102.2,675.56 L102.7,675.60 L103.2,675.64 L103.7,675.67 L104.2,675.71 L104.7,675.75 L105.2,675.79 L105.7,675.83 L106.2,675.88 L106.7,675.92 L107.2,675.96 L107.7,676.01 L108.2,676.06 L108.7,676.10 L109.2,676.15 L109.7,676.20 L110.2,676.25 L110.7,676.30 L111.2,676.36 L111.7,676.41 L112.2,676.47 L112.7,676.52 L113.2,676.58 L113.7,676.64 L114.2,676.69 L114.7,676.75 L115.2,676.81 L115.7,676.87 L116.2,676.94 L116.7,677.00 L117.2,677.06 L117.7,677.13 L118.2,677.20 L118.7,677.26 L119.2,677.33 L119.7,677.40 L120.2,677.47 L120.7,677.54 L121.2,677.61 L121.7,677.68 L122.2,677.76 L122.7,677.83 L123.2,677.90 L123.7,677.98 L124.2,678.06 L124.7,678.13 L125.2,678.21 L125.7,678.29 L126.2,678.37 L126.7,678.45 L127.2,678.53 L127.7,678.61 L128.2,678.70 L128.7,678.78 L129.2,678.87 L129.7,678.95 L130.2,679.04 L130.7,679.12 L131.2,679.21 L131.7,679.30 L132.2,679.39 L132.7,679.48 L133.2,679.57 L133.7,679.66 L134.2,679.76 L134.7,679.85 L135.2,679.94 L135.7,680.04 L136.2,680.13 L136.7,680.23 L137.2,680.32 L137.7,680.42 L138.2,680.52 L138.7,680.62 L139.2,680.72 L139.7,680.82 L140.2,680.92 L140.7,681.02 L141.2,681.12 L141.7,681.23 L142.2,681.33 L142.7,681.43 L143.2,681.54 L143.7,681.64 L144.2,681.75 L144.7,681.86 L145.2,681.96 L145.7,682.07 L146.2,682.18 L146.7,682.29 L147.2,682.40 L147.7,682.51 L148.2,682.62 L148.7,682.73 L149.2,682.84 L149.7,682.96 L150.2,683.07 L150.7,683.18 L151.2,683.30 L151.7,683.41 L152.2,683.53 L152.7,683.65 L153.2,683.76 L153.7,683.88 L154.2,684.00 L154.7,684.12 L155.2,684.23 L155.7,684.35 L156.2,684.47 L156.7,684.59 L157.2,684.72 L157.7,684.84 L158.2,684.96 L158.7,685.08 L159.2,685.20 L159.7,685.33 L160.2,685.45 L160.7,685.57 L161.2,685.70 L161.7,685.82 L162.2,685.95 L162.7,686.08 L163.2,686.20 L163.7,686.33 L164.2,686.46 L164.7,686.58 L165.2,686.71 L165.7,686.84 L166.2,686.97 L166.7,687.10 L167.2,687.23 L167.7,687.36 L168.2,687.49 L168.7,687.62 L169.2,687.75 L169.7,687.88 L170.2,688.02 L170.7,688.15 L171.2,688.28 L171.7,688.42 L172.2,688.55 L172.7,688.68 L173.2,688.82 L173.7,688.95 L174.2,689.09 L174.7,689.22 L175.2,689.36 L175.7,689.49 L176.2,689.63 L176.7,689.76 L177.2,689.90 L177.7,690.04 L178.2,690.18 L178.7,690.31 L179.2,690.45 L179.7,690.59 L180.2,690.73 L180.7,690.87 L181.2,691.00 L181.7,691.14 L182.2,691.28 L182.7,691.42 L183.2,691.56 L183.7,691.70 L184.2,691.84 L184.7,691.98 L185.2,692.12 L185.7,692.26 L186.2,692.41 L186.7,692.55 L187.2,692.69 L187.7,692.83 L188.2,692.97 L188.7,693.11 L189.2,693.26 L189.7,693.40 L190.2,693.54 L190.7,693.68 L191.2,693.83 L191.7,693.97 L192.2,694.11 L192.7,694.25 L193.2,694.40 L193.7,694.54 L194.2,694.68 L194.7,694.83 L195.2,694.97 L195.7,695.12 L196.2,695.26 L196.7,695.40 L197.2,695.55 L197.7,695.69 L198.2,695.84 L198.7,695.98 L199.2,696.12 L199.7,696.27 L200.2,696.41 L200.7,696.56 L201.2,696.70 L201.7,696.85 L202.2,696.99 L202.7,697.14 L203.2,697.28 L203.7,697.42 L204.2,697.57 L204.7,697.71 L205.2,697.86 L205.7,698.00 L206.2,698.15 L206.7,698.29 L207.2,698.44 L207.7,698.58 L208.2,698.73 L208.7,698.87 L209.2,699.02 L209.7,699.16 L210.2,699.30 L210.7,699.45 L211.2,699.59 L211.7,699.74 L212.2,699.88 L212.7,700.03 L213.2,700.17 L213.7,700.31 L214.2,700.46 L214.7,700.60 L215.2,700.74 L215.7,700.89 L216.2,701.03 L216.7,701.17 L217.2,701.32 L217.7,701.46 L218.2,701.60 L218.7,701.75 L219.2,701.89 L219.7,702.03 L220.2,702.17 L220.7,702.31 L221.2,702.46 L221.7,702.60 L222.2,702.74 L222.7,702.88 L223.2,703.02 L223.7,703.16 L224.2,703.30 L224.7,703.44 L225.2,703.58 L225.7,703.72 L226.2,703.86 L226.7,704.00 L227.2,704.14 L227.7,704.28 L228.2,704.42 L228.7,704.56 L229.2,704.70 L229.7,704.84 L230.2,704.98 L230.7,705.12 L231.2,705.27 L231.7,705.42 L232.2,705.58 L232.7,705.74 L233.2,705.90 L233.7,706.08 L234.2,706.26 L234.7,706.44 L235.2,706.64 L235.7,706.85 L236.2,707.06 L236.7,707.29 L237.2,707.53 L237.7,707.78 L238.2,708.05 L238.7,708.33 L239.2,708.62 L239.7,708.93 L240.2,709.25 L240.7,709.60 L241.2,709.95 L241.7,710.33 L242.2,710.73 L242.7,711.14 L243.2,711.58 L243.7,712.03 L244.2,712.51 L244.7,713.01 L245.2,713.54 L245.7,714.09 L246.2,714.66 L246.7,715.26 L247.2,715.88 L247.7,716.53 L248.2,717.21 L248.7,717.91 L249.2,718.65 L249.7,719.41 L250.2,720.21 L250.7,721.04 L251.2,721.89 L251.7,722.78 L252.2,723.71 L252.7,724.67 L253.2,725.66 L253.7,726.69 L254.2,727.75 L254.7,728.85 L255.2,729.99 L255.7,731.16 L256.2,732.38 L256.7,733.60 L257.2,734.84 L257.7,736.05 L258.2,737.24 L258.7,738.37 L259.2,739.44 L259.7,740.43 L260.2,741.32 L260.7,742.09 L261.2,742.73 L261.7,743.22 L262.2,743.55 L262.7,743.60 L263.0,743.60 L286.5,743.60" fill="none" stroke="#f39a45" stroke-width="1.15" stroke-linejoin="round"/>
<text x="205.3" y="677.2" font-size="9" fill="#3a3a3a" textLength="70.7" lengthAdjust="spacingAndGlyphs">BETA + ALPHA -AR</text>
<path d="M186.5,635.2 Q189.5,632.8 194,634.6" fill="none" stroke="#ee2a2c" stroke-width="1.3"/>
<line x1="187" y1="647.5" x2="195" y2="647.5" stroke="#3cb44a" stroke-width="1.2"/>
<text x="122.1" y="765.6" font-size="7.6" fill="#444" text-anchor="middle">100</text>
<text x="162.5" y="765.6" font-size="7.6" fill="#444" text-anchor="middle">200</text>
<text x="202.8" y="765.6" font-size="7.6" fill="#444" text-anchor="middle">300</text>
<text x="243.2" y="765.6" font-size="7.6" fill="#444" text-anchor="middle">400</text>
<text x="178.6" y="786.1" font-size="13" font-weight="bold" fill="#222" text-anchor="middle">time (ms)</text>
<rect x="217.5" y="434.5" width="69.1" height="86.7" fill="#fff" stroke="#222" stroke-width="1"/>
<line x1="222.3" y1="445.2" x2="244.8" y2="445.2" stroke="#2d2d2d" stroke-width="1.3"/>
<text x="264.3" y="448.5" font-size="10.6" fill="#3c3c3c" text-anchor="middle" transform="translate(264.3,0) scale(0.77,1) translate(-264.3,0)">WT</text>
<line x1="222.3" y1="457.8" x2="244.8" y2="457.8" stroke="#ee2a2c" stroke-width="1.3"/>
<text x="264.3" y="461.1" font-size="10.6" fill="#3c3c3c" text-anchor="middle" transform="translate(264.3,0) scale(0.77,1) translate(-264.3,0)">G168R</text>
<line x1="222.3" y1="470.5" x2="244.8" y2="470.5" stroke="#6dbf4b" stroke-width="1.3"/>
<text x="264.3" y="473.8" font-size="10.6" fill="#3c3c3c" text-anchor="middle" transform="translate(264.3,0) scale(0.77,1) translate(-264.3,0)">S225L</text>
<line x1="222.3" y1="483.1" x2="244.8" y2="483.1" stroke="#3fc0ee" stroke-width="1.3"/>
<text x="264.3" y="486.4" font-size="10.6" fill="#3c3c3c" text-anchor="middle" transform="translate(264.3,0) scale(0.77,1) translate(-264.3,0)">R243C</text>
<line x1="222.3" y1="495.8" x2="244.8" y2="495.8" stroke="#f39a45" stroke-width="1.3"/>
<text x="264.3" y="499.1" font-size="10.6" fill="#3c3c3c" text-anchor="middle" transform="translate(264.3,0) scale(0.77,1) translate(-264.3,0)">V254M</text>
<line x1="222.3" y1="508.4" x2="244.8" y2="508.4" stroke="#2e3192" stroke-width="1.3"/>
<text x="264.3" y="511.8" font-size="10.6" fill="#3c3c3c" text-anchor="middle" transform="translate(264.3,0) scale(0.77,1) translate(-264.3,0)">R555C</text>
</g>
<g id="E">
<text x="333.6" y="449.1" font-size="25.5" font-weight="bold" fill="#141414" stroke="#fff" stroke-width="0.22">E.</text>
<line x1="404.0" y1="453.4" x2="404.0" y2="640.2" stroke="#222" stroke-width="1.2"/>
<line x1="403.4" y1="640.2" x2="598" y2="640.2" stroke="#222" stroke-width="1.2"/>
<line x1="399.5" y1="453.2" x2="404.0" y2="453.2" stroke="#222" stroke-width="1"/>
<line x1="399.5" y1="480.6" x2="404.0" y2="480.6" stroke="#222" stroke-width="1"/>
<line x1="399.5" y1="508.1" x2="404.0" y2="508.1" stroke="#222" stroke-width="1"/>
<line x1="399.5" y1="535.6" x2="404.0" y2="535.6" stroke="#222" stroke-width="1"/>
<line x1="399.5" y1="563.1" x2="404.0" y2="563.1" stroke="#222" stroke-width="1"/>
<line x1="399.5" y1="590.5" x2="404.0" y2="590.5" stroke="#222" stroke-width="1"/>
<line x1="399.5" y1="618.0" x2="404.0" y2="618.0" stroke="#222" stroke-width="1"/>
<text x="397" y="511.9" font-size="11" fill="#555" text-anchor="end">400</text>
<text x="397" y="566.9" font-size="11" fill="#555" text-anchor="end">350</text>
<text x="397" y="621.8" font-size="11" fill="#555" text-anchor="end">300</text>
<line x1="404.0" y1="640.2" x2="404.0" y2="643.7" stroke="#222" stroke-width="1"/>
<line x1="421.6" y1="640.2" x2="421.6" y2="643.7" stroke="#222" stroke-width="1"/>
<line x1="439.2" y1="640.2" x2="439.2" y2="643.7" stroke="#222" stroke-width="1"/>
<line x1="456.8" y1="640.2" x2="456.8" y2="643.7" stroke="#222" stroke-width="1"/>
<line x1="474.4" y1="640.2" x2="474.4" y2="643.7" stroke="#222" stroke-width="1"/>
<line x1="492.0" y1="640.2" x2="492.0" y2="643.7" stroke="#222" stroke-width="1"/>
<line x1="509.6" y1="640.2" x2="509.6" y2="643.7" stroke="#222" stroke-width="1"/>
<line x1="527.2" y1="640.2" x2="527.2" y2="643.7" stroke="#222" stroke-width="1"/>
<line x1="544.8" y1="640.2" x2="544.8" y2="643.7" stroke="#222" stroke-width="1"/>
<line x1="562.4" y1="640.2" x2="562.4" y2="643.7" stroke="#222" stroke-width="1"/>
<line x1="580.0" y1="640.2" x2="580.0" y2="643.7" stroke="#222" stroke-width="1"/>
<line x1="597.6" y1="640.2" x2="597.6" y2="643.7" stroke="#222" stroke-width="1"/>
<text x="404.3" y="655.6" font-size="11" fill="#555" text-anchor="middle">0.00</text>
<text x="439.5" y="655.6" font-size="11" fill="#555" text-anchor="middle">0.05</text>
<text x="474.7" y="655.6" font-size="11" fill="#555" text-anchor="middle">0.10</text>
<text x="509.9" y="655.6" font-size="11" fill="#555" text-anchor="middle">0.15</text>
<text x="545.1" y="655.6" font-size="11" fill="#555" text-anchor="middle">0.20</text>
<text x="580.3" y="655.6" font-size="11" fill="#555" text-anchor="middle">0.25</text>
<text x="488.7" y="671.2" font-size="11.6" fill="#444" text-anchor="middle" textLength="134" lengthAdjust="spacingAndGlyphs">Sudden Arousal Event Rate</text>
<text transform="translate(373.6,543.4) rotate(-90)" font-size="11.6" fill="#444" text-anchor="middle" textLength="107" lengthAdjust="spacingAndGlyphs">Simulated APD, msec</text>
<line x1="413.4" y1="508.7" x2="596.2" y2="473.6" stroke="#ee3a45" stroke-width="1.2"/>
<line x1="413.4" y1="582.2" x2="596.2" y2="453.4" stroke="#3aa55a" stroke-width="1.2"/>
<line x1="413.4" y1="617.3" x2="596.2" y2="613.4" stroke="#333" stroke-width="1.2"/>
<circle cx="429.0" cy="499.3" r="3.5" fill="#e8202a"/>
<circle cx="486.8" cy="512.6" r="3.5" fill="#e8202a"/>
<circle cx="543.9" cy="461.2" r="3.5" fill="#e8202a"/>
<circle cx="580.6" cy="486.3" r="3.5" fill="#e8202a"/>
<path d="M425.0,571.8 L429.0,564.9 L433.0,571.8 Z" fill="#10a050"/>
<path d="M482.8,544.5999999999999 L486.8,537.6999999999999 L490.8,544.5999999999999 Z" fill="#10a050"/>
<path d="M539.9,478.40000000000003 L543.9,471.5 L547.9,478.40000000000003 Z" fill="#10a050"/>
<path d="M576.6,474.3 L580.6,467.4 L584.6,474.3 Z" fill="#10a050"/>
<rect x="425.9" y="608.6999999999999" width="6.2" height="6.2" fill="#141414"/>
<rect x="483.7" y="626.6" width="6.2" height="6.2" fill="#141414"/>
<rect x="540.8" y="598.5" width="6.2" height="6.2" fill="#141414"/>
<rect x="577.5" y="614.3" width="6.2" height="6.2" fill="#141414"/>
<rect x="379.5" y="678.6" width="226" height="78" fill="#fff" stroke="#222" stroke-width="1.2"/>
<rect x="395.9" y="693.8" width="8.2" height="8.2" fill="#141414"/>
<circle cx="400" cy="719.6" r="4.1" fill="#e8202a"/>
<path d="M394.5,746.2 L400,736.4 L405.5,746.2 Z" fill="#10a050"/>
<text x="421.3" y="702" font-size="14.6" fill="#333" lengthAdjust="spacingAndGlyphs" textLength="138.8">BASAL R<tspan font-size="7.5" dy="-6.5">2</tspan><tspan dy="6.5">=0.01, p=0.88</tspan></text>
<text x="421.3" y="724.3" font-size="14.6" fill="#333" lengthAdjust="spacingAndGlyphs" textLength="129.8">BETA R<tspan font-size="7.5" dy="-6.5">2</tspan><tspan dy="6.5">=0.33, p=0.42</tspan></text>
<text x="421.3" y="746.4" font-size="14.6" fill="#333" lengthAdjust="spacingAndGlyphs" textLength="183.1">BETA+ ALPHA R<tspan font-size="7.5" dy="-6.5">2</tspan><tspan dy="6.5">=0.95, p&lt;0.03</tspan></text>
</g>
</svg>
</body></html>
